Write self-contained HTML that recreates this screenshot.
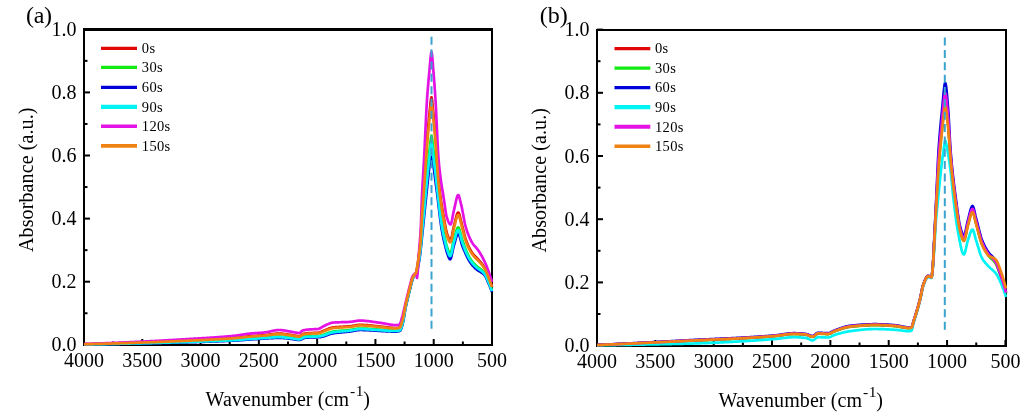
<!DOCTYPE html>
<html><head><meta charset="utf-8"><style>
html,body{margin:0;padding:0;background:#fff;}
svg{display:block;will-change:transform;}
text{font-family:"Liberation Serif",serif;fill:#000;}
.tl{font-size:20px;}
.at{font-size:20px;}
.lg{font-size:14.5px;letter-spacing:0.35px;}
.pl{font-size:24px;}
</style></head><body>
<svg width="1032" height="419" viewBox="0 0 1032 419">
<rect width="1032" height="419" fill="#fff"/>
<line x1="83" y1="29.5" x2="493" y2="29.5" stroke="#000" stroke-width="3"/>
<line x1="492" y1="29.5" x2="492" y2="346" stroke="#000" stroke-width="2"/>
<line x1="84" y1="29.5" x2="84" y2="346" stroke="#000" stroke-width="2"/>
<line x1="83" y1="345" x2="493" y2="345" stroke="#000" stroke-width="2"/>
<line x1="84.00" y1="345" x2="84.00" y2="339" stroke="#000" stroke-width="2"/>
<line x1="113.14" y1="345" x2="113.14" y2="341.5" stroke="#000" stroke-width="2"/>
<line x1="142.29" y1="345" x2="142.29" y2="339" stroke="#000" stroke-width="2"/>
<line x1="171.43" y1="345" x2="171.43" y2="341.5" stroke="#000" stroke-width="2"/>
<line x1="200.57" y1="345" x2="200.57" y2="339" stroke="#000" stroke-width="2"/>
<line x1="229.71" y1="345" x2="229.71" y2="341.5" stroke="#000" stroke-width="2"/>
<line x1="258.86" y1="345" x2="258.86" y2="339" stroke="#000" stroke-width="2"/>
<line x1="288.00" y1="345" x2="288.00" y2="341.5" stroke="#000" stroke-width="2"/>
<line x1="317.14" y1="345" x2="317.14" y2="339" stroke="#000" stroke-width="2"/>
<line x1="346.29" y1="345" x2="346.29" y2="341.5" stroke="#000" stroke-width="2"/>
<line x1="375.43" y1="345" x2="375.43" y2="339" stroke="#000" stroke-width="2"/>
<line x1="404.57" y1="345" x2="404.57" y2="341.5" stroke="#000" stroke-width="2"/>
<line x1="433.71" y1="345" x2="433.71" y2="339" stroke="#000" stroke-width="2"/>
<line x1="462.86" y1="345" x2="462.86" y2="341.5" stroke="#000" stroke-width="2"/>
<line x1="492.00" y1="345" x2="492.00" y2="339" stroke="#000" stroke-width="2"/>
<line x1="84" y1="344.80" x2="90" y2="344.80" stroke="#000" stroke-width="2"/>
<line x1="84" y1="313.25" x2="87.5" y2="313.25" stroke="#000" stroke-width="2"/>
<line x1="84" y1="281.70" x2="90" y2="281.70" stroke="#000" stroke-width="2"/>
<line x1="84" y1="250.15" x2="87.5" y2="250.15" stroke="#000" stroke-width="2"/>
<line x1="84" y1="218.60" x2="90" y2="218.60" stroke="#000" stroke-width="2"/>
<line x1="84" y1="187.05" x2="87.5" y2="187.05" stroke="#000" stroke-width="2"/>
<line x1="84" y1="155.50" x2="90" y2="155.50" stroke="#000" stroke-width="2"/>
<line x1="84" y1="123.95" x2="87.5" y2="123.95" stroke="#000" stroke-width="2"/>
<line x1="84" y1="92.40" x2="90" y2="92.40" stroke="#000" stroke-width="2"/>
<line x1="84" y1="60.85" x2="87.5" y2="60.85" stroke="#000" stroke-width="2"/>
<line x1="84" y1="29.30" x2="90" y2="29.30" stroke="#000" stroke-width="2"/>
<path d="M84.0 344.23 L84.5 344.22 L85.0 344.20 L85.5 344.19 L86.0 344.18 L86.5 344.16 L87.0 344.15 L87.5 344.14 L88.0 344.13 L88.5 344.11 L89.0 344.10 L89.5 344.09 L90.0 344.07 L90.5 344.06 L91.0 344.05 L91.5 344.03 L92.0 344.02 L92.5 344.01 L93.0 343.99 L93.5 343.98 L94.0 343.97 L94.5 343.95 L95.0 343.94 L95.5 343.93 L96.0 343.91 L96.5 343.90 L97.0 343.89 L97.5 343.87 L98.0 343.86 L98.5 343.84 L99.0 343.83 L99.5 343.82 L100.0 343.80 L100.5 343.79 L101.0 343.77 L101.5 343.76 L102.0 343.74 L102.5 343.73 L103.0 343.72 L103.5 343.70 L104.0 343.69 L104.5 343.67 L105.0 343.66 L105.5 343.64 L106.0 343.63 L106.5 343.61 L107.0 343.60 L107.5 343.58 L108.0 343.57 L108.5 343.55 L109.0 343.54 L109.5 343.52 L110.0 343.51 L110.5 343.49 L111.0 343.48 L111.5 343.46 L112.0 343.45 L112.5 343.43 L113.0 343.42 L113.5 343.40 L114.0 343.38 L114.5 343.37 L115.0 343.35 L115.5 343.34 L116.0 343.32 L116.5 343.31 L117.0 343.29 L117.5 343.27 L118.0 343.26 L118.5 343.24 L119.0 343.23 L119.5 343.21 L120.0 343.19 L120.5 343.18 L121.0 343.16 L121.5 343.15 L122.0 343.13 L122.5 343.11 L123.0 343.10 L123.5 343.08 L124.0 343.06 L124.5 343.05 L125.0 343.03 L125.5 343.01 L126.0 343.00 L126.5 342.98 L127.0 342.97 L127.5 342.95 L128.0 342.93 L128.5 342.91 L129.0 342.90 L129.5 342.88 L130.0 342.86 L130.5 342.85 L131.0 342.83 L131.5 342.81 L132.0 342.80 L132.5 342.78 L133.0 342.76 L133.5 342.75 L134.0 342.73 L134.5 342.71 L135.0 342.69 L135.5 342.68 L136.0 342.66 L136.5 342.64 L137.0 342.62 L137.5 342.61 L138.0 342.59 L138.5 342.57 L139.0 342.55 L139.5 342.54 L140.0 342.52 L140.5 342.50 L141.0 342.48 L141.5 342.46 L142.0 342.45 L142.5 342.43 L143.0 342.41 L143.5 342.39 L144.0 342.37 L144.5 342.35 L145.0 342.34 L145.5 342.32 L146.0 342.30 L146.5 342.28 L147.0 342.26 L147.5 342.24 L148.0 342.22 L148.5 342.20 L149.0 342.19 L149.5 342.17 L150.0 342.15 L150.5 342.13 L151.0 342.11 L151.5 342.09 L152.0 342.07 L152.5 342.05 L153.0 342.03 L153.5 342.01 L154.0 341.99 L154.5 341.97 L155.0 341.95 L155.5 341.93 L156.0 341.91 L156.5 341.89 L157.0 341.87 L157.5 341.85 L158.0 341.83 L158.5 341.81 L159.0 341.79 L159.5 341.77 L160.0 341.75 L160.5 341.73 L161.0 341.71 L161.5 341.69 L162.0 341.67 L162.5 341.65 L163.0 341.63 L163.5 341.61 L164.0 341.59 L164.5 341.57 L165.0 341.55 L165.5 341.53 L166.0 341.51 L166.5 341.48 L167.0 341.46 L167.5 341.44 L168.0 341.42 L168.5 341.40 L169.0 341.38 L169.5 341.36 L170.0 341.34 L170.5 341.31 L171.0 341.29 L171.5 341.27 L172.0 341.25 L172.5 341.23 L173.0 341.21 L173.5 341.18 L174.0 341.16 L174.5 341.14 L175.0 341.12 L175.5 341.10 L176.0 341.07 L176.5 341.05 L177.0 341.03 L177.5 341.01 L178.0 340.98 L178.5 340.96 L179.0 340.94 L179.5 340.92 L180.0 340.89 L180.5 340.87 L181.0 340.85 L181.5 340.83 L182.0 340.80 L182.5 340.78 L183.0 340.76 L183.5 340.73 L184.0 340.71 L184.5 340.69 L185.0 340.66 L185.5 340.64 L186.0 340.62 L186.5 340.60 L187.0 340.57 L187.5 340.55 L188.0 340.53 L188.5 340.50 L189.0 340.48 L189.5 340.46 L190.0 340.44 L190.5 340.41 L191.0 340.39 L191.5 340.37 L192.0 340.34 L192.5 340.32 L193.0 340.30 L193.5 340.28 L194.0 340.25 L194.5 340.23 L195.0 340.21 L195.5 340.18 L196.0 340.16 L196.5 340.14 L197.0 340.11 L197.5 340.09 L198.0 340.07 L198.5 340.04 L199.0 340.02 L199.5 340.00 L200.0 339.97 L200.5 339.95 L201.0 339.93 L201.5 339.90 L202.0 339.88 L202.5 339.86 L203.0 339.83 L203.5 339.81 L204.0 339.78 L204.5 339.76 L205.0 339.73 L205.5 339.71 L206.0 339.69 L206.5 339.66 L207.0 339.64 L207.5 339.61 L208.0 339.59 L208.5 339.56 L209.0 339.53 L209.5 339.51 L210.0 339.48 L210.5 339.46 L211.0 339.43 L211.5 339.40 L212.0 339.38 L212.5 339.35 L213.0 339.32 L213.5 339.30 L214.0 339.27 L214.5 339.24 L215.0 339.22 L215.5 339.19 L216.0 339.16 L216.5 339.13 L217.0 339.10 L217.5 339.07 L218.0 339.05 L218.5 339.02 L219.0 338.99 L219.5 338.96 L220.0 338.93 L220.5 338.90 L221.0 338.87 L221.5 338.84 L222.0 338.81 L222.5 338.78 L223.0 338.74 L223.5 338.71 L224.0 338.68 L224.5 338.65 L225.0 338.62 L225.5 338.58 L226.0 338.55 L226.5 338.52 L227.0 338.49 L227.5 338.45 L228.0 338.42 L228.5 338.38 L229.0 338.35 L229.5 338.31 L230.0 338.28 L230.5 338.24 L231.0 338.21 L231.5 338.17 L232.0 338.13 L232.5 338.10 L233.0 338.06 L233.5 338.02 L234.0 337.98 L234.5 337.94 L235.0 337.90 L235.5 337.86 L236.0 337.81 L236.5 337.76 L237.0 337.71 L237.5 337.66 L238.0 337.61 L238.5 337.55 L239.0 337.50 L239.5 337.44 L240.0 337.38 L240.5 337.33 L241.0 337.27 L241.5 337.21 L242.0 337.15 L242.5 337.09 L243.0 337.03 L243.5 336.97 L244.0 336.91 L244.5 336.85 L245.0 336.79 L245.5 336.73 L246.0 336.68 L246.5 336.62 L247.0 336.57 L247.5 336.52 L248.0 336.47 L248.5 336.42 L249.0 336.37 L249.5 336.33 L250.0 336.28 L250.5 336.24 L251.0 336.20 L251.5 336.16 L252.0 336.13 L252.5 336.09 L253.0 336.05 L253.5 336.02 L254.0 335.98 L254.5 335.94 L255.0 335.91 L255.5 335.87 L256.0 335.84 L256.5 335.80 L257.0 335.77 L257.5 335.74 L258.0 335.70 L258.5 335.67 L259.0 335.63 L259.5 335.60 L260.0 335.56 L260.5 335.52 L261.0 335.49 L261.5 335.45 L262.0 335.41 L262.5 335.37 L263.0 335.33 L263.5 335.29 L264.0 335.25 L264.5 335.21 L265.0 335.16 L265.5 335.12 L266.0 335.06 L266.5 335.01 L267.0 334.95 L267.5 334.88 L268.0 334.81 L268.5 334.74 L269.0 334.67 L269.5 334.60 L270.0 334.53 L270.5 334.45 L271.0 334.38 L271.5 334.30 L272.0 334.23 L272.5 334.16 L273.0 334.09 L273.5 334.02 L274.0 333.96 L274.5 333.90 L275.0 333.84 L275.5 333.79 L276.0 333.74 L276.5 333.70 L277.0 333.67 L277.5 333.64 L278.0 333.62 L278.5 333.60 L279.0 333.60 L279.5 333.60 L280.0 333.61 L280.5 333.62 L281.0 333.65 L281.5 333.68 L282.0 333.71 L282.5 333.76 L283.0 333.81 L283.5 333.86 L284.0 333.92 L284.5 333.99 L285.0 334.06 L285.5 334.13 L286.0 334.20 L286.5 334.27 L287.0 334.35 L287.5 334.43 L288.0 334.50 L288.5 334.58 L289.0 334.66 L289.5 334.73 L290.0 334.80 L290.5 334.88 L291.0 334.95 L291.5 335.03 L292.0 335.11 L292.5 335.19 L293.0 335.28 L293.5 335.37 L294.0 335.46 L294.5 335.56 L295.0 335.65 L295.5 335.74 L296.0 335.83 L296.5 335.91 L297.0 335.99 L297.5 336.07 L298.0 336.13 L298.5 336.17 L299.0 336.19 L299.5 336.11 L300.0 335.92 L300.5 335.64 L301.0 335.30 L301.5 334.94 L302.0 334.60 L302.5 334.29 L303.0 334.06 L303.5 333.89 L304.0 333.75 L304.5 333.62 L305.0 333.54 L305.5 333.47 L306.0 333.41 L306.5 333.36 L307.0 333.31 L307.5 333.26 L308.0 333.22 L308.5 333.18 L309.0 333.15 L309.5 333.12 L310.0 333.09 L310.5 333.06 L311.0 333.04 L311.5 333.02 L312.0 333.00 L312.5 332.98 L313.0 332.97 L313.5 332.95 L314.0 332.94 L314.5 332.92 L315.0 332.90 L315.5 332.89 L316.0 332.87 L316.5 332.84 L317.0 332.81 L317.5 332.78 L318.0 332.75 L318.5 332.69 L319.0 332.60 L319.5 332.47 L320.0 332.32 L320.5 332.15 L321.0 331.95 L321.5 331.74 L322.0 331.52 L322.5 331.29 L323.0 331.07 L323.5 330.85 L324.0 330.65 L324.5 330.45 L325.0 330.25 L325.5 330.04 L326.0 329.82 L326.5 329.61 L327.0 329.39 L327.5 329.17 L328.0 328.96 L328.5 328.76 L329.0 328.56 L329.5 328.37 L330.0 328.19 L330.5 328.03 L331.0 327.88 L331.5 327.75 L332.0 327.63 L332.5 327.54 L333.0 327.47 L333.5 327.41 L334.0 327.36 L334.5 327.31 L335.0 327.26 L335.5 327.22 L336.0 327.17 L336.5 327.13 L337.0 327.10 L337.5 327.06 L338.0 327.02 L338.5 326.99 L339.0 326.96 L339.5 326.93 L340.0 326.90 L340.5 326.87 L341.0 326.85 L341.5 326.82 L342.0 326.79 L342.5 326.77 L343.0 326.74 L343.5 326.71 L344.0 326.69 L344.5 326.66 L345.0 326.63 L345.5 326.60 L346.0 326.57 L346.5 326.54 L347.0 326.51 L347.5 326.47 L348.0 326.43 L348.5 326.40 L349.0 326.36 L349.5 326.31 L350.0 326.27 L350.5 326.22 L351.0 326.15 L351.5 326.08 L352.0 326.00 L352.5 325.92 L353.0 325.83 L353.5 325.74 L354.0 325.64 L354.5 325.55 L355.0 325.46 L355.5 325.36 L356.0 325.28 L356.5 325.19 L357.0 325.12 L357.5 325.05 L358.0 324.99 L358.5 324.94 L359.0 324.91 L359.5 324.88 L360.0 324.88 L360.5 324.88 L361.0 324.88 L361.5 324.89 L362.0 324.90 L362.5 324.92 L363.0 324.94 L363.5 324.96 L364.0 324.98 L364.5 325.01 L365.0 325.04 L365.5 325.07 L366.0 325.10 L366.5 325.14 L367.0 325.18 L367.5 325.22 L368.0 325.26 L368.5 325.30 L369.0 325.35 L369.5 325.40 L370.0 325.44 L370.5 325.49 L371.0 325.54 L371.5 325.59 L372.0 325.65 L372.5 325.70 L373.0 325.75 L373.5 325.81 L374.0 325.86 L374.5 325.92 L375.0 325.97 L375.5 326.03 L376.0 326.08 L376.5 326.13 L377.0 326.19 L377.5 326.24 L378.0 326.30 L378.5 326.35 L379.0 326.40 L379.5 326.45 L380.0 326.50 L380.5 326.55 L381.0 326.60 L381.5 326.66 L382.0 326.72 L382.5 326.78 L383.0 326.84 L383.5 326.90 L384.0 326.96 L384.5 327.03 L385.0 327.09 L385.5 327.16 L386.0 327.22 L386.5 327.29 L387.0 327.35 L387.5 327.41 L388.0 327.48 L388.5 327.54 L389.0 327.59 L389.5 327.65 L390.0 327.70 L390.5 327.75 L391.0 327.80 L391.5 327.85 L392.0 327.89 L392.5 327.93 L393.0 327.96 L393.5 327.99 L394.0 328.01 L394.5 328.03 L395.0 328.05 L395.5 328.05 L396.0 328.06 L396.5 328.05 L397.0 328.01 L397.5 327.96 L398.0 327.88 L398.5 327.78 L399.0 327.65 L399.5 327.51 L400.0 327.11 L400.5 326.20 L401.0 324.82 L401.5 323.18 L402.0 321.47 L402.5 319.73 L403.0 317.74 L403.5 315.43 L404.0 312.92 L404.5 310.35 L405.0 307.85 L405.5 305.51 L406.0 303.29 L406.5 301.11 L407.0 298.98 L407.5 296.89 L408.0 294.85 L408.5 292.84 L409.0 290.85 L409.5 288.89 L410.0 286.96 L410.5 285.06 L411.0 283.10 L411.5 281.10 L412.0 279.26 L412.5 277.84 L413.0 276.81 L413.5 276.01 L414.0 275.30 L414.5 274.68 L415.0 274.16 L415.5 273.62 L416.0 272.84 L416.5 271.07 L417.0 268.33 L417.5 265.23 L418.0 261.91 L418.5 258.20 L419.0 254.24 L419.5 250.37 L420.0 246.36 L420.5 241.44 L421.0 233.96 L421.5 223.65 L422.0 214.03 L422.5 206.50 L423.0 199.71 L423.5 193.08 L424.0 186.11 L424.5 178.48 L425.0 170.44 L425.5 162.29 L426.0 154.34 L426.5 146.91 L427.0 140.21 L427.5 134.19 L428.0 128.55 L428.5 123.24 L429.0 118.22 L429.5 113.45 L430.0 108.53 L430.5 103.53 L431.0 99.16 L431.5 97.27 L432.0 99.55 L432.5 104.57 L433.0 109.92 L433.5 114.91 L434.0 119.98 L434.5 125.34 L435.0 130.98 L435.5 136.91 L436.0 143.56 L436.5 151.06 L437.0 158.90 L437.5 166.59 L438.0 173.70 L438.5 179.72 L439.0 184.61 L439.5 189.16 L440.0 193.40 L440.5 197.34 L441.0 200.99 L441.5 204.34 L442.0 207.41 L442.5 210.31 L443.0 213.10 L443.5 215.84 L444.0 218.58 L444.5 221.40 L445.0 224.26 L445.5 227.05 L446.0 229.66 L446.5 231.93 L447.0 233.72 L447.5 235.15 L448.0 236.50 L448.5 237.79 L449.0 238.90 L449.5 239.75 L450.0 240.23 L450.5 240.20 L451.0 239.37 L451.5 237.74 L452.0 235.54 L452.5 233.02 L453.0 230.41 L453.5 227.97 L454.0 225.93 L454.5 224.03 L455.0 221.96 L455.5 219.83 L456.0 217.77 L456.5 215.89 L457.0 214.31 L457.5 213.17 L458.0 212.57 L458.5 212.68 L459.0 213.56 L459.5 215.04 L460.0 216.90 L460.5 218.95 L461.0 220.96 L461.5 222.95 L462.0 224.99 L462.5 226.99 L463.0 229.02 L463.5 231.07 L464.0 233.09 L464.5 235.05 L465.0 236.90 L465.5 238.59 L466.0 240.08 L466.5 241.43 L467.0 242.72 L467.5 243.95 L468.0 245.13 L468.5 246.24 L469.0 247.30 L469.5 248.30 L470.0 249.25 L470.5 250.13 L471.0 250.98 L471.5 251.78 L472.0 252.54 L472.5 253.25 L473.0 253.92 L473.5 254.54 L474.0 255.12 L474.5 255.67 L475.0 256.20 L475.5 256.71 L476.0 257.22 L476.5 257.73 L477.0 258.25 L477.5 258.77 L478.0 259.31 L478.5 259.86 L479.0 260.41 L479.5 260.97 L480.0 261.53 L480.5 262.10 L481.0 262.70 L481.5 263.31 L482.0 263.94 L482.5 264.60 L483.0 265.29 L483.5 266.02 L484.0 266.78 L484.5 267.59 L485.0 268.47 L485.5 269.45 L486.0 270.53 L486.5 271.68 L487.0 272.88 L487.5 274.12 L488.0 275.37 L488.5 276.64 L489.0 277.95 L489.5 279.30 L490.0 280.68 L490.5 282.10 L491.0 283.55 L491.5 285.04 L492.0 286.55" stroke="#e20606" stroke-width="2.7" fill="none" stroke-linejoin="round"/>
<path d="M84.0 344.42 L84.5 344.41 L85.0 344.40 L85.5 344.39 L86.0 344.38 L86.5 344.37 L87.0 344.37 L87.5 344.36 L88.0 344.35 L88.5 344.34 L89.0 344.33 L89.5 344.32 L90.0 344.31 L90.5 344.30 L91.0 344.29 L91.5 344.28 L92.0 344.27 L92.5 344.26 L93.0 344.25 L93.5 344.24 L94.0 344.23 L94.5 344.22 L95.0 344.21 L95.5 344.20 L96.0 344.19 L96.5 344.18 L97.0 344.17 L97.5 344.16 L98.0 344.15 L98.5 344.14 L99.0 344.13 L99.5 344.12 L100.0 344.11 L100.5 344.10 L101.0 344.09 L101.5 344.08 L102.0 344.07 L102.5 344.06 L103.0 344.05 L103.5 344.04 L104.0 344.03 L104.5 344.02 L105.0 344.01 L105.5 344.00 L106.0 343.99 L106.5 343.98 L107.0 343.97 L107.5 343.96 L108.0 343.95 L108.5 343.94 L109.0 343.92 L109.5 343.91 L110.0 343.90 L110.5 343.89 L111.0 343.88 L111.5 343.87 L112.0 343.86 L112.5 343.85 L113.0 343.84 L113.5 343.83 L114.0 343.81 L114.5 343.80 L115.0 343.79 L115.5 343.78 L116.0 343.77 L116.5 343.76 L117.0 343.75 L117.5 343.74 L118.0 343.72 L118.5 343.71 L119.0 343.70 L119.5 343.69 L120.0 343.68 L120.5 343.67 L121.0 343.66 L121.5 343.64 L122.0 343.63 L122.5 343.62 L123.0 343.61 L123.5 343.60 L124.0 343.58 L124.5 343.57 L125.0 343.56 L125.5 343.55 L126.0 343.54 L126.5 343.53 L127.0 343.51 L127.5 343.50 L128.0 343.49 L128.5 343.48 L129.0 343.47 L129.5 343.45 L130.0 343.44 L130.5 343.43 L131.0 343.42 L131.5 343.41 L132.0 343.39 L132.5 343.38 L133.0 343.37 L133.5 343.36 L134.0 343.34 L134.5 343.33 L135.0 343.32 L135.5 343.31 L136.0 343.29 L136.5 343.28 L137.0 343.27 L137.5 343.26 L138.0 343.24 L138.5 343.23 L139.0 343.22 L139.5 343.21 L140.0 343.19 L140.5 343.18 L141.0 343.17 L141.5 343.16 L142.0 343.14 L142.5 343.13 L143.0 343.12 L143.5 343.10 L144.0 343.09 L144.5 343.08 L145.0 343.06 L145.5 343.05 L146.0 343.04 L146.5 343.03 L147.0 343.01 L147.5 343.00 L148.0 342.99 L148.5 342.97 L149.0 342.96 L149.5 342.95 L150.0 342.93 L150.5 342.92 L151.0 342.90 L151.5 342.89 L152.0 342.88 L152.5 342.86 L153.0 342.85 L153.5 342.84 L154.0 342.82 L154.5 342.81 L155.0 342.79 L155.5 342.78 L156.0 342.77 L156.5 342.75 L157.0 342.74 L157.5 342.72 L158.0 342.71 L158.5 342.70 L159.0 342.68 L159.5 342.67 L160.0 342.65 L160.5 342.64 L161.0 342.62 L161.5 342.61 L162.0 342.60 L162.5 342.58 L163.0 342.57 L163.5 342.55 L164.0 342.54 L164.5 342.52 L165.0 342.51 L165.5 342.49 L166.0 342.48 L166.5 342.46 L167.0 342.45 L167.5 342.43 L168.0 342.42 L168.5 342.40 L169.0 342.39 L169.5 342.37 L170.0 342.36 L170.5 342.34 L171.0 342.33 L171.5 342.31 L172.0 342.29 L172.5 342.28 L173.0 342.26 L173.5 342.25 L174.0 342.23 L174.5 342.22 L175.0 342.20 L175.5 342.18 L176.0 342.17 L176.5 342.15 L177.0 342.14 L177.5 342.12 L178.0 342.10 L178.5 342.09 L179.0 342.07 L179.5 342.05 L180.0 342.04 L180.5 342.02 L181.0 342.00 L181.5 341.99 L182.0 341.97 L182.5 341.95 L183.0 341.94 L183.5 341.92 L184.0 341.90 L184.5 341.89 L185.0 341.87 L185.5 341.85 L186.0 341.84 L186.5 341.82 L187.0 341.80 L187.5 341.79 L188.0 341.77 L188.5 341.75 L189.0 341.73 L189.5 341.72 L190.0 341.70 L190.5 341.68 L191.0 341.67 L191.5 341.65 L192.0 341.63 L192.5 341.62 L193.0 341.60 L193.5 341.58 L194.0 341.56 L194.5 341.55 L195.0 341.53 L195.5 341.51 L196.0 341.49 L196.5 341.48 L197.0 341.46 L197.5 341.44 L198.0 341.42 L198.5 341.41 L199.0 341.39 L199.5 341.37 L200.0 341.35 L200.5 341.33 L201.0 341.32 L201.5 341.30 L202.0 341.28 L202.5 341.26 L203.0 341.24 L203.5 341.23 L204.0 341.21 L204.5 341.19 L205.0 341.17 L205.5 341.15 L206.0 341.13 L206.5 341.11 L207.0 341.09 L207.5 341.07 L208.0 341.06 L208.5 341.04 L209.0 341.02 L209.5 341.00 L210.0 340.98 L210.5 340.96 L211.0 340.94 L211.5 340.92 L212.0 340.90 L212.5 340.88 L213.0 340.86 L213.5 340.83 L214.0 340.81 L214.5 340.79 L215.0 340.77 L215.5 340.75 L216.0 340.73 L216.5 340.71 L217.0 340.69 L217.5 340.66 L218.0 340.64 L218.5 340.62 L219.0 340.60 L219.5 340.57 L220.0 340.55 L220.5 340.53 L221.0 340.50 L221.5 340.48 L222.0 340.46 L222.5 340.43 L223.0 340.41 L223.5 340.39 L224.0 340.36 L224.5 340.34 L225.0 340.31 L225.5 340.29 L226.0 340.26 L226.5 340.24 L227.0 340.21 L227.5 340.19 L228.0 340.16 L228.5 340.13 L229.0 340.11 L229.5 340.08 L230.0 340.05 L230.5 340.03 L231.0 340.00 L231.5 339.97 L232.0 339.95 L232.5 339.92 L233.0 339.89 L233.5 339.86 L234.0 339.83 L234.5 339.80 L235.0 339.77 L235.5 339.74 L236.0 339.70 L236.5 339.67 L237.0 339.63 L237.5 339.59 L238.0 339.55 L238.5 339.51 L239.0 339.47 L239.5 339.43 L240.0 339.39 L240.5 339.34 L241.0 339.30 L241.5 339.26 L242.0 339.21 L242.5 339.17 L243.0 339.12 L243.5 339.08 L244.0 339.04 L244.5 338.99 L245.0 338.95 L245.5 338.91 L246.0 338.86 L246.5 338.82 L247.0 338.78 L247.5 338.74 L248.0 338.70 L248.5 338.66 L249.0 338.63 L249.5 338.59 L250.0 338.56 L250.5 338.52 L251.0 338.49 L251.5 338.45 L252.0 338.42 L252.5 338.39 L253.0 338.35 L253.5 338.32 L254.0 338.28 L254.5 338.25 L255.0 338.21 L255.5 338.18 L256.0 338.14 L256.5 338.11 L257.0 338.07 L257.5 338.04 L258.0 338.00 L258.5 337.97 L259.0 337.93 L259.5 337.89 L260.0 337.86 L260.5 337.82 L261.0 337.79 L261.5 337.75 L262.0 337.72 L262.5 337.68 L263.0 337.64 L263.5 337.61 L264.0 337.57 L264.5 337.54 L265.0 337.50 L265.5 337.46 L266.0 337.43 L266.5 337.39 L267.0 337.35 L267.5 337.31 L268.0 337.27 L268.5 337.23 L269.0 337.19 L269.5 337.15 L270.0 337.11 L270.5 337.07 L271.0 337.03 L271.5 336.99 L272.0 336.95 L272.5 336.92 L273.0 336.88 L273.5 336.85 L274.0 336.82 L274.5 336.79 L275.0 336.76 L275.5 336.74 L276.0 336.71 L276.5 336.69 L277.0 336.68 L277.5 336.66 L278.0 336.65 L278.5 336.64 L279.0 336.64 L279.5 336.64 L280.0 336.64 L280.5 336.65 L281.0 336.66 L281.5 336.68 L282.0 336.71 L282.5 336.74 L283.0 336.78 L283.5 336.82 L284.0 336.86 L284.5 336.91 L285.0 336.97 L285.5 337.02 L286.0 337.08 L286.5 337.14 L287.0 337.21 L287.5 337.27 L288.0 337.34 L288.5 337.40 L289.0 337.47 L289.5 337.53 L290.0 337.60 L290.5 337.66 L291.0 337.73 L291.5 337.79 L292.0 337.86 L292.5 337.93 L293.0 338.01 L293.5 338.09 L294.0 338.18 L294.5 338.28 L295.0 338.37 L295.5 338.47 L296.0 338.56 L296.5 338.64 L297.0 338.72 L297.5 338.78 L298.0 338.83 L298.5 338.87 L299.0 338.88 L299.5 338.83 L300.0 338.70 L300.5 338.50 L301.0 338.25 L301.5 337.97 L302.0 337.69 L302.5 337.41 L303.0 337.16 L303.5 336.95 L304.0 336.77 L304.5 336.63 L305.0 336.55 L305.5 336.50 L306.0 336.45 L306.5 336.41 L307.0 336.37 L307.5 336.34 L308.0 336.31 L308.5 336.28 L309.0 336.25 L309.5 336.23 L310.0 336.21 L310.5 336.19 L311.0 336.17 L311.5 336.15 L312.0 336.14 L312.5 336.12 L313.0 336.11 L313.5 336.10 L314.0 336.08 L314.5 336.07 L315.0 336.05 L315.5 336.04 L316.0 336.02 L316.5 336.00 L317.0 335.97 L317.5 335.95 L318.0 335.92 L318.5 335.88 L319.0 335.83 L319.5 335.77 L320.0 335.70 L320.5 335.61 L321.0 335.50 L321.5 335.38 L322.0 335.24 L322.5 335.08 L323.0 334.92 L323.5 334.76 L324.0 334.59 L324.5 334.41 L325.0 334.23 L325.5 334.04 L326.0 333.84 L326.5 333.65 L327.0 333.45 L327.5 333.25 L328.0 333.06 L328.5 332.87 L329.0 332.68 L329.5 332.50 L330.0 332.33 L330.5 332.17 L331.0 332.02 L331.5 331.89 L332.0 331.77 L332.5 331.67 L333.0 331.59 L333.5 331.52 L334.0 331.45 L334.5 331.38 L335.0 331.32 L335.5 331.26 L336.0 331.21 L336.5 331.15 L337.0 331.10 L337.5 331.05 L338.0 331.01 L338.5 330.96 L339.0 330.92 L339.5 330.87 L340.0 330.83 L340.5 330.79 L341.0 330.75 L341.5 330.71 L342.0 330.67 L342.5 330.64 L343.0 330.60 L343.5 330.56 L344.0 330.52 L344.5 330.48 L345.0 330.44 L345.5 330.40 L346.0 330.36 L346.5 330.32 L347.0 330.27 L347.5 330.22 L348.0 330.18 L348.5 330.13 L349.0 330.08 L349.5 330.02 L350.0 329.96 L350.5 329.90 L351.0 329.83 L351.5 329.75 L352.0 329.66 L352.5 329.57 L353.0 329.48 L353.5 329.38 L354.0 329.28 L354.5 329.18 L355.0 329.08 L355.5 328.99 L356.0 328.90 L356.5 328.82 L357.0 328.74 L357.5 328.67 L358.0 328.61 L358.5 328.56 L359.0 328.53 L359.5 328.50 L360.0 328.50 L360.5 328.50 L361.0 328.50 L361.5 328.51 L362.0 328.51 L362.5 328.52 L363.0 328.54 L363.5 328.55 L364.0 328.57 L364.5 328.58 L365.0 328.60 L365.5 328.62 L366.0 328.65 L366.5 328.67 L367.0 328.70 L367.5 328.72 L368.0 328.75 L368.5 328.78 L369.0 328.81 L369.5 328.84 L370.0 328.88 L370.5 328.91 L371.0 328.94 L371.5 328.98 L372.0 329.01 L372.5 329.05 L373.0 329.09 L373.5 329.13 L374.0 329.16 L374.5 329.20 L375.0 329.24 L375.5 329.28 L376.0 329.32 L376.5 329.36 L377.0 329.40 L377.5 329.44 L378.0 329.48 L378.5 329.52 L379.0 329.56 L379.5 329.59 L380.0 329.63 L380.5 329.67 L381.0 329.71 L381.5 329.75 L382.0 329.79 L382.5 329.83 L383.0 329.87 L383.5 329.91 L384.0 329.95 L384.5 329.99 L385.0 330.02 L385.5 330.06 L386.0 330.10 L386.5 330.14 L387.0 330.18 L387.5 330.21 L388.0 330.25 L388.5 330.28 L389.0 330.31 L389.5 330.34 L390.0 330.37 L390.5 330.40 L391.0 330.43 L391.5 330.45 L392.0 330.47 L392.5 330.49 L393.0 330.51 L393.5 330.52 L394.0 330.54 L394.5 330.55 L395.0 330.55 L395.5 330.56 L396.0 330.56 L396.5 330.55 L397.0 330.51 L397.5 330.45 L398.0 330.36 L398.5 330.26 L399.0 330.12 L399.5 329.96 L400.0 329.72 L400.5 329.09 L401.0 327.96 L401.5 326.48 L402.0 324.82 L402.5 323.10 L403.0 321.05 L403.5 318.50 L404.0 315.65 L404.5 312.70 L405.0 309.84 L405.5 307.27 L406.0 304.95 L406.5 302.73 L407.0 300.58 L407.5 298.48 L408.0 296.42 L408.5 294.37 L409.0 292.32 L409.5 290.31 L410.0 288.32 L410.5 286.37 L411.0 284.44 L411.5 282.46 L412.0 280.52 L412.5 278.88 L413.0 277.69 L413.5 276.77 L414.0 275.99 L414.5 275.26 L415.0 274.63 L415.5 274.05 L416.0 273.34 L416.5 272.11 L417.0 270.24 L417.5 267.97 L418.0 265.45 L418.5 262.67 L419.0 259.52 L419.5 256.12 L420.0 252.46 L420.5 248.23 L421.0 242.87 L421.5 236.46 L422.0 230.14 L422.5 224.45 L423.0 219.09 L423.5 213.71 L424.0 208.20 L424.5 202.47 L425.0 196.63 L425.5 190.78 L426.0 185.06 L426.5 179.56 L427.0 174.24 L427.5 169.10 L428.0 164.10 L428.5 159.27 L429.0 154.63 L429.5 150.21 L430.0 145.95 L430.5 141.69 L431.0 137.50 L431.5 135.58 L432.0 137.88 L432.5 142.57 L433.0 146.85 L433.5 150.93 L434.0 155.07 L434.5 159.32 L435.0 163.68 L435.5 168.13 L436.0 172.81 L436.5 177.74 L437.0 182.77 L437.5 187.76 L438.0 192.69 L438.5 197.40 L439.0 201.82 L439.5 206.12 L440.0 210.26 L440.5 214.19 L441.0 217.85 L441.5 221.19 L442.0 224.17 L442.5 226.92 L443.0 229.50 L443.5 231.95 L444.0 234.31 L444.5 236.63 L445.0 238.91 L445.5 241.16 L446.0 243.32 L446.5 245.31 L447.0 247.03 L447.5 248.47 L448.0 249.83 L448.5 251.17 L449.0 252.36 L449.5 253.25 L450.0 253.69 L450.5 253.48 L451.0 252.44 L451.5 250.72 L452.0 248.52 L452.5 246.08 L453.0 243.60 L453.5 241.30 L454.0 239.40 L454.5 237.67 L455.0 235.79 L455.5 233.87 L456.0 232.02 L456.5 230.34 L457.0 228.93 L457.5 227.92 L458.0 227.39 L458.5 227.48 L459.0 228.28 L459.5 229.63 L460.0 231.36 L460.5 233.31 L461.0 235.31 L461.5 237.24 L462.0 239.03 L462.5 240.56 L463.0 242.04 L463.5 243.51 L464.0 244.97 L464.5 246.39 L465.0 247.76 L465.5 249.07 L466.0 250.30 L466.5 251.46 L467.0 252.58 L467.5 253.65 L468.0 254.68 L468.5 255.65 L469.0 256.58 L469.5 257.44 L470.0 258.26 L470.5 259.02 L471.0 259.75 L471.5 260.44 L472.0 261.11 L472.5 261.74 L473.0 262.34 L473.5 262.91 L474.0 263.46 L474.5 263.98 L475.0 264.49 L475.5 264.97 L476.0 265.45 L476.5 265.91 L477.0 266.36 L477.5 266.79 L478.0 267.19 L478.5 267.58 L479.0 267.95 L479.5 268.32 L480.0 268.68 L480.5 269.05 L481.0 269.42 L481.5 269.82 L482.0 270.23 L482.5 270.67 L483.0 271.14 L483.5 271.66 L484.0 272.21 L484.5 272.82 L485.0 273.55 L485.5 274.43 L486.0 275.44 L486.5 276.55 L487.0 277.70 L487.5 278.89 L488.0 280.05 L488.5 281.22 L489.0 282.43 L489.5 283.67 L490.0 284.95 L490.5 286.26 L491.0 287.61 L491.5 288.99 L492.0 290.40" stroke="#12ec12" stroke-width="2.7" fill="none" stroke-linejoin="round"/>
<path d="M84.0 344.50 L84.5 344.49 L85.0 344.48 L85.5 344.48 L86.0 344.47 L86.5 344.46 L87.0 344.45 L87.5 344.45 L88.0 344.44 L88.5 344.43 L89.0 344.42 L89.5 344.42 L90.0 344.41 L90.5 344.40 L91.0 344.39 L91.5 344.38 L92.0 344.38 L92.5 344.37 L93.0 344.36 L93.5 344.35 L94.0 344.34 L94.5 344.34 L95.0 344.33 L95.5 344.32 L96.0 344.31 L96.5 344.30 L97.0 344.29 L97.5 344.29 L98.0 344.28 L98.5 344.27 L99.0 344.26 L99.5 344.25 L100.0 344.24 L100.5 344.23 L101.0 344.23 L101.5 344.22 L102.0 344.21 L102.5 344.20 L103.0 344.19 L103.5 344.18 L104.0 344.17 L104.5 344.17 L105.0 344.16 L105.5 344.15 L106.0 344.14 L106.5 344.13 L107.0 344.12 L107.5 344.11 L108.0 344.10 L108.5 344.09 L109.0 344.08 L109.5 344.08 L110.0 344.07 L110.5 344.06 L111.0 344.05 L111.5 344.04 L112.0 344.03 L112.5 344.02 L113.0 344.01 L113.5 344.00 L114.0 343.99 L114.5 343.98 L115.0 343.97 L115.5 343.96 L116.0 343.96 L116.5 343.95 L117.0 343.94 L117.5 343.93 L118.0 343.92 L118.5 343.91 L119.0 343.90 L119.5 343.89 L120.0 343.88 L120.5 343.87 L121.0 343.86 L121.5 343.85 L122.0 343.84 L122.5 343.83 L123.0 343.82 L123.5 343.81 L124.0 343.80 L124.5 343.79 L125.0 343.78 L125.5 343.77 L126.0 343.76 L126.5 343.75 L127.0 343.74 L127.5 343.73 L128.0 343.72 L128.5 343.71 L129.0 343.70 L129.5 343.69 L130.0 343.68 L130.5 343.67 L131.0 343.66 L131.5 343.65 L132.0 343.64 L132.5 343.63 L133.0 343.62 L133.5 343.61 L134.0 343.60 L134.5 343.59 L135.0 343.58 L135.5 343.57 L136.0 343.56 L136.5 343.55 L137.0 343.54 L137.5 343.53 L138.0 343.52 L138.5 343.51 L139.0 343.50 L139.5 343.49 L140.0 343.47 L140.5 343.46 L141.0 343.45 L141.5 343.44 L142.0 343.43 L142.5 343.42 L143.0 343.41 L143.5 343.40 L144.0 343.39 L144.5 343.38 L145.0 343.37 L145.5 343.36 L146.0 343.35 L146.5 343.34 L147.0 343.32 L147.5 343.31 L148.0 343.30 L148.5 343.29 L149.0 343.28 L149.5 343.27 L150.0 343.26 L150.5 343.25 L151.0 343.24 L151.5 343.22 L152.0 343.21 L152.5 343.20 L153.0 343.19 L153.5 343.18 L154.0 343.17 L154.5 343.16 L155.0 343.14 L155.5 343.13 L156.0 343.12 L156.5 343.11 L157.0 343.10 L157.5 343.09 L158.0 343.08 L158.5 343.06 L159.0 343.05 L159.5 343.04 L160.0 343.03 L160.5 343.02 L161.0 343.00 L161.5 342.99 L162.0 342.98 L162.5 342.97 L163.0 342.96 L163.5 342.94 L164.0 342.93 L164.5 342.92 L165.0 342.91 L165.5 342.89 L166.0 342.88 L166.5 342.87 L167.0 342.86 L167.5 342.84 L168.0 342.83 L168.5 342.82 L169.0 342.81 L169.5 342.79 L170.0 342.78 L170.5 342.77 L171.0 342.75 L171.5 342.74 L172.0 342.73 L172.5 342.72 L173.0 342.70 L173.5 342.69 L174.0 342.68 L174.5 342.66 L175.0 342.65 L175.5 342.64 L176.0 342.62 L176.5 342.61 L177.0 342.60 L177.5 342.58 L178.0 342.57 L178.5 342.55 L179.0 342.54 L179.5 342.53 L180.0 342.51 L180.5 342.50 L181.0 342.49 L181.5 342.47 L182.0 342.46 L182.5 342.44 L183.0 342.43 L183.5 342.41 L184.0 342.40 L184.5 342.39 L185.0 342.37 L185.5 342.36 L186.0 342.34 L186.5 342.33 L187.0 342.31 L187.5 342.30 L188.0 342.28 L188.5 342.27 L189.0 342.26 L189.5 342.24 L190.0 342.23 L190.5 342.21 L191.0 342.20 L191.5 342.18 L192.0 342.17 L192.5 342.15 L193.0 342.14 L193.5 342.12 L194.0 342.11 L194.5 342.09 L195.0 342.08 L195.5 342.06 L196.0 342.05 L196.5 342.03 L197.0 342.02 L197.5 342.00 L198.0 341.99 L198.5 341.97 L199.0 341.96 L199.5 341.94 L200.0 341.93 L200.5 341.91 L201.0 341.89 L201.5 341.88 L202.0 341.86 L202.5 341.85 L203.0 341.83 L203.5 341.81 L204.0 341.80 L204.5 341.78 L205.0 341.77 L205.5 341.75 L206.0 341.73 L206.5 341.72 L207.0 341.70 L207.5 341.68 L208.0 341.67 L208.5 341.65 L209.0 341.63 L209.5 341.61 L210.0 341.60 L210.5 341.58 L211.0 341.56 L211.5 341.54 L212.0 341.53 L212.5 341.51 L213.0 341.49 L213.5 341.47 L214.0 341.45 L214.5 341.44 L215.0 341.42 L215.5 341.40 L216.0 341.38 L216.5 341.36 L217.0 341.34 L217.5 341.32 L218.0 341.30 L218.5 341.28 L219.0 341.27 L219.5 341.25 L220.0 341.23 L220.5 341.21 L221.0 341.19 L221.5 341.16 L222.0 341.14 L222.5 341.12 L223.0 341.10 L223.5 341.08 L224.0 341.06 L224.5 341.04 L225.0 341.02 L225.5 341.00 L226.0 340.97 L226.5 340.95 L227.0 340.93 L227.5 340.91 L228.0 340.89 L228.5 340.86 L229.0 340.84 L229.5 340.82 L230.0 340.79 L230.5 340.77 L231.0 340.75 L231.5 340.72 L232.0 340.70 L232.5 340.67 L233.0 340.65 L233.5 340.62 L234.0 340.60 L234.5 340.57 L235.0 340.55 L235.5 340.52 L236.0 340.49 L236.5 340.46 L237.0 340.43 L237.5 340.39 L238.0 340.36 L238.5 340.33 L239.0 340.29 L239.5 340.26 L240.0 340.22 L240.5 340.18 L241.0 340.15 L241.5 340.11 L242.0 340.07 L242.5 340.03 L243.0 340.00 L243.5 339.96 L244.0 339.92 L244.5 339.88 L245.0 339.85 L245.5 339.81 L246.0 339.77 L246.5 339.73 L247.0 339.70 L247.5 339.66 L248.0 339.63 L248.5 339.60 L249.0 339.56 L249.5 339.53 L250.0 339.50 L250.5 339.47 L251.0 339.44 L251.5 339.41 L252.0 339.37 L252.5 339.34 L253.0 339.31 L253.5 339.27 L254.0 339.24 L254.5 339.20 L255.0 339.17 L255.5 339.14 L256.0 339.10 L256.5 339.06 L257.0 339.03 L257.5 338.99 L258.0 338.96 L258.5 338.92 L259.0 338.89 L259.5 338.85 L260.0 338.81 L260.5 338.78 L261.0 338.74 L261.5 338.71 L262.0 338.67 L262.5 338.64 L263.0 338.61 L263.5 338.57 L264.0 338.54 L264.5 338.50 L265.0 338.47 L265.5 338.44 L266.0 338.41 L266.5 338.38 L267.0 338.35 L267.5 338.32 L268.0 338.29 L268.5 338.26 L269.0 338.23 L269.5 338.21 L270.0 338.18 L270.5 338.15 L271.0 338.13 L271.5 338.11 L272.0 338.09 L272.5 338.06 L273.0 338.04 L273.5 338.03 L274.0 338.01 L274.5 337.99 L275.0 337.98 L275.5 337.96 L276.0 337.95 L276.5 337.94 L277.0 337.93 L277.5 337.92 L278.0 337.91 L278.5 337.91 L279.0 337.90 L279.5 337.90 L280.0 337.90 L280.5 337.90 L281.0 337.91 L281.5 337.93 L282.0 337.95 L282.5 337.98 L283.0 338.01 L283.5 338.04 L284.0 338.08 L284.5 338.13 L285.0 338.18 L285.5 338.23 L286.0 338.28 L286.5 338.33 L287.0 338.39 L287.5 338.45 L288.0 338.51 L288.5 338.57 L289.0 338.64 L289.5 338.70 L290.0 338.76 L290.5 338.82 L291.0 338.88 L291.5 338.94 L292.0 339.00 L292.5 339.06 L293.0 339.14 L293.5 339.22 L294.0 339.31 L294.5 339.41 L295.0 339.51 L295.5 339.60 L296.0 339.69 L296.5 339.77 L297.0 339.85 L297.5 339.91 L298.0 339.96 L298.5 339.99 L299.0 340.00 L299.5 339.96 L300.0 339.85 L300.5 339.68 L301.0 339.47 L301.5 339.23 L302.0 338.97 L302.5 338.71 L303.0 338.45 L303.5 338.22 L304.0 338.03 L304.5 337.88 L305.0 337.80 L305.5 337.76 L306.0 337.72 L306.5 337.68 L307.0 337.65 L307.5 337.61 L308.0 337.59 L308.5 337.56 L309.0 337.54 L309.5 337.52 L310.0 337.50 L310.5 337.49 L311.0 337.47 L311.5 337.46 L312.0 337.44 L312.5 337.43 L313.0 337.42 L313.5 337.40 L314.0 337.39 L314.5 337.38 L315.0 337.36 L315.5 337.34 L316.0 337.33 L316.5 337.31 L317.0 337.29 L317.5 337.26 L318.0 337.24 L318.5 337.21 L319.0 337.17 L319.5 337.14 L320.0 337.10 L320.5 337.05 L321.0 336.98 L321.5 336.89 L322.0 336.78 L322.5 336.66 L323.0 336.53 L323.5 336.38 L324.0 336.22 L324.5 336.05 L325.0 335.88 L325.5 335.70 L326.0 335.51 L326.5 335.32 L327.0 335.14 L327.5 334.95 L328.0 334.76 L328.5 334.57 L329.0 334.39 L329.5 334.22 L330.0 334.05 L330.5 333.89 L331.0 333.75 L331.5 333.61 L332.0 333.49 L332.5 333.39 L333.0 333.30 L333.5 333.22 L334.0 333.15 L334.5 333.08 L335.0 333.01 L335.5 332.95 L336.0 332.88 L336.5 332.82 L337.0 332.77 L337.5 332.71 L338.0 332.66 L338.5 332.61 L339.0 332.56 L339.5 332.51 L340.0 332.46 L340.5 332.42 L341.0 332.37 L341.5 332.33 L342.0 332.29 L342.5 332.24 L343.0 332.20 L343.5 332.16 L344.0 332.11 L344.5 332.07 L345.0 332.02 L345.5 331.98 L346.0 331.93 L346.5 331.88 L347.0 331.84 L347.5 331.78 L348.0 331.73 L348.5 331.68 L349.0 331.62 L349.5 331.56 L350.0 331.50 L350.5 331.43 L351.0 331.36 L351.5 331.27 L352.0 331.18 L352.5 331.09 L353.0 330.99 L353.5 330.89 L354.0 330.79 L354.5 330.69 L355.0 330.59 L355.5 330.50 L356.0 330.41 L356.5 330.32 L357.0 330.24 L357.5 330.18 L358.0 330.12 L358.5 330.07 L359.0 330.03 L359.5 330.01 L360.0 330.00 L360.5 330.00 L361.0 330.00 L361.5 330.01 L362.0 330.01 L362.5 330.02 L363.0 330.03 L363.5 330.04 L364.0 330.05 L364.5 330.07 L365.0 330.08 L365.5 330.10 L366.0 330.12 L366.5 330.14 L367.0 330.16 L367.5 330.18 L368.0 330.20 L368.5 330.23 L369.0 330.25 L369.5 330.28 L370.0 330.30 L370.5 330.33 L371.0 330.36 L371.5 330.39 L372.0 330.41 L372.5 330.44 L373.0 330.48 L373.5 330.51 L374.0 330.54 L374.5 330.57 L375.0 330.60 L375.5 330.63 L376.0 330.67 L376.5 330.70 L377.0 330.73 L377.5 330.77 L378.0 330.80 L378.5 330.83 L379.0 330.87 L379.5 330.90 L380.0 330.93 L380.5 330.97 L381.0 331.00 L381.5 331.03 L382.0 331.06 L382.5 331.09 L383.0 331.12 L383.5 331.16 L384.0 331.19 L384.5 331.21 L385.0 331.24 L385.5 331.27 L386.0 331.30 L386.5 331.32 L387.0 331.35 L387.5 331.37 L388.0 331.40 L388.5 331.42 L389.0 331.44 L389.5 331.46 L390.0 331.48 L390.5 331.50 L391.0 331.52 L391.5 331.53 L392.0 331.55 L392.5 331.56 L393.0 331.57 L393.5 331.58 L394.0 331.59 L394.5 331.59 L395.0 331.60 L395.5 331.60 L396.0 331.60 L396.5 331.59 L397.0 331.55 L397.5 331.49 L398.0 331.40 L398.5 331.29 L399.0 331.15 L399.5 330.99 L400.0 330.80 L400.5 330.29 L401.0 329.26 L401.5 327.85 L402.0 326.22 L402.5 324.50 L403.0 322.43 L403.5 319.78 L404.0 316.79 L404.5 313.67 L405.0 310.67 L405.5 308.00 L406.0 305.64 L406.5 303.40 L407.0 301.24 L407.5 299.14 L408.0 297.07 L408.5 295.00 L409.0 292.93 L409.5 290.89 L410.0 288.89 L410.5 286.92 L411.0 285.00 L411.5 283.02 L412.0 281.05 L412.5 279.32 L413.0 278.05 L413.5 277.08 L414.0 276.27 L414.5 275.50 L415.0 274.82 L415.5 274.23 L416.0 273.54 L416.5 272.55 L417.0 271.04 L417.5 269.11 L418.0 266.92 L418.5 264.53 L419.0 261.71 L419.5 258.51 L420.0 255.00 L420.5 251.05 L421.0 246.58 L421.5 241.78 L422.0 236.83 L422.5 231.92 L423.0 227.14 L423.5 222.29 L424.0 217.38 L424.5 212.44 L425.0 207.51 L425.5 202.63 L426.0 197.83 L426.5 193.12 L427.0 188.38 L427.5 183.61 L428.0 178.88 L428.5 174.24 L429.0 169.75 L429.5 165.49 L430.0 161.50 L430.5 157.54 L431.0 153.43 L431.5 151.50 L432.0 153.81 L432.5 158.36 L433.0 162.20 L433.5 165.90 L434.0 169.65 L434.5 173.44 L435.0 177.27 L435.5 181.11 L436.0 184.97 L436.5 188.83 L437.0 192.69 L437.5 196.56 L438.0 200.59 L438.5 204.75 L439.0 208.97 L439.5 213.17 L440.0 217.26 L440.5 221.19 L441.0 224.85 L441.5 228.19 L442.0 231.14 L442.5 233.82 L443.0 236.31 L443.5 238.64 L444.0 240.85 L444.5 242.95 L445.0 245.00 L445.5 247.02 L446.0 249.00 L446.5 250.87 L447.0 252.55 L447.5 254.00 L448.0 255.36 L448.5 256.74 L449.0 257.96 L449.5 258.86 L450.0 259.29 L450.5 259.00 L451.0 257.87 L451.5 256.11 L452.0 253.92 L452.5 251.50 L453.0 249.07 L453.5 246.84 L454.0 245.00 L454.5 243.33 L455.0 241.53 L455.5 239.70 L456.0 237.94 L456.5 236.34 L457.0 235.01 L457.5 234.05 L458.0 233.55 L458.5 233.64 L459.0 234.40 L459.5 235.69 L460.0 237.37 L460.5 239.28 L461.0 241.27 L461.5 243.18 L462.0 244.86 L462.5 246.20 L463.0 247.45 L463.5 248.69 L464.0 249.91 L464.5 251.10 L465.0 252.28 L465.5 253.43 L466.0 254.54 L466.5 255.63 L467.0 256.68 L467.5 257.68 L468.0 258.65 L468.5 259.56 L469.0 260.43 L469.5 261.24 L470.0 262.00 L470.5 262.71 L471.0 263.39 L471.5 264.05 L472.0 264.67 L472.5 265.27 L473.0 265.84 L473.5 266.40 L474.0 266.93 L474.5 267.44 L475.0 267.93 L475.5 268.41 L476.0 268.87 L476.5 269.31 L477.0 269.74 L477.5 270.12 L478.0 270.47 L478.5 270.79 L479.0 271.09 L479.5 271.37 L480.0 271.65 L480.5 271.93 L481.0 272.22 L481.5 272.52 L482.0 272.84 L482.5 273.19 L483.0 273.57 L483.5 274.00 L484.0 274.47 L484.5 275.00 L485.0 275.66 L485.5 276.50 L486.0 277.49 L486.5 278.57 L487.0 279.71 L487.5 280.87 L488.0 282.00 L488.5 283.13 L489.0 284.29 L489.5 285.49 L490.0 286.73 L490.5 287.99 L491.0 289.30 L491.5 290.63 L492.0 292.00" stroke="#0000d8" stroke-width="2.7" fill="none" stroke-linejoin="round"/>
<path d="M84.0 344.45 L84.5 344.45 L85.0 344.44 L85.5 344.43 L86.0 344.42 L86.5 344.41 L87.0 344.40 L87.5 344.40 L88.0 344.39 L88.5 344.38 L89.0 344.37 L89.5 344.36 L90.0 344.35 L90.5 344.34 L91.0 344.33 L91.5 344.33 L92.0 344.32 L92.5 344.31 L93.0 344.30 L93.5 344.29 L94.0 344.28 L94.5 344.27 L95.0 344.26 L95.5 344.25 L96.0 344.24 L96.5 344.24 L97.0 344.23 L97.5 344.22 L98.0 344.21 L98.5 344.20 L99.0 344.19 L99.5 344.18 L100.0 344.17 L100.5 344.16 L101.0 344.15 L101.5 344.14 L102.0 344.13 L102.5 344.12 L103.0 344.11 L103.5 344.10 L104.0 344.09 L104.5 344.08 L105.0 344.07 L105.5 344.06 L106.0 344.05 L106.5 344.04 L107.0 344.03 L107.5 344.02 L108.0 344.01 L108.5 344.00 L109.0 343.99 L109.5 343.98 L110.0 343.97 L110.5 343.96 L111.0 343.95 L111.5 343.94 L112.0 343.93 L112.5 343.92 L113.0 343.91 L113.5 343.90 L114.0 343.89 L114.5 343.88 L115.0 343.87 L115.5 343.86 L116.0 343.85 L116.5 343.84 L117.0 343.83 L117.5 343.82 L118.0 343.81 L118.5 343.80 L119.0 343.79 L119.5 343.78 L120.0 343.77 L120.5 343.76 L121.0 343.74 L121.5 343.73 L122.0 343.72 L122.5 343.71 L123.0 343.70 L123.5 343.69 L124.0 343.68 L124.5 343.67 L125.0 343.66 L125.5 343.65 L126.0 343.64 L126.5 343.62 L127.0 343.61 L127.5 343.60 L128.0 343.59 L128.5 343.58 L129.0 343.57 L129.5 343.56 L130.0 343.55 L130.5 343.54 L131.0 343.52 L131.5 343.51 L132.0 343.50 L132.5 343.49 L133.0 343.48 L133.5 343.47 L134.0 343.46 L134.5 343.44 L135.0 343.43 L135.5 343.42 L136.0 343.41 L136.5 343.40 L137.0 343.39 L137.5 343.38 L138.0 343.36 L138.5 343.35 L139.0 343.34 L139.5 343.33 L140.0 343.32 L140.5 343.31 L141.0 343.29 L141.5 343.28 L142.0 343.27 L142.5 343.26 L143.0 343.25 L143.5 343.23 L144.0 343.22 L144.5 343.21 L145.0 343.20 L145.5 343.19 L146.0 343.17 L146.5 343.16 L147.0 343.15 L147.5 343.14 L148.0 343.12 L148.5 343.11 L149.0 343.10 L149.5 343.09 L150.0 343.07 L150.5 343.06 L151.0 343.05 L151.5 343.04 L152.0 343.02 L152.5 343.01 L153.0 343.00 L153.5 342.99 L154.0 342.97 L154.5 342.96 L155.0 342.95 L155.5 342.94 L156.0 342.92 L156.5 342.91 L157.0 342.90 L157.5 342.88 L158.0 342.87 L158.5 342.86 L159.0 342.84 L159.5 342.83 L160.0 342.82 L160.5 342.80 L161.0 342.79 L161.5 342.78 L162.0 342.76 L162.5 342.75 L163.0 342.74 L163.5 342.72 L164.0 342.71 L164.5 342.70 L165.0 342.68 L165.5 342.67 L166.0 342.65 L166.5 342.64 L167.0 342.63 L167.5 342.61 L168.0 342.60 L168.5 342.58 L169.0 342.57 L169.5 342.56 L170.0 342.54 L170.5 342.53 L171.0 342.51 L171.5 342.50 L172.0 342.48 L172.5 342.47 L173.0 342.46 L173.5 342.44 L174.0 342.43 L174.5 342.41 L175.0 342.40 L175.5 342.38 L176.0 342.37 L176.5 342.35 L177.0 342.34 L177.5 342.32 L178.0 342.31 L178.5 342.29 L179.0 342.28 L179.5 342.26 L180.0 342.25 L180.5 342.23 L181.0 342.21 L181.5 342.20 L182.0 342.18 L182.5 342.17 L183.0 342.15 L183.5 342.14 L184.0 342.12 L184.5 342.11 L185.0 342.09 L185.5 342.07 L186.0 342.06 L186.5 342.04 L187.0 342.03 L187.5 342.01 L188.0 341.99 L188.5 341.98 L189.0 341.96 L189.5 341.95 L190.0 341.93 L190.5 341.91 L191.0 341.90 L191.5 341.88 L192.0 341.87 L192.5 341.85 L193.0 341.83 L193.5 341.82 L194.0 341.80 L194.5 341.79 L195.0 341.77 L195.5 341.75 L196.0 341.74 L196.5 341.72 L197.0 341.70 L197.5 341.69 L198.0 341.67 L198.5 341.65 L199.0 341.64 L199.5 341.62 L200.0 341.60 L200.5 341.59 L201.0 341.57 L201.5 341.55 L202.0 341.54 L202.5 341.52 L203.0 341.50 L203.5 341.48 L204.0 341.47 L204.5 341.45 L205.0 341.43 L205.5 341.41 L206.0 341.40 L206.5 341.38 L207.0 341.36 L207.5 341.34 L208.0 341.32 L208.5 341.30 L209.0 341.29 L209.5 341.27 L210.0 341.25 L210.5 341.23 L211.0 341.21 L211.5 341.19 L212.0 341.17 L212.5 341.15 L213.0 341.13 L213.5 341.11 L214.0 341.09 L214.5 341.07 L215.0 341.05 L215.5 341.03 L216.0 341.01 L216.5 340.99 L217.0 340.97 L217.5 340.95 L218.0 340.93 L218.5 340.91 L219.0 340.89 L219.5 340.87 L220.0 340.85 L220.5 340.82 L221.0 340.80 L221.5 340.78 L222.0 340.76 L222.5 340.74 L223.0 340.71 L223.5 340.69 L224.0 340.67 L224.5 340.64 L225.0 340.62 L225.5 340.60 L226.0 340.57 L226.5 340.55 L227.0 340.53 L227.5 340.50 L228.0 340.48 L228.5 340.45 L229.0 340.43 L229.5 340.40 L230.0 340.38 L230.5 340.35 L231.0 340.33 L231.5 340.30 L232.0 340.27 L232.5 340.25 L233.0 340.22 L233.5 340.20 L234.0 340.17 L234.5 340.14 L235.0 340.11 L235.5 340.08 L236.0 340.05 L236.5 340.01 L237.0 339.98 L237.5 339.94 L238.0 339.91 L238.5 339.87 L239.0 339.83 L239.5 339.79 L240.0 339.75 L240.5 339.71 L241.0 339.67 L241.5 339.63 L242.0 339.59 L242.5 339.55 L243.0 339.51 L243.5 339.46 L244.0 339.42 L244.5 339.38 L245.0 339.34 L245.5 339.30 L246.0 339.26 L246.5 339.22 L247.0 339.18 L247.5 339.14 L248.0 339.11 L248.5 339.07 L249.0 339.04 L249.5 339.00 L250.0 338.97 L250.5 338.94 L251.0 338.90 L251.5 338.87 L252.0 338.84 L252.5 338.80 L253.0 338.77 L253.5 338.74 L254.0 338.70 L254.5 338.67 L255.0 338.63 L255.5 338.60 L256.0 338.56 L256.5 338.53 L257.0 338.49 L257.5 338.46 L258.0 338.42 L258.5 338.38 L259.0 338.35 L259.5 338.31 L260.0 338.28 L260.5 338.24 L261.0 338.21 L261.5 338.17 L262.0 338.14 L262.5 338.10 L263.0 338.06 L263.5 338.03 L264.0 337.99 L264.5 337.96 L265.0 337.93 L265.5 337.89 L266.0 337.86 L266.5 337.82 L267.0 337.79 L267.5 337.75 L268.0 337.71 L268.5 337.68 L269.0 337.64 L269.5 337.61 L270.0 337.58 L270.5 337.54 L271.0 337.51 L271.5 337.48 L272.0 337.45 L272.5 337.42 L273.0 337.39 L273.5 337.36 L274.0 337.34 L274.5 337.32 L275.0 337.29 L275.5 337.27 L276.0 337.25 L276.5 337.24 L277.0 337.22 L277.5 337.21 L278.0 337.20 L278.5 337.20 L279.0 337.19 L279.5 337.19 L280.0 337.19 L280.5 337.20 L281.0 337.21 L281.5 337.23 L282.0 337.25 L282.5 337.28 L283.0 337.31 L283.5 337.35 L284.0 337.40 L284.5 337.44 L285.0 337.50 L285.5 337.55 L286.0 337.61 L286.5 337.66 L287.0 337.72 L287.5 337.79 L288.0 337.85 L288.5 337.91 L289.0 337.98 L289.5 338.04 L290.0 338.11 L290.5 338.17 L291.0 338.23 L291.5 338.30 L292.0 338.36 L292.5 338.42 L293.0 338.50 L293.5 338.59 L294.0 338.68 L294.5 338.77 L295.0 338.87 L295.5 338.96 L296.0 339.05 L296.5 339.14 L297.0 339.21 L297.5 339.28 L298.0 339.33 L298.5 339.36 L299.0 339.37 L299.5 339.33 L300.0 339.20 L300.5 339.01 L301.0 338.78 L301.5 338.52 L302.0 338.25 L302.5 337.98 L303.0 337.73 L303.5 337.51 L304.0 337.32 L304.5 337.18 L305.0 337.10 L305.5 337.05 L306.0 337.00 L306.5 336.96 L307.0 336.93 L307.5 336.90 L308.0 336.87 L308.5 336.84 L309.0 336.82 L309.5 336.79 L310.0 336.77 L310.5 336.76 L311.0 336.74 L311.5 336.72 L312.0 336.71 L312.5 336.69 L313.0 336.68 L313.5 336.67 L314.0 336.65 L314.5 336.64 L315.0 336.62 L315.5 336.61 L316.0 336.59 L316.5 336.57 L317.0 336.55 L317.5 336.52 L318.0 336.49 L318.5 336.46 L319.0 336.42 L319.5 336.37 L320.0 336.31 L320.5 336.24 L321.0 336.15 L321.5 336.04 L322.0 335.91 L322.5 335.77 L323.0 335.62 L323.5 335.47 L324.0 335.30 L324.5 335.13 L325.0 334.95 L325.5 334.76 L326.0 334.57 L326.5 334.38 L327.0 334.19 L327.5 333.99 L328.0 333.80 L328.5 333.61 L329.0 333.43 L329.5 333.25 L330.0 333.08 L330.5 332.93 L331.0 332.78 L331.5 332.64 L332.0 332.53 L332.5 332.42 L333.0 332.34 L333.5 332.26 L334.0 332.19 L334.5 332.12 L335.0 332.06 L335.5 332.00 L336.0 331.94 L336.5 331.88 L337.0 331.83 L337.5 331.78 L338.0 331.73 L338.5 331.68 L339.0 331.63 L339.5 331.59 L340.0 331.55 L340.5 331.50 L341.0 331.46 L341.5 331.42 L342.0 331.38 L342.5 331.34 L343.0 331.30 L343.5 331.26 L344.0 331.22 L344.5 331.18 L345.0 331.13 L345.5 331.09 L346.0 331.05 L346.5 331.00 L347.0 330.96 L347.5 330.91 L348.0 330.86 L348.5 330.81 L349.0 330.75 L349.5 330.69 L350.0 330.64 L350.5 330.57 L351.0 330.50 L351.5 330.42 L352.0 330.33 L352.5 330.23 L353.0 330.14 L353.5 330.04 L354.0 329.94 L354.5 329.84 L355.0 329.74 L355.5 329.65 L356.0 329.56 L356.5 329.48 L357.0 329.40 L357.5 329.33 L358.0 329.27 L358.5 329.22 L359.0 329.18 L359.5 329.16 L360.0 329.15 L360.5 329.16 L361.0 329.16 L361.5 329.16 L362.0 329.17 L362.5 329.18 L363.0 329.19 L363.5 329.20 L364.0 329.22 L364.5 329.23 L365.0 329.25 L365.5 329.27 L366.0 329.29 L366.5 329.31 L367.0 329.34 L367.5 329.36 L368.0 329.39 L368.5 329.41 L369.0 329.44 L369.5 329.47 L370.0 329.50 L370.5 329.53 L371.0 329.56 L371.5 329.59 L372.0 329.63 L372.5 329.66 L373.0 329.70 L373.5 329.73 L374.0 329.77 L374.5 329.80 L375.0 329.84 L375.5 329.87 L376.0 329.91 L376.5 329.95 L377.0 329.98 L377.5 330.02 L378.0 330.06 L378.5 330.09 L379.0 330.13 L379.5 330.17 L380.0 330.20 L380.5 330.24 L381.0 330.27 L381.5 330.31 L382.0 330.34 L382.5 330.38 L383.0 330.42 L383.5 330.45 L384.0 330.49 L384.5 330.52 L385.0 330.56 L385.5 330.59 L386.0 330.63 L386.5 330.66 L387.0 330.69 L387.5 330.72 L388.0 330.75 L388.5 330.78 L389.0 330.81 L389.5 330.83 L390.0 330.86 L390.5 330.88 L391.0 330.90 L391.5 330.92 L392.0 330.94 L392.5 330.96 L393.0 330.97 L393.5 330.99 L394.0 331.00 L394.5 331.00 L395.0 331.01 L395.5 331.01 L396.0 331.02 L396.5 331.00 L397.0 330.97 L397.5 330.90 L398.0 330.82 L398.5 330.71 L399.0 330.57 L399.5 330.41 L400.0 330.19 L400.5 329.62 L401.0 328.53 L401.5 327.08 L402.0 325.43 L402.5 323.71 L403.0 321.65 L403.5 319.06 L404.0 316.15 L404.5 313.12 L405.0 310.20 L405.5 307.59 L406.0 305.25 L406.5 303.02 L407.0 300.87 L407.5 298.77 L408.0 296.70 L408.5 294.64 L409.0 292.59 L409.5 290.56 L410.0 288.57 L410.5 286.61 L411.0 284.69 L411.5 282.71 L412.0 280.75 L412.5 279.07 L413.0 277.85 L413.5 276.91 L414.0 276.11 L414.5 275.37 L415.0 274.71 L415.5 274.13 L416.0 273.42 L416.5 272.30 L417.0 270.59 L417.5 268.47 L418.0 266.09 L418.5 263.48 L419.0 260.48 L419.5 257.16 L420.0 253.57 L420.5 249.46 L421.0 244.50 L421.5 238.79 L422.0 233.07 L422.5 227.72 L423.0 222.61 L423.5 217.47 L424.0 212.21 L424.5 206.83 L425.0 201.39 L425.5 195.97 L426.0 190.65 L426.5 185.49 L427.0 180.43 L427.5 175.45 L428.0 170.57 L428.5 165.82 L429.0 161.25 L429.5 156.90 L430.0 152.76 L430.5 148.62 L431.0 144.47 L431.5 142.54 L432.0 144.85 L432.5 149.48 L433.0 153.56 L433.5 157.48 L434.0 161.45 L434.5 165.50 L435.0 169.62 L435.5 173.81 L436.0 178.13 L436.5 182.59 L437.0 187.11 L437.5 191.61 L438.0 196.15 L438.5 200.62 L439.0 204.95 L439.5 209.20 L440.0 213.32 L440.5 217.25 L441.0 220.91 L441.5 224.25 L442.0 227.22 L442.5 229.94 L443.0 232.48 L443.5 234.88 L444.0 237.17 L444.5 239.40 L445.0 241.58 L445.5 243.73 L446.0 245.81 L446.5 247.74 L447.0 249.44 L447.5 250.89 L448.0 252.25 L448.5 253.61 L449.0 254.81 L449.5 255.71 L450.0 256.14 L450.5 255.89 L451.0 254.81 L451.5 253.07 L452.0 250.88 L452.5 248.45 L453.0 245.99 L453.5 243.72 L454.0 241.85 L454.5 240.14 L455.0 238.30 L455.5 236.42 L456.0 234.61 L456.5 232.96 L457.0 231.59 L457.5 230.60 L458.0 230.08 L458.5 230.17 L459.0 230.96 L459.5 232.28 L460.0 233.99 L460.5 235.93 L461.0 237.92 L461.5 239.84 L462.0 241.58 L462.5 243.03 L463.0 244.41 L463.5 245.78 L464.0 247.13 L464.5 248.45 L465.0 249.74 L465.5 250.98 L466.0 252.15 L466.5 253.28 L467.0 254.37 L467.5 255.41 L468.0 256.41 L468.5 257.36 L469.0 258.26 L469.5 259.11 L470.0 259.89 L470.5 260.63 L471.0 261.34 L471.5 262.02 L472.0 262.67 L472.5 263.29 L473.0 263.87 L473.5 264.44 L474.0 264.98 L474.5 265.49 L475.0 265.99 L475.5 266.48 L476.0 266.94 L476.5 267.40 L477.0 267.84 L477.5 268.24 L478.0 268.62 L478.5 268.98 L479.0 269.32 L479.5 269.66 L480.0 269.98 L480.5 270.31 L481.0 270.65 L481.5 271.00 L482.0 271.37 L482.5 271.77 L483.0 272.21 L483.5 272.68 L484.0 273.20 L484.5 273.78 L485.0 274.47 L485.5 275.34 L486.0 276.34 L486.5 277.43 L487.0 278.58 L487.5 279.75 L488.0 280.90 L488.5 282.06 L489.0 283.24 L489.5 284.47 L490.0 285.73 L490.5 287.02 L491.0 288.35 L491.5 289.71 L492.0 291.10" stroke="#00f4f4" stroke-width="2.7" fill="none" stroke-linejoin="round"/>
<path d="M84.0 344.00 L84.5 343.98 L85.0 343.97 L85.5 343.95 L86.0 343.93 L86.5 343.92 L87.0 343.90 L87.5 343.88 L88.0 343.87 L88.5 343.85 L89.0 343.83 L89.5 343.81 L90.0 343.80 L90.5 343.78 L91.0 343.76 L91.5 343.74 L92.0 343.73 L92.5 343.71 L93.0 343.69 L93.5 343.67 L94.0 343.65 L94.5 343.64 L95.0 343.62 L95.5 343.60 L96.0 343.58 L96.5 343.56 L97.0 343.54 L97.5 343.53 L98.0 343.51 L98.5 343.49 L99.0 343.47 L99.5 343.45 L100.0 343.43 L100.5 343.41 L101.0 343.39 L101.5 343.38 L102.0 343.36 L102.5 343.34 L103.0 343.32 L103.5 343.30 L104.0 343.28 L104.5 343.26 L105.0 343.24 L105.5 343.22 L106.0 343.20 L106.5 343.18 L107.0 343.16 L107.5 343.14 L108.0 343.12 L108.5 343.10 L109.0 343.08 L109.5 343.06 L110.0 343.04 L110.5 343.02 L111.0 343.00 L111.5 342.98 L112.0 342.96 L112.5 342.94 L113.0 342.92 L113.5 342.90 L114.0 342.88 L114.5 342.86 L115.0 342.83 L115.5 342.81 L116.0 342.79 L116.5 342.77 L117.0 342.75 L117.5 342.73 L118.0 342.71 L118.5 342.69 L119.0 342.67 L119.5 342.64 L120.0 342.62 L120.5 342.60 L121.0 342.58 L121.5 342.56 L122.0 342.54 L122.5 342.51 L123.0 342.49 L123.5 342.47 L124.0 342.45 L124.5 342.43 L125.0 342.41 L125.5 342.38 L126.0 342.36 L126.5 342.34 L127.0 342.32 L127.5 342.29 L128.0 342.27 L128.5 342.25 L129.0 342.23 L129.5 342.20 L130.0 342.18 L130.5 342.16 L131.0 342.14 L131.5 342.11 L132.0 342.09 L132.5 342.07 L133.0 342.05 L133.5 342.02 L134.0 342.00 L134.5 341.98 L135.0 341.95 L135.5 341.93 L136.0 341.91 L136.5 341.88 L137.0 341.86 L137.5 341.84 L138.0 341.81 L138.5 341.79 L139.0 341.77 L139.5 341.74 L140.0 341.72 L140.5 341.69 L141.0 341.67 L141.5 341.65 L142.0 341.62 L142.5 341.60 L143.0 341.57 L143.5 341.55 L144.0 341.52 L144.5 341.50 L145.0 341.47 L145.5 341.45 L146.0 341.42 L146.5 341.40 L147.0 341.37 L147.5 341.35 L148.0 341.32 L148.5 341.30 L149.0 341.27 L149.5 341.25 L150.0 341.22 L150.5 341.19 L151.0 341.17 L151.5 341.14 L152.0 341.12 L152.5 341.09 L153.0 341.06 L153.5 341.04 L154.0 341.01 L154.5 340.98 L155.0 340.96 L155.5 340.93 L156.0 340.91 L156.5 340.88 L157.0 340.85 L157.5 340.82 L158.0 340.80 L158.5 340.77 L159.0 340.74 L159.5 340.72 L160.0 340.69 L160.5 340.66 L161.0 340.63 L161.5 340.61 L162.0 340.58 L162.5 340.55 L163.0 340.52 L163.5 340.50 L164.0 340.47 L164.5 340.44 L165.0 340.41 L165.5 340.38 L166.0 340.36 L166.5 340.33 L167.0 340.30 L167.5 340.27 L168.0 340.24 L168.5 340.22 L169.0 340.19 L169.5 340.16 L170.0 340.13 L170.5 340.10 L171.0 340.07 L171.5 340.04 L172.0 340.01 L172.5 339.98 L173.0 339.96 L173.5 339.93 L174.0 339.90 L174.5 339.87 L175.0 339.84 L175.5 339.81 L176.0 339.78 L176.5 339.75 L177.0 339.72 L177.5 339.69 L178.0 339.66 L178.5 339.63 L179.0 339.60 L179.5 339.57 L180.0 339.54 L180.5 339.51 L181.0 339.48 L181.5 339.45 L182.0 339.42 L182.5 339.39 L183.0 339.36 L183.5 339.33 L184.0 339.30 L184.5 339.27 L185.0 339.24 L185.5 339.21 L186.0 339.18 L186.5 339.15 L187.0 339.12 L187.5 339.09 L188.0 339.06 L188.5 339.03 L189.0 339.00 L189.5 338.97 L190.0 338.94 L190.5 338.91 L191.0 338.88 L191.5 338.85 L192.0 338.82 L192.5 338.79 L193.0 338.76 L193.5 338.73 L194.0 338.70 L194.5 338.67 L195.0 338.64 L195.5 338.61 L196.0 338.58 L196.5 338.55 L197.0 338.52 L197.5 338.50 L198.0 338.47 L198.5 338.44 L199.0 338.41 L199.5 338.38 L200.0 338.35 L200.5 338.31 L201.0 338.28 L201.5 338.25 L202.0 338.22 L202.5 338.19 L203.0 338.16 L203.5 338.13 L204.0 338.10 L204.5 338.07 L205.0 338.04 L205.5 338.01 L206.0 337.98 L206.5 337.94 L207.0 337.91 L207.5 337.88 L208.0 337.85 L208.5 337.82 L209.0 337.78 L209.5 337.75 L210.0 337.72 L210.5 337.68 L211.0 337.65 L211.5 337.62 L212.0 337.58 L212.5 337.55 L213.0 337.52 L213.5 337.48 L214.0 337.45 L214.5 337.41 L215.0 337.38 L215.5 337.34 L216.0 337.31 L216.5 337.27 L217.0 337.23 L217.5 337.20 L218.0 337.16 L218.5 337.12 L219.0 337.09 L219.5 337.05 L220.0 337.01 L220.5 336.97 L221.0 336.93 L221.5 336.89 L222.0 336.86 L222.5 336.82 L223.0 336.78 L223.5 336.74 L224.0 336.70 L224.5 336.65 L225.0 336.61 L225.5 336.57 L226.0 336.53 L226.5 336.49 L227.0 336.44 L227.5 336.40 L228.0 336.36 L228.5 336.31 L229.0 336.27 L229.5 336.22 L230.0 336.18 L230.5 336.13 L231.0 336.09 L231.5 336.04 L232.0 335.99 L232.5 335.95 L233.0 335.90 L233.5 335.85 L234.0 335.80 L234.5 335.75 L235.0 335.69 L235.5 335.64 L236.0 335.58 L236.5 335.51 L237.0 335.45 L237.5 335.38 L238.0 335.31 L238.5 335.24 L239.0 335.17 L239.5 335.09 L240.0 335.02 L240.5 334.94 L241.0 334.86 L241.5 334.78 L242.0 334.71 L242.5 334.63 L243.0 334.55 L243.5 334.47 L244.0 334.39 L244.5 334.32 L245.0 334.24 L245.5 334.17 L246.0 334.10 L246.5 334.03 L247.0 333.96 L247.5 333.89 L248.0 333.83 L248.5 333.77 L249.0 333.71 L249.5 333.65 L250.0 333.60 L250.5 333.55 L251.0 333.50 L251.5 333.46 L252.0 333.42 L252.5 333.37 L253.0 333.33 L253.5 333.30 L254.0 333.26 L254.5 333.22 L255.0 333.19 L255.5 333.15 L256.0 333.12 L256.5 333.08 L257.0 333.05 L257.5 333.02 L258.0 332.98 L258.5 332.95 L259.0 332.91 L259.5 332.88 L260.0 332.84 L260.5 332.81 L261.0 332.77 L261.5 332.73 L262.0 332.69 L262.5 332.64 L263.0 332.60 L263.5 332.55 L264.0 332.50 L264.5 332.45 L265.0 332.40 L265.5 332.34 L266.0 332.27 L266.5 332.19 L267.0 332.11 L267.5 332.01 L268.0 331.91 L268.5 331.81 L269.0 331.70 L269.5 331.59 L270.0 331.47 L270.5 331.36 L271.0 331.24 L271.5 331.12 L272.0 331.01 L272.5 330.89 L273.0 330.78 L273.5 330.68 L274.0 330.57 L274.5 330.48 L275.0 330.39 L275.5 330.30 L276.0 330.23 L276.5 330.16 L277.0 330.11 L277.5 330.06 L278.0 330.03 L278.5 330.01 L279.0 330.00 L279.5 330.01 L280.0 330.02 L280.5 330.05 L281.0 330.08 L281.5 330.13 L282.0 330.18 L282.5 330.24 L283.0 330.30 L283.5 330.38 L284.0 330.45 L284.5 330.53 L285.0 330.62 L285.5 330.70 L286.0 330.79 L286.5 330.88 L287.0 330.97 L287.5 331.07 L288.0 331.16 L288.5 331.25 L289.0 331.33 L289.5 331.42 L290.0 331.50 L290.5 331.58 L291.0 331.67 L291.5 331.76 L292.0 331.86 L292.5 331.96 L293.0 332.06 L293.5 332.15 L294.0 332.25 L294.5 332.34 L295.0 332.44 L295.5 332.52 L296.0 332.60 L296.5 332.68 L297.0 332.77 L297.5 332.86 L298.0 332.93 L298.5 332.98 L299.0 333.00 L299.5 332.90 L300.0 332.64 L300.5 332.26 L301.0 331.82 L301.5 331.37 L302.0 330.95 L302.5 330.61 L303.0 330.40 L303.5 330.28 L304.0 330.17 L304.5 330.07 L305.0 329.98 L305.5 329.89 L306.0 329.82 L306.5 329.75 L307.0 329.68 L307.5 329.63 L308.0 329.57 L308.5 329.52 L309.0 329.48 L309.5 329.44 L310.0 329.40 L310.5 329.37 L311.0 329.34 L311.5 329.31 L312.0 329.29 L312.5 329.27 L313.0 329.25 L313.5 329.24 L314.0 329.22 L314.5 329.20 L315.0 329.18 L315.5 329.16 L316.0 329.14 L316.5 329.11 L317.0 329.08 L317.5 329.04 L318.0 329.00 L318.5 328.92 L319.0 328.77 L319.5 328.57 L320.0 328.33 L320.5 328.06 L321.0 327.75 L321.5 327.44 L322.0 327.12 L322.5 326.81 L323.0 326.51 L323.5 326.24 L324.0 326.00 L324.5 325.78 L325.0 325.55 L325.5 325.31 L326.0 325.07 L326.5 324.83 L327.0 324.59 L327.5 324.36 L328.0 324.13 L328.5 323.90 L329.0 323.69 L329.5 323.49 L330.0 323.30 L330.5 323.13 L331.0 322.98 L331.5 322.85 L332.0 322.74 L332.5 322.66 L333.0 322.60 L333.5 322.56 L334.0 322.52 L334.5 322.49 L335.0 322.46 L335.5 322.43 L336.0 322.41 L336.5 322.38 L337.0 322.36 L337.5 322.34 L338.0 322.32 L338.5 322.30 L339.0 322.29 L339.5 322.27 L340.0 322.26 L340.5 322.24 L341.0 322.23 L341.5 322.22 L342.0 322.20 L342.5 322.19 L343.0 322.18 L343.5 322.17 L344.0 322.15 L344.5 322.14 L345.0 322.13 L345.5 322.11 L346.0 322.09 L346.5 322.08 L347.0 322.06 L347.5 322.03 L348.0 322.01 L348.5 321.99 L349.0 321.96 L349.5 321.93 L350.0 321.90 L350.5 321.86 L351.0 321.81 L351.5 321.75 L352.0 321.68 L352.5 321.60 L353.0 321.52 L353.5 321.44 L354.0 321.35 L354.5 321.26 L355.0 321.17 L355.5 321.08 L356.0 320.99 L356.5 320.91 L357.0 320.84 L357.5 320.77 L358.0 320.71 L358.5 320.67 L359.0 320.63 L359.5 320.61 L360.0 320.60 L360.5 320.60 L361.0 320.61 L361.5 320.62 L362.0 320.64 L362.5 320.66 L363.0 320.69 L363.5 320.72 L364.0 320.75 L364.5 320.79 L365.0 320.83 L365.5 320.87 L366.0 320.92 L366.5 320.97 L367.0 321.02 L367.5 321.08 L368.0 321.13 L368.5 321.19 L369.0 321.26 L369.5 321.32 L370.0 321.39 L370.5 321.45 L371.0 321.52 L371.5 321.59 L372.0 321.66 L372.5 321.74 L373.0 321.81 L373.5 321.88 L374.0 321.96 L374.5 322.03 L375.0 322.10 L375.5 322.18 L376.0 322.25 L376.5 322.32 L377.0 322.39 L377.5 322.47 L378.0 322.54 L378.5 322.60 L379.0 322.67 L379.5 322.74 L380.0 322.80 L380.5 322.87 L381.0 322.94 L381.5 323.01 L382.0 323.09 L382.5 323.17 L383.0 323.26 L383.5 323.35 L384.0 323.44 L384.5 323.53 L385.0 323.63 L385.5 323.73 L386.0 323.82 L386.5 323.92 L387.0 324.01 L387.5 324.11 L388.0 324.20 L388.5 324.29 L389.0 324.38 L389.5 324.47 L390.0 324.55 L390.5 324.63 L391.0 324.70 L391.5 324.77 L392.0 324.83 L392.5 324.89 L393.0 324.94 L393.5 324.99 L394.0 325.03 L394.5 325.06 L395.0 325.08 L395.5 325.10 L396.0 325.10 L396.5 325.09 L397.0 325.06 L397.5 325.01 L398.0 324.94 L398.5 324.85 L399.0 324.73 L399.5 324.60 L400.0 324.03 L400.5 322.79 L401.0 321.12 L401.5 319.27 L402.0 317.50 L402.5 315.75 L403.0 313.83 L403.5 311.79 L404.0 309.69 L404.5 307.58 L405.0 305.50 L405.5 303.43 L406.0 301.33 L406.5 299.21 L407.0 297.10 L407.5 295.02 L408.0 293.00 L408.5 291.04 L409.0 289.11 L409.5 287.22 L410.0 285.35 L410.5 283.50 L411.0 281.52 L411.5 279.49 L412.0 277.76 L412.5 276.61 L413.0 275.78 L413.5 275.11 L414.0 274.50 L414.5 274.00 L415.0 273.61 L415.5 273.11 L416.0 273.68 L416.5 274.76 L417.0 277.99 L417.5 274.54 L418.0 268.18 L418.5 260.84 L419.0 252.60 L419.5 245.81 L420.0 239.76 L420.5 233.41 L421.0 223.41 L421.5 208.51 L422.0 195.00 L422.5 185.28 L423.0 176.82 L423.5 168.70 L424.0 160.00 L424.5 150.14 L425.0 139.49 L425.5 128.61 L426.0 118.04 L426.5 108.32 L427.0 100.00 L427.5 92.93 L428.0 86.54 L428.5 80.67 L429.0 75.20 L429.5 70.00 L430.0 64.31 L430.5 58.44 L431.0 53.85 L431.5 52.00 L432.0 54.24 L432.5 59.66 L433.0 66.28 L433.5 72.33 L434.0 78.51 L434.5 85.17 L435.0 92.33 L435.5 100.00 L436.0 109.00 L436.5 119.53 L437.0 130.70 L437.5 141.58 L438.0 151.25 L438.5 158.82 L439.0 164.27 L439.5 169.12 L440.0 173.48 L440.5 177.44 L441.0 181.06 L441.5 184.42 L442.0 187.61 L442.5 190.68 L443.0 193.72 L443.5 196.80 L444.0 200.00 L444.5 203.41 L445.0 206.95 L445.5 210.38 L446.0 213.51 L446.5 216.12 L447.0 218.00 L447.5 219.42 L448.0 220.76 L448.5 221.97 L449.0 223.00 L449.5 223.80 L450.0 224.32 L450.5 224.50 L451.0 223.93 L451.5 222.41 L452.0 220.21 L452.5 217.59 L453.0 214.84 L453.5 212.22 L454.0 210.00 L454.5 207.92 L455.0 205.62 L455.5 203.24 L456.0 200.93 L456.5 198.81 L457.0 197.03 L457.5 195.74 L458.0 195.06 L458.5 195.18 L459.0 196.17 L459.5 197.80 L460.0 199.81 L460.5 201.97 L461.0 204.00 L461.5 206.06 L462.0 208.40 L462.5 210.95 L463.0 213.63 L463.5 216.36 L464.0 219.05 L464.5 221.65 L465.0 224.05 L465.5 226.20 L466.0 228.00 L466.5 229.57 L467.0 231.06 L467.5 232.49 L468.0 233.84 L468.5 235.13 L469.0 236.35 L469.5 237.50 L470.0 238.60 L470.5 239.63 L471.0 240.61 L471.5 241.54 L472.0 242.40 L472.5 243.22 L473.0 243.96 L473.5 244.63 L474.0 245.26 L474.5 245.84 L475.0 246.40 L475.5 246.95 L476.0 247.50 L476.5 248.07 L477.0 248.66 L477.5 249.30 L478.0 250.00 L478.5 250.74 L479.0 251.50 L479.5 252.28 L480.0 253.08 L480.5 253.90 L481.0 254.74 L481.5 255.61 L482.0 256.51 L482.5 257.43 L483.0 258.38 L483.5 259.35 L484.0 260.36 L484.5 261.40 L485.0 262.46 L485.5 263.57 L486.0 264.72 L486.5 265.93 L487.0 267.18 L487.5 268.49 L488.0 269.83 L488.5 271.22 L489.0 272.65 L489.5 274.13 L490.0 275.63 L490.5 277.18 L491.0 278.75 L491.5 280.36 L492.0 282.00" stroke="#e412e4" stroke-width="2.7" fill="none" stroke-linejoin="round"/>
<path d="M84.0 344.26 L84.5 344.25 L85.0 344.23 L85.5 344.22 L86.0 344.21 L86.5 344.20 L87.0 344.19 L87.5 344.17 L88.0 344.16 L88.5 344.15 L89.0 344.14 L89.5 344.12 L90.0 344.11 L90.5 344.10 L91.0 344.09 L91.5 344.07 L92.0 344.06 L92.5 344.05 L93.0 344.03 L93.5 344.02 L94.0 344.01 L94.5 344.00 L95.0 343.98 L95.5 343.97 L96.0 343.96 L96.5 343.94 L97.0 343.93 L97.5 343.92 L98.0 343.90 L98.5 343.89 L99.0 343.88 L99.5 343.86 L100.0 343.85 L100.5 343.84 L101.0 343.82 L101.5 343.81 L102.0 343.80 L102.5 343.78 L103.0 343.77 L103.5 343.75 L104.0 343.74 L104.5 343.73 L105.0 343.71 L105.5 343.70 L106.0 343.68 L106.5 343.67 L107.0 343.66 L107.5 343.64 L108.0 343.63 L108.5 343.61 L109.0 343.60 L109.5 343.58 L110.0 343.57 L110.5 343.55 L111.0 343.54 L111.5 343.53 L112.0 343.51 L112.5 343.50 L113.0 343.48 L113.5 343.47 L114.0 343.45 L114.5 343.44 L115.0 343.42 L115.5 343.41 L116.0 343.39 L116.5 343.38 L117.0 343.36 L117.5 343.35 L118.0 343.33 L118.5 343.32 L119.0 343.30 L119.5 343.29 L120.0 343.27 L120.5 343.25 L121.0 343.24 L121.5 343.22 L122.0 343.21 L122.5 343.19 L123.0 343.18 L123.5 343.16 L124.0 343.15 L124.5 343.13 L125.0 343.11 L125.5 343.10 L126.0 343.08 L126.5 343.07 L127.0 343.05 L127.5 343.03 L128.0 343.02 L128.5 343.00 L129.0 342.99 L129.5 342.97 L130.0 342.95 L130.5 342.94 L131.0 342.92 L131.5 342.91 L132.0 342.89 L132.5 342.87 L133.0 342.86 L133.5 342.84 L134.0 342.82 L134.5 342.81 L135.0 342.79 L135.5 342.77 L136.0 342.76 L136.5 342.74 L137.0 342.72 L137.5 342.71 L138.0 342.69 L138.5 342.67 L139.0 342.66 L139.5 342.64 L140.0 342.62 L140.5 342.61 L141.0 342.59 L141.5 342.57 L142.0 342.55 L142.5 342.54 L143.0 342.52 L143.5 342.50 L144.0 342.48 L144.5 342.47 L145.0 342.45 L145.5 342.43 L146.0 342.41 L146.5 342.40 L147.0 342.38 L147.5 342.36 L148.0 342.34 L148.5 342.32 L149.0 342.31 L149.5 342.29 L150.0 342.27 L150.5 342.25 L151.0 342.23 L151.5 342.21 L152.0 342.20 L152.5 342.18 L153.0 342.16 L153.5 342.14 L154.0 342.12 L154.5 342.10 L155.0 342.08 L155.5 342.07 L156.0 342.05 L156.5 342.03 L157.0 342.01 L157.5 341.99 L158.0 341.97 L158.5 341.95 L159.0 341.93 L159.5 341.91 L160.0 341.89 L160.5 341.87 L161.0 341.85 L161.5 341.84 L162.0 341.82 L162.5 341.80 L163.0 341.78 L163.5 341.76 L164.0 341.74 L164.5 341.72 L165.0 341.70 L165.5 341.68 L166.0 341.66 L166.5 341.64 L167.0 341.62 L167.5 341.60 L168.0 341.58 L168.5 341.56 L169.0 341.54 L169.5 341.52 L170.0 341.49 L170.5 341.47 L171.0 341.45 L171.5 341.43 L172.0 341.41 L172.5 341.39 L173.0 341.37 L173.5 341.35 L174.0 341.33 L174.5 341.31 L175.0 341.29 L175.5 341.27 L176.0 341.24 L176.5 341.22 L177.0 341.20 L177.5 341.18 L178.0 341.16 L178.5 341.14 L179.0 341.12 L179.5 341.09 L180.0 341.07 L180.5 341.05 L181.0 341.03 L181.5 341.01 L182.0 340.98 L182.5 340.96 L183.0 340.94 L183.5 340.92 L184.0 340.90 L184.5 340.87 L185.0 340.85 L185.5 340.83 L186.0 340.81 L186.5 340.79 L187.0 340.76 L187.5 340.74 L188.0 340.72 L188.5 340.70 L189.0 340.68 L189.5 340.65 L190.0 340.63 L190.5 340.61 L191.0 340.59 L191.5 340.57 L192.0 340.54 L192.5 340.52 L193.0 340.50 L193.5 340.48 L194.0 340.46 L194.5 340.43 L195.0 340.41 L195.5 340.39 L196.0 340.37 L196.5 340.35 L197.0 340.32 L197.5 340.30 L198.0 340.28 L198.5 340.26 L199.0 340.23 L199.5 340.21 L200.0 340.19 L200.5 340.17 L201.0 340.14 L201.5 340.12 L202.0 340.10 L202.5 340.07 L203.0 340.05 L203.5 340.03 L204.0 340.01 L204.5 339.98 L205.0 339.96 L205.5 339.93 L206.0 339.91 L206.5 339.89 L207.0 339.86 L207.5 339.84 L208.0 339.81 L208.5 339.79 L209.0 339.77 L209.5 339.74 L210.0 339.72 L210.5 339.69 L211.0 339.67 L211.5 339.64 L212.0 339.61 L212.5 339.59 L213.0 339.56 L213.5 339.54 L214.0 339.51 L214.5 339.48 L215.0 339.46 L215.5 339.43 L216.0 339.40 L216.5 339.38 L217.0 339.35 L217.5 339.32 L218.0 339.29 L218.5 339.27 L219.0 339.24 L219.5 339.21 L220.0 339.18 L220.5 339.15 L221.0 339.12 L221.5 339.09 L222.0 339.06 L222.5 339.03 L223.0 339.00 L223.5 338.97 L224.0 338.94 L224.5 338.91 L225.0 338.88 L225.5 338.85 L226.0 338.82 L226.5 338.79 L227.0 338.75 L227.5 338.72 L228.0 338.69 L228.5 338.66 L229.0 338.62 L229.5 338.59 L230.0 338.56 L230.5 338.52 L231.0 338.49 L231.5 338.45 L232.0 338.42 L232.5 338.38 L233.0 338.34 L233.5 338.31 L234.0 338.27 L234.5 338.23 L235.0 338.19 L235.5 338.15 L236.0 338.11 L236.5 338.06 L237.0 338.01 L237.5 337.96 L238.0 337.91 L238.5 337.86 L239.0 337.81 L239.5 337.75 L240.0 337.70 L240.5 337.64 L241.0 337.58 L241.5 337.53 L242.0 337.47 L242.5 337.41 L243.0 337.35 L243.5 337.30 L244.0 337.24 L244.5 337.18 L245.0 337.13 L245.5 337.07 L246.0 337.02 L246.5 336.97 L247.0 336.91 L247.5 336.86 L248.0 336.82 L248.5 336.77 L249.0 336.72 L249.5 336.68 L250.0 336.64 L250.5 336.60 L251.0 336.56 L251.5 336.52 L252.0 336.48 L252.5 336.45 L253.0 336.41 L253.5 336.37 L254.0 336.34 L254.5 336.30 L255.0 336.27 L255.5 336.23 L256.0 336.20 L256.5 336.16 L257.0 336.13 L257.5 336.09 L258.0 336.06 L258.5 336.02 L259.0 335.99 L259.5 335.95 L260.0 335.92 L260.5 335.88 L261.0 335.85 L261.5 335.81 L262.0 335.77 L262.5 335.73 L263.0 335.69 L263.5 335.65 L264.0 335.61 L264.5 335.57 L265.0 335.53 L265.5 335.48 L266.0 335.43 L266.5 335.38 L267.0 335.32 L267.5 335.26 L268.0 335.20 L268.5 335.13 L269.0 335.06 L269.5 335.00 L270.0 334.93 L270.5 334.86 L271.0 334.79 L271.5 334.72 L272.0 334.65 L272.5 334.59 L273.0 334.52 L273.5 334.46 L274.0 334.40 L274.5 334.35 L275.0 334.30 L275.5 334.25 L276.0 334.20 L276.5 334.17 L277.0 334.13 L277.5 334.11 L278.0 334.09 L278.5 334.08 L279.0 334.07 L279.5 334.07 L280.0 334.08 L280.5 334.09 L281.0 334.12 L281.5 334.15 L282.0 334.18 L282.5 334.22 L283.0 334.27 L283.5 334.32 L284.0 334.38 L284.5 334.44 L285.0 334.51 L285.5 334.58 L286.0 334.65 L286.5 334.72 L287.0 334.79 L287.5 334.87 L288.0 334.94 L288.5 335.02 L289.0 335.09 L289.5 335.17 L290.0 335.24 L290.5 335.31 L291.0 335.38 L291.5 335.46 L292.0 335.54 L292.5 335.62 L293.0 335.70 L293.5 335.79 L294.0 335.89 L294.5 335.98 L295.0 336.08 L295.5 336.17 L296.0 336.25 L296.5 336.33 L297.0 336.42 L297.5 336.49 L298.0 336.55 L298.5 336.59 L299.0 336.61 L299.5 336.54 L300.0 336.35 L300.5 336.08 L301.0 335.76 L301.5 335.42 L302.0 335.08 L302.5 334.78 L303.0 334.55 L303.5 334.37 L304.0 334.22 L304.5 334.09 L305.0 334.01 L305.5 333.94 L306.0 333.88 L306.5 333.83 L307.0 333.78 L307.5 333.74 L308.0 333.70 L308.5 333.66 L309.0 333.63 L309.5 333.60 L310.0 333.57 L310.5 333.55 L311.0 333.53 L311.5 333.51 L312.0 333.49 L312.5 333.47 L313.0 333.46 L313.5 333.44 L314.0 333.43 L314.5 333.41 L315.0 333.40 L315.5 333.38 L316.0 333.36 L316.5 333.33 L317.0 333.31 L317.5 333.28 L318.0 333.24 L318.5 333.19 L319.0 333.10 L319.5 332.98 L320.0 332.85 L320.5 332.69 L321.0 332.50 L321.5 332.31 L322.0 332.10 L322.5 331.88 L323.0 331.67 L323.5 331.46 L324.0 331.26 L324.5 331.07 L325.0 330.87 L325.5 330.66 L326.0 330.45 L326.5 330.24 L327.0 330.02 L327.5 329.81 L328.0 329.60 L328.5 329.40 L329.0 329.20 L329.5 329.01 L330.0 328.84 L330.5 328.67 L331.0 328.52 L331.5 328.39 L332.0 328.28 L332.5 328.18 L333.0 328.11 L333.5 328.05 L334.0 328.00 L334.5 327.94 L335.0 327.89 L335.5 327.85 L336.0 327.80 L336.5 327.76 L337.0 327.72 L337.5 327.68 L338.0 327.65 L338.5 327.61 L339.0 327.58 L339.5 327.54 L340.0 327.51 L340.5 327.48 L341.0 327.45 L341.5 327.43 L342.0 327.40 L342.5 327.37 L343.0 327.34 L343.5 327.31 L344.0 327.28 L344.5 327.25 L345.0 327.22 L345.5 327.19 L346.0 327.16 L346.5 327.13 L347.0 327.09 L347.5 327.06 L348.0 327.02 L348.5 326.98 L349.0 326.94 L349.5 326.89 L350.0 326.84 L350.5 326.79 L351.0 326.73 L351.5 326.65 L352.0 326.57 L352.5 326.49 L353.0 326.40 L353.5 326.31 L354.0 326.21 L354.5 326.12 L355.0 326.02 L355.5 325.93 L356.0 325.84 L356.5 325.76 L357.0 325.68 L357.5 325.61 L358.0 325.56 L358.5 325.51 L359.0 325.47 L359.5 325.45 L360.0 325.44 L360.5 325.44 L361.0 325.45 L361.5 325.46 L362.0 325.47 L362.5 325.48 L363.0 325.50 L363.5 325.52 L364.0 325.54 L364.5 325.57 L365.0 325.59 L365.5 325.62 L366.0 325.66 L366.5 325.69 L367.0 325.73 L367.5 325.76 L368.0 325.80 L368.5 325.85 L369.0 325.89 L369.5 325.93 L370.0 325.98 L370.5 326.02 L371.0 326.07 L371.5 326.12 L372.0 326.17 L372.5 326.22 L373.0 326.27 L373.5 326.32 L374.0 326.38 L374.5 326.43 L375.0 326.48 L375.5 326.53 L376.0 326.59 L376.5 326.64 L377.0 326.69 L377.5 326.74 L378.0 326.79 L378.5 326.84 L379.0 326.89 L379.5 326.94 L380.0 326.99 L380.5 327.04 L381.0 327.09 L381.5 327.14 L382.0 327.20 L382.5 327.25 L383.0 327.31 L383.5 327.37 L384.0 327.43 L384.5 327.49 L385.0 327.55 L385.5 327.61 L386.0 327.67 L386.5 327.73 L387.0 327.79 L387.5 327.85 L388.0 327.91 L388.5 327.96 L389.0 328.02 L389.5 328.07 L390.0 328.12 L390.5 328.17 L391.0 328.21 L391.5 328.25 L392.0 328.29 L392.5 328.33 L393.0 328.36 L393.5 328.38 L394.0 328.41 L394.5 328.42 L395.0 328.44 L395.5 328.44 L396.0 328.45 L396.5 328.44 L397.0 328.40 L397.5 328.34 L398.0 328.26 L398.5 328.16 L399.0 328.04 L399.5 327.89 L400.0 327.52 L400.5 326.65 L401.0 325.31 L401.5 323.69 L402.0 321.99 L402.5 320.25 L403.0 318.26 L403.5 315.91 L404.0 313.34 L404.5 310.72 L405.0 308.16 L405.5 305.78 L406.0 303.55 L406.5 301.37 L407.0 299.23 L407.5 297.14 L408.0 295.10 L408.5 293.08 L409.0 291.08 L409.5 289.11 L410.0 287.17 L410.5 285.26 L411.0 283.31 L411.5 281.31 L412.0 279.45 L412.5 278.00 L413.0 276.95 L413.5 276.13 L414.0 275.41 L414.5 274.77 L415.0 274.23 L415.5 273.69 L416.0 272.92 L416.5 271.23 L417.0 268.62 L417.5 265.66 L418.0 262.46 L418.5 258.90 L419.0 255.06 L419.5 251.27 L420.0 247.31 L420.5 242.49 L421.0 235.35 L421.5 225.64 L422.0 216.54 L422.5 209.30 L423.0 202.73 L423.5 196.30 L424.0 189.55 L424.5 182.22 L425.0 174.52 L425.5 166.73 L426.0 159.13 L426.5 152.00 L427.0 145.52 L427.5 139.63 L428.0 134.09 L428.5 128.86 L429.0 123.90 L429.5 119.18 L430.0 114.36 L430.5 109.48 L431.0 105.14 L431.5 103.24 L432.0 105.52 L432.5 110.49 L433.0 115.67 L433.5 120.52 L434.0 125.45 L434.5 130.63 L435.0 136.07 L435.5 141.77 L436.0 148.12 L436.5 155.22 L437.0 162.62 L437.5 169.89 L438.0 176.66 L438.5 182.47 L439.0 187.29 L439.5 191.80 L440.0 196.03 L440.5 199.97 L441.0 203.61 L441.5 206.96 L442.0 210.02 L442.5 212.90 L443.0 215.65 L443.5 218.35 L444.0 221.04 L444.5 223.78 L445.0 226.54 L445.5 229.25 L446.0 231.79 L446.5 234.02 L447.0 235.80 L447.5 237.23 L448.0 238.58 L448.5 239.87 L449.0 241.00 L449.5 241.86 L450.0 242.33 L450.5 242.27 L451.0 241.41 L451.5 239.76 L452.0 237.57 L452.5 235.06 L453.0 232.47 L453.5 230.05 L454.0 228.03 L454.5 226.16 L455.0 224.12 L455.5 222.02 L456.0 219.99 L456.5 218.14 L457.0 216.59 L457.5 215.47 L458.0 214.88 L458.5 214.98 L459.0 215.85 L459.5 217.31 L460.0 219.16 L460.5 221.19 L461.0 223.20 L461.5 225.18 L462.0 227.18 L462.5 229.11 L463.0 231.05 L463.5 233.01 L464.0 234.94 L464.5 236.82 L465.0 238.59 L465.5 240.22 L466.0 241.67 L466.5 242.99 L467.0 244.25 L467.5 245.46 L468.0 246.61 L468.5 247.71 L469.0 248.75 L469.5 249.73 L470.0 250.65 L470.5 251.52 L471.0 252.34 L471.5 253.13 L472.0 253.87 L472.5 254.57 L473.0 255.23 L473.5 255.84 L474.0 256.42 L474.5 256.96 L475.0 257.49 L475.5 258.00 L476.0 258.50 L476.5 259.01 L477.0 259.52 L477.5 260.02 L478.0 260.54 L478.5 261.06 L479.0 261.59 L479.5 262.11 L480.0 262.64 L480.5 263.19 L481.0 263.74 L481.5 264.32 L482.0 264.92 L482.5 265.55 L483.0 266.20 L483.5 266.90 L484.0 267.63 L484.5 268.40 L485.0 269.26 L485.5 270.23 L486.0 271.30 L486.5 272.44 L487.0 273.63 L487.5 274.86 L488.0 276.10 L488.5 277.35 L489.0 278.65 L489.5 279.98 L490.0 281.35 L490.5 282.75 L491.0 284.18 L491.5 285.65 L492.0 287.15" stroke="#f08214" stroke-width="2.7" fill="none" stroke-linejoin="round"/>
<line x1="431.5" y1="36.8" x2="431.5" y2="329" stroke="#3aa3cf" stroke-width="2" stroke-dasharray="8 4.35"/>
<text x="84.00" y="367.30" text-anchor="middle" class="tl">4000</text>
<text x="142.29" y="367.30" text-anchor="middle" class="tl">3500</text>
<text x="200.57" y="367.30" text-anchor="middle" class="tl">3000</text>
<text x="258.86" y="367.30" text-anchor="middle" class="tl">2500</text>
<text x="317.14" y="367.30" text-anchor="middle" class="tl">2000</text>
<text x="375.43" y="367.30" text-anchor="middle" class="tl">1500</text>
<text x="433.71" y="367.30" text-anchor="middle" class="tl">1000</text>
<text x="492.00" y="367.30" text-anchor="middle" class="tl">500</text>
<text x="76.50" y="351.40" text-anchor="end" class="tl">0.0</text>
<text x="76.50" y="288.30" text-anchor="end" class="tl">0.2</text>
<text x="76.50" y="225.20" text-anchor="end" class="tl">0.4</text>
<text x="76.50" y="162.10" text-anchor="end" class="tl">0.6</text>
<text x="76.50" y="99.00" text-anchor="end" class="tl">0.8</text>
<text x="76.50" y="35.90" text-anchor="end" class="tl">1.0</text>
<line x1="101" y1="48.30" x2="137" y2="48.30" stroke="#e20606" stroke-width="3.2"/>
<text x="141.8" y="53.10" class="lg">0s</text>
<line x1="101" y1="67.35" x2="137" y2="67.35" stroke="#12ec12" stroke-width="3.2"/>
<text x="141.8" y="72.15" class="lg">30s</text>
<line x1="101" y1="87.40" x2="137" y2="87.40" stroke="#0000d8" stroke-width="3.3"/>
<text x="141.8" y="92.20" class="lg">60s</text>
<line x1="101" y1="106.80" x2="137" y2="106.80" stroke="#00f4f4" stroke-width="4.2"/>
<text x="141.8" y="111.60" class="lg">90s</text>
<line x1="101" y1="126.25" x2="137" y2="126.25" stroke="#e412e4" stroke-width="3.4"/>
<text x="141.8" y="131.05" class="lg">120s</text>
<line x1="101" y1="145.90" x2="137" y2="145.90" stroke="#f08214" stroke-width="3.9"/>
<text x="141.8" y="150.70" class="lg">150s</text>
<text x="26.1" y="23.2" class="pl" textLength="26" lengthAdjust="spacing">(a)</text>
<text transform="translate(33,252) rotate(-90)" class="at" textLength="144.5" lengthAdjust="spacing">Absorbance (a.u.)</text>
<text x="205.5" y="406" class="at" letter-spacing="0.1">Wavenumber (cm<tspan dx="0.8" dy="-10.5" font-size="15.5">-</tspan><tspan dx="0.6" font-size="15.5">1</tspan><tspan dx="-0.3" dy="10.5">)</tspan></text>
<line x1="596" y1="30" x2="1007" y2="30" stroke="#000" stroke-width="2"/>
<line x1="1006" y1="30" x2="1006" y2="347" stroke="#000" stroke-width="2"/>
<line x1="597" y1="30" x2="597" y2="347" stroke="#000" stroke-width="2"/>
<line x1="596" y1="346" x2="1007" y2="346" stroke="#000" stroke-width="2"/>
<line x1="597.00" y1="346" x2="597.00" y2="340" stroke="#000" stroke-width="2"/>
<line x1="626.17" y1="346" x2="626.17" y2="342.5" stroke="#000" stroke-width="2"/>
<line x1="655.34" y1="346" x2="655.34" y2="340" stroke="#000" stroke-width="2"/>
<line x1="684.51" y1="346" x2="684.51" y2="342.5" stroke="#000" stroke-width="2"/>
<line x1="713.69" y1="346" x2="713.69" y2="340" stroke="#000" stroke-width="2"/>
<line x1="742.86" y1="346" x2="742.86" y2="342.5" stroke="#000" stroke-width="2"/>
<line x1="772.03" y1="346" x2="772.03" y2="340" stroke="#000" stroke-width="2"/>
<line x1="801.20" y1="346" x2="801.20" y2="342.5" stroke="#000" stroke-width="2"/>
<line x1="830.37" y1="346" x2="830.37" y2="340" stroke="#000" stroke-width="2"/>
<line x1="859.54" y1="346" x2="859.54" y2="342.5" stroke="#000" stroke-width="2"/>
<line x1="888.71" y1="346" x2="888.71" y2="340" stroke="#000" stroke-width="2"/>
<line x1="917.89" y1="346" x2="917.89" y2="342.5" stroke="#000" stroke-width="2"/>
<line x1="947.06" y1="346" x2="947.06" y2="340" stroke="#000" stroke-width="2"/>
<line x1="976.23" y1="346" x2="976.23" y2="342.5" stroke="#000" stroke-width="2"/>
<line x1="1005.40" y1="346" x2="1005.40" y2="340" stroke="#000" stroke-width="2"/>
<line x1="597" y1="345.60" x2="603" y2="345.60" stroke="#000" stroke-width="2"/>
<line x1="597" y1="314.00" x2="600.5" y2="314.00" stroke="#000" stroke-width="2"/>
<line x1="597" y1="282.40" x2="603" y2="282.40" stroke="#000" stroke-width="2"/>
<line x1="597" y1="250.80" x2="600.5" y2="250.80" stroke="#000" stroke-width="2"/>
<line x1="597" y1="219.20" x2="603" y2="219.20" stroke="#000" stroke-width="2"/>
<line x1="597" y1="187.60" x2="600.5" y2="187.60" stroke="#000" stroke-width="2"/>
<line x1="597" y1="156.00" x2="603" y2="156.00" stroke="#000" stroke-width="2"/>
<line x1="597" y1="124.40" x2="600.5" y2="124.40" stroke="#000" stroke-width="2"/>
<line x1="597" y1="92.80" x2="603" y2="92.80" stroke="#000" stroke-width="2"/>
<line x1="597" y1="61.20" x2="600.5" y2="61.20" stroke="#000" stroke-width="2"/>
<line x1="597" y1="29.60" x2="603" y2="29.60" stroke="#000" stroke-width="2"/>
<path d="M597.0 345.05 L597.5 345.02 L598.0 345.00 L598.5 344.98 L599.0 344.96 L599.5 344.94 L600.0 344.92 L600.5 344.89 L601.0 344.87 L601.5 344.85 L602.0 344.83 L602.5 344.81 L603.0 344.79 L603.5 344.77 L604.0 344.74 L604.5 344.72 L605.0 344.70 L605.5 344.68 L606.0 344.66 L606.5 344.63 L607.0 344.61 L607.5 344.59 L608.0 344.57 L608.5 344.55 L609.0 344.53 L609.5 344.50 L610.0 344.48 L610.5 344.46 L611.0 344.44 L611.5 344.42 L612.0 344.39 L612.5 344.37 L613.0 344.35 L613.5 344.33 L614.0 344.31 L614.5 344.28 L615.0 344.26 L615.5 344.24 L616.0 344.22 L616.5 344.19 L617.0 344.17 L617.5 344.15 L618.0 344.13 L618.5 344.11 L619.0 344.08 L619.5 344.06 L620.0 344.04 L620.5 344.02 L621.0 343.99 L621.5 343.97 L622.0 343.95 L622.5 343.93 L623.0 343.90 L623.5 343.88 L624.0 343.86 L624.5 343.84 L625.0 343.81 L625.5 343.79 L626.0 343.77 L626.5 343.75 L627.0 343.72 L627.5 343.70 L628.0 343.68 L628.5 343.65 L629.0 343.63 L629.5 343.61 L630.0 343.59 L630.5 343.56 L631.0 343.54 L631.5 343.52 L632.0 343.50 L632.5 343.47 L633.0 343.45 L633.5 343.43 L634.0 343.40 L634.5 343.38 L635.0 343.36 L635.5 343.33 L636.0 343.31 L636.5 343.29 L637.0 343.27 L637.5 343.24 L638.0 343.22 L638.5 343.20 L639.0 343.17 L639.5 343.15 L640.0 343.13 L640.5 343.10 L641.0 343.08 L641.5 343.06 L642.0 343.03 L642.5 343.01 L643.0 342.99 L643.5 342.96 L644.0 342.94 L644.5 342.92 L645.0 342.89 L645.5 342.87 L646.0 342.85 L646.5 342.82 L647.0 342.80 L647.5 342.78 L648.0 342.75 L648.5 342.73 L649.0 342.71 L649.5 342.68 L650.0 342.66 L650.5 342.63 L651.0 342.61 L651.5 342.59 L652.0 342.56 L652.5 342.54 L653.0 342.51 L653.5 342.49 L654.0 342.47 L654.5 342.44 L655.0 342.42 L655.5 342.39 L656.0 342.37 L656.5 342.34 L657.0 342.32 L657.5 342.30 L658.0 342.27 L658.5 342.25 L659.0 342.22 L659.5 342.20 L660.0 342.17 L660.5 342.15 L661.0 342.12 L661.5 342.10 L662.0 342.07 L662.5 342.05 L663.0 342.02 L663.5 342.00 L664.0 341.97 L664.5 341.95 L665.0 341.93 L665.5 341.90 L666.0 341.88 L666.5 341.85 L667.0 341.83 L667.5 341.80 L668.0 341.78 L668.5 341.75 L669.0 341.73 L669.5 341.70 L670.0 341.68 L670.5 341.65 L671.0 341.63 L671.5 341.60 L672.0 341.58 L672.5 341.55 L673.0 341.52 L673.5 341.50 L674.0 341.47 L674.5 341.45 L675.0 341.42 L675.5 341.40 L676.0 341.37 L676.5 341.35 L677.0 341.32 L677.5 341.30 L678.0 341.27 L678.5 341.25 L679.0 341.22 L679.5 341.20 L680.0 341.17 L680.5 341.15 L681.0 341.12 L681.5 341.10 L682.0 341.07 L682.5 341.05 L683.0 341.02 L683.5 341.00 L684.0 340.97 L684.5 340.95 L685.0 340.93 L685.5 340.90 L686.0 340.88 L686.5 340.85 L687.0 340.83 L687.5 340.80 L688.0 340.78 L688.5 340.75 L689.0 340.73 L689.5 340.70 L690.0 340.68 L690.5 340.65 L691.0 340.63 L691.5 340.61 L692.0 340.58 L692.5 340.56 L693.0 340.53 L693.5 340.51 L694.0 340.48 L694.5 340.46 L695.0 340.44 L695.5 340.41 L696.0 340.39 L696.5 340.36 L697.0 340.34 L697.5 340.32 L698.0 340.29 L698.5 340.27 L699.0 340.25 L699.5 340.22 L700.0 340.20 L700.5 340.18 L701.0 340.15 L701.5 340.13 L702.0 340.11 L702.5 340.08 L703.0 340.06 L703.5 340.04 L704.0 340.01 L704.5 339.99 L705.0 339.97 L705.5 339.95 L706.0 339.92 L706.5 339.90 L707.0 339.88 L707.5 339.86 L708.0 339.83 L708.5 339.81 L709.0 339.79 L709.5 339.77 L710.0 339.74 L710.5 339.72 L711.0 339.70 L711.5 339.68 L712.0 339.66 L712.5 339.63 L713.0 339.61 L713.5 339.59 L714.0 339.57 L714.5 339.54 L715.0 339.52 L715.5 339.50 L716.0 339.48 L716.5 339.45 L717.0 339.43 L717.5 339.41 L718.0 339.39 L718.5 339.37 L719.0 339.34 L719.5 339.32 L720.0 339.30 L720.5 339.28 L721.0 339.25 L721.5 339.23 L722.0 339.21 L722.5 339.18 L723.0 339.16 L723.5 339.14 L724.0 339.12 L724.5 339.09 L725.0 339.07 L725.5 339.05 L726.0 339.02 L726.5 339.00 L727.0 338.98 L727.5 338.95 L728.0 338.93 L728.5 338.91 L729.0 338.88 L729.5 338.86 L730.0 338.83 L730.5 338.81 L731.0 338.79 L731.5 338.76 L732.0 338.74 L732.5 338.71 L733.0 338.69 L733.5 338.66 L734.0 338.64 L734.5 338.61 L735.0 338.59 L735.5 338.56 L736.0 338.54 L736.5 338.51 L737.0 338.49 L737.5 338.46 L738.0 338.44 L738.5 338.41 L739.0 338.38 L739.5 338.36 L740.0 338.33 L740.5 338.30 L741.0 338.28 L741.5 338.25 L742.0 338.22 L742.5 338.20 L743.0 338.17 L743.5 338.14 L744.0 338.11 L744.5 338.08 L745.0 338.06 L745.5 338.03 L746.0 338.00 L746.5 337.97 L747.0 337.94 L747.5 337.91 L748.0 337.88 L748.5 337.85 L749.0 337.82 L749.5 337.79 L750.0 337.76 L750.5 337.73 L751.0 337.70 L751.5 337.67 L752.0 337.64 L752.5 337.61 L753.0 337.58 L753.5 337.55 L754.0 337.51 L754.5 337.48 L755.0 337.45 L755.5 337.42 L756.0 337.38 L756.5 337.35 L757.0 337.32 L757.5 337.29 L758.0 337.25 L758.5 337.22 L759.0 337.18 L759.5 337.15 L760.0 337.12 L760.5 337.08 L761.0 337.05 L761.5 337.01 L762.0 336.97 L762.5 336.94 L763.0 336.90 L763.5 336.87 L764.0 336.83 L764.5 336.79 L765.0 336.75 L765.5 336.72 L766.0 336.68 L766.5 336.64 L767.0 336.60 L767.5 336.56 L768.0 336.52 L768.5 336.49 L769.0 336.45 L769.5 336.41 L770.0 336.36 L770.5 336.32 L771.0 336.28 L771.5 336.24 L772.0 336.20 L772.5 336.16 L773.0 336.11 L773.5 336.07 L774.0 336.03 L774.5 335.98 L775.0 335.94 L775.5 335.89 L776.0 335.84 L776.5 335.79 L777.0 335.73 L777.5 335.67 L778.0 335.61 L778.5 335.54 L779.0 335.47 L779.5 335.40 L780.0 335.33 L780.5 335.26 L781.0 335.19 L781.5 335.11 L782.0 335.04 L782.5 334.96 L783.0 334.88 L783.5 334.81 L784.0 334.73 L784.5 334.66 L785.0 334.59 L785.5 334.52 L786.0 334.45 L786.5 334.38 L787.0 334.31 L787.5 334.25 L788.0 334.19 L788.5 334.13 L789.0 334.08 L789.5 334.03 L790.0 333.99 L790.5 333.94 L791.0 333.91 L791.5 333.88 L792.0 333.85 L792.5 333.83 L793.0 333.81 L793.5 333.80 L794.0 333.80 L794.5 333.80 L795.0 333.81 L795.5 333.82 L796.0 333.83 L796.5 333.84 L797.0 333.86 L797.5 333.88 L798.0 333.90 L798.5 333.93 L799.0 333.96 L799.5 333.99 L800.0 334.02 L800.5 334.06 L801.0 334.10 L801.5 334.14 L802.0 334.18 L802.5 334.23 L803.0 334.28 L803.5 334.33 L804.0 334.38 L804.5 334.43 L805.0 334.49 L805.5 334.54 L806.0 334.60 L806.5 334.68 L807.0 334.81 L807.5 334.98 L808.0 335.17 L808.5 335.38 L809.0 335.59 L809.5 335.81 L810.0 336.03 L810.5 336.22 L811.0 336.39 L811.5 336.53 L812.0 336.62 L812.5 336.66 L813.0 336.61 L813.5 336.42 L814.0 336.13 L814.5 335.75 L815.0 335.33 L815.5 334.88 L816.0 334.45 L816.5 334.06 L817.0 333.75 L817.5 333.54 L818.0 333.46 L818.5 333.46 L819.0 333.47 L819.5 333.48 L820.0 333.50 L820.5 333.52 L821.0 333.54 L821.5 333.57 L822.0 333.60 L822.5 333.62 L823.0 333.65 L823.5 333.68 L824.0 333.71 L824.5 333.74 L825.0 333.76 L825.5 333.78 L826.0 333.80 L826.5 333.82 L827.0 333.83 L827.5 333.84 L828.0 333.84 L828.5 333.81 L829.0 333.73 L829.5 333.59 L830.0 333.42 L830.5 333.21 L831.0 332.97 L831.5 332.71 L832.0 332.44 L832.5 332.17 L833.0 331.90 L833.5 331.64 L834.0 331.39 L834.5 331.17 L835.0 330.98 L835.5 330.80 L836.0 330.62 L836.5 330.45 L837.0 330.27 L837.5 330.09 L838.0 329.91 L838.5 329.73 L839.0 329.55 L839.5 329.37 L840.0 329.20 L840.5 329.03 L841.0 328.85 L841.5 328.68 L842.0 328.52 L842.5 328.36 L843.0 328.20 L843.5 328.04 L844.0 327.89 L844.5 327.75 L845.0 327.61 L845.5 327.48 L846.0 327.35 L846.5 327.23 L847.0 327.12 L847.5 327.01 L848.0 326.91 L848.5 326.82 L849.0 326.74 L849.5 326.67 L850.0 326.61 L850.5 326.55 L851.0 326.50 L851.5 326.44 L852.0 326.38 L852.5 326.33 L853.0 326.28 L853.5 326.22 L854.0 326.17 L854.5 326.12 L855.0 326.07 L855.5 326.02 L856.0 325.97 L856.5 325.92 L857.0 325.87 L857.5 325.82 L858.0 325.78 L858.5 325.73 L859.0 325.69 L859.5 325.64 L860.0 325.60 L860.5 325.56 L861.0 325.52 L861.5 325.48 L862.0 325.44 L862.5 325.41 L863.0 325.37 L863.5 325.34 L864.0 325.30 L864.5 325.27 L865.0 325.24 L865.5 325.21 L866.0 325.18 L866.5 325.15 L867.0 325.13 L867.5 325.10 L868.0 325.08 L868.5 325.06 L869.0 325.04 L869.5 325.02 L870.0 325.00 L870.5 324.99 L871.0 324.97 L871.5 324.96 L872.0 324.95 L872.5 324.94 L873.0 324.93 L873.5 324.93 L874.0 324.92 L874.5 324.92 L875.0 324.92 L875.5 324.92 L876.0 324.92 L876.5 324.93 L877.0 324.93 L877.5 324.94 L878.0 324.95 L878.5 324.96 L879.0 324.97 L879.5 324.99 L880.0 325.00 L880.5 325.02 L881.0 325.03 L881.5 325.05 L882.0 325.07 L882.5 325.09 L883.0 325.12 L883.5 325.14 L884.0 325.16 L884.5 325.19 L885.0 325.22 L885.5 325.24 L886.0 325.27 L886.5 325.30 L887.0 325.33 L887.5 325.36 L888.0 325.39 L888.5 325.43 L889.0 325.46 L889.5 325.49 L890.0 325.53 L890.5 325.56 L891.0 325.60 L891.5 325.63 L892.0 325.67 L892.5 325.70 L893.0 325.74 L893.5 325.78 L894.0 325.82 L894.5 325.85 L895.0 325.89 L895.5 325.93 L896.0 325.99 L896.5 326.05 L897.0 326.12 L897.5 326.19 L898.0 326.28 L898.5 326.36 L899.0 326.46 L899.5 326.55 L900.0 326.65 L900.5 326.75 L901.0 326.86 L901.5 326.96 L902.0 327.06 L902.5 327.16 L903.0 327.26 L903.5 327.36 L904.0 327.45 L904.5 327.54 L905.0 327.62 L905.5 327.69 L906.0 327.76 L906.5 327.82 L907.0 327.87 L907.5 327.91 L908.0 327.94 L908.5 327.96 L909.0 327.97 L909.5 327.96 L910.0 327.93 L910.5 327.88 L911.0 327.80 L911.5 327.71 L912.0 327.02 L912.5 325.49 L913.0 323.60 L913.5 321.82 L914.0 320.25 L914.5 318.68 L915.0 317.09 L915.5 315.47 L916.0 313.84 L916.5 312.18 L917.0 310.50 L917.5 308.78 L918.0 307.02 L918.5 305.23 L919.0 303.39 L919.5 301.51 L920.0 299.56 L920.5 297.36 L921.0 294.93 L921.5 292.40 L922.0 289.92 L922.5 287.64 L923.0 285.70 L923.5 284.24 L924.0 282.95 L924.5 281.70 L925.0 280.49 L925.5 279.37 L926.0 278.37 L926.5 277.52 L927.0 276.84 L927.5 276.36 L928.0 276.13 L928.5 276.14 L929.0 276.28 L929.5 276.51 L930.0 276.77 L930.5 277.02 L931.0 277.20 L931.5 277.28 L932.0 275.26 L932.5 270.41 L933.0 264.50 L933.5 256.64 L934.0 246.77 L934.5 237.35 L935.0 227.76 L935.5 218.12 L936.0 208.85 L936.5 199.85 L937.0 190.53 L937.5 181.24 L938.0 172.41 L938.5 164.56 L939.0 157.88 L939.5 151.71 L940.0 145.99 L940.5 140.66 L941.0 135.65 L941.5 130.87 L942.0 126.20 L942.5 121.37 L943.0 116.22 L943.5 111.14 L944.0 106.44 L944.5 102.55 L945.0 100.33 L945.5 100.50 L946.0 102.70 L946.5 106.36 L947.0 110.98 L947.5 116.05 L948.0 121.25 L948.5 126.78 L949.0 133.89 L949.5 141.81 L950.0 149.52 L950.5 155.88 L951.0 161.25 L951.5 166.51 L952.0 171.59 L952.5 176.44 L953.0 181.03 L953.5 185.31 L954.0 189.33 L954.5 193.22 L955.0 197.00 L955.5 200.70 L956.0 204.34 L956.5 207.96 L957.0 211.54 L957.5 215.02 L958.0 218.31 L958.5 221.51 L959.0 224.46 L959.5 227.09 L960.0 229.32 L960.5 231.32 L961.0 233.28 L961.5 235.10 L962.0 236.72 L962.5 238.06 L963.0 239.05 L963.5 239.60 L964.0 239.63 L964.5 238.86 L965.0 237.40 L965.5 235.42 L966.0 233.10 L966.5 230.62 L967.0 228.16 L967.5 225.90 L968.0 224.00 L968.5 222.24 L969.0 220.32 L969.5 218.35 L970.0 216.42 L970.5 214.62 L971.0 213.05 L971.5 211.81 L972.0 210.99 L972.5 210.70 L973.0 211.14 L973.5 212.32 L974.0 214.05 L974.5 216.12 L975.0 218.33 L975.5 220.49 L976.0 222.40 L976.5 224.17 L977.0 226.02 L977.5 227.93 L978.0 229.88 L978.5 231.84 L979.0 233.78 L979.5 235.67 L980.0 237.50 L980.5 239.23 L981.0 240.84 L981.5 242.31 L982.0 243.60 L982.5 244.77 L983.0 245.87 L983.5 246.93 L984.0 247.93 L984.5 248.88 L985.0 249.79 L985.5 250.66 L986.0 251.49 L986.5 252.29 L987.0 253.06 L987.5 253.80 L988.0 254.52 L988.5 255.21 L989.0 255.84 L989.5 256.42 L990.0 256.96 L990.5 257.47 L991.0 257.95 L991.5 258.42 L992.0 258.89 L992.5 259.37 L993.0 259.86 L993.5 260.37 L994.0 260.92 L994.5 261.52 L995.0 262.16 L995.5 262.88 L996.0 263.67 L996.5 264.60 L997.0 265.68 L997.5 266.88 L998.0 268.18 L998.5 269.55 L999.0 270.96 L999.5 272.39 L1000.0 273.80 L1000.5 275.21 L1001.0 276.66 L1001.5 278.14 L1002.0 279.66 L1002.5 281.20 L1003.0 282.79 L1003.5 284.40 L1004.0 286.06 L1004.5 287.74 L1005.0 289.46 L1005.5 291.21 L1006.0 293.00" stroke="#e20606" stroke-width="2.7" fill="none" stroke-linejoin="round"/>
<path d="M597.0 345.06 L597.5 345.04 L598.0 345.02 L598.5 345.00 L599.0 344.98 L599.5 344.96 L600.0 344.94 L600.5 344.92 L601.0 344.90 L601.5 344.87 L602.0 344.85 L602.5 344.83 L603.0 344.81 L603.5 344.79 L604.0 344.77 L604.5 344.75 L605.0 344.73 L605.5 344.71 L606.0 344.69 L606.5 344.67 L607.0 344.65 L607.5 344.62 L608.0 344.60 L608.5 344.58 L609.0 344.56 L609.5 344.54 L610.0 344.52 L610.5 344.50 L611.0 344.48 L611.5 344.46 L612.0 344.43 L612.5 344.41 L613.0 344.39 L613.5 344.37 L614.0 344.35 L614.5 344.33 L615.0 344.31 L615.5 344.29 L616.0 344.26 L616.5 344.24 L617.0 344.22 L617.5 344.20 L618.0 344.18 L618.5 344.16 L619.0 344.14 L619.5 344.11 L620.0 344.09 L620.5 344.07 L621.0 344.05 L621.5 344.03 L622.0 344.01 L622.5 343.98 L623.0 343.96 L623.5 343.94 L624.0 343.92 L624.5 343.90 L625.0 343.88 L625.5 343.85 L626.0 343.83 L626.5 343.81 L627.0 343.79 L627.5 343.77 L628.0 343.75 L628.5 343.72 L629.0 343.70 L629.5 343.68 L630.0 343.66 L630.5 343.64 L631.0 343.61 L631.5 343.59 L632.0 343.57 L632.5 343.55 L633.0 343.53 L633.5 343.50 L634.0 343.48 L634.5 343.46 L635.0 343.44 L635.5 343.42 L636.0 343.39 L636.5 343.37 L637.0 343.35 L637.5 343.33 L638.0 343.30 L638.5 343.28 L639.0 343.26 L639.5 343.24 L640.0 343.21 L640.5 343.19 L641.0 343.17 L641.5 343.15 L642.0 343.13 L642.5 343.10 L643.0 343.08 L643.5 343.06 L644.0 343.04 L644.5 343.01 L645.0 342.99 L645.5 342.97 L646.0 342.95 L646.5 342.92 L647.0 342.90 L647.5 342.88 L648.0 342.85 L648.5 342.83 L649.0 342.81 L649.5 342.79 L650.0 342.76 L650.5 342.74 L651.0 342.72 L651.5 342.69 L652.0 342.67 L652.5 342.65 L653.0 342.62 L653.5 342.60 L654.0 342.58 L654.5 342.55 L655.0 342.53 L655.5 342.51 L656.0 342.48 L656.5 342.46 L657.0 342.44 L657.5 342.41 L658.0 342.39 L658.5 342.37 L659.0 342.34 L659.5 342.32 L660.0 342.30 L660.5 342.27 L661.0 342.25 L661.5 342.22 L662.0 342.20 L662.5 342.18 L663.0 342.15 L663.5 342.13 L664.0 342.10 L664.5 342.08 L665.0 342.06 L665.5 342.03 L666.0 342.01 L666.5 341.98 L667.0 341.96 L667.5 341.94 L668.0 341.91 L668.5 341.89 L669.0 341.86 L669.5 341.84 L670.0 341.82 L670.5 341.79 L671.0 341.77 L671.5 341.74 L672.0 341.72 L672.5 341.69 L673.0 341.67 L673.5 341.65 L674.0 341.62 L674.5 341.60 L675.0 341.57 L675.5 341.55 L676.0 341.53 L676.5 341.50 L677.0 341.48 L677.5 341.45 L678.0 341.43 L678.5 341.40 L679.0 341.38 L679.5 341.36 L680.0 341.33 L680.5 341.31 L681.0 341.28 L681.5 341.26 L682.0 341.23 L682.5 341.21 L683.0 341.19 L683.5 341.16 L684.0 341.14 L684.5 341.11 L685.0 341.09 L685.5 341.07 L686.0 341.04 L686.5 341.02 L687.0 340.99 L687.5 340.97 L688.0 340.95 L688.5 340.92 L689.0 340.90 L689.5 340.87 L690.0 340.85 L690.5 340.83 L691.0 340.80 L691.5 340.78 L692.0 340.76 L692.5 340.73 L693.0 340.71 L693.5 340.68 L694.0 340.66 L694.5 340.64 L695.0 340.61 L695.5 340.59 L696.0 340.57 L696.5 340.54 L697.0 340.52 L697.5 340.50 L698.0 340.47 L698.5 340.45 L699.0 340.43 L699.5 340.40 L700.0 340.38 L700.5 340.36 L701.0 340.34 L701.5 340.31 L702.0 340.29 L702.5 340.27 L703.0 340.24 L703.5 340.22 L704.0 340.20 L704.5 340.18 L705.0 340.15 L705.5 340.13 L706.0 340.11 L706.5 340.09 L707.0 340.07 L707.5 340.04 L708.0 340.02 L708.5 340.00 L709.0 339.98 L709.5 339.95 L710.0 339.93 L710.5 339.91 L711.0 339.89 L711.5 339.86 L712.0 339.84 L712.5 339.82 L713.0 339.80 L713.5 339.78 L714.0 339.75 L714.5 339.73 L715.0 339.71 L715.5 339.69 L716.0 339.66 L716.5 339.64 L717.0 339.62 L717.5 339.60 L718.0 339.57 L718.5 339.55 L719.0 339.53 L719.5 339.51 L720.0 339.48 L720.5 339.46 L721.0 339.44 L721.5 339.42 L722.0 339.39 L722.5 339.37 L723.0 339.35 L723.5 339.32 L724.0 339.30 L724.5 339.28 L725.0 339.26 L725.5 339.23 L726.0 339.21 L726.5 339.19 L727.0 339.16 L727.5 339.14 L728.0 339.11 L728.5 339.09 L729.0 339.07 L729.5 339.04 L730.0 339.02 L730.5 338.99 L731.0 338.97 L731.5 338.95 L732.0 338.92 L732.5 338.90 L733.0 338.87 L733.5 338.85 L734.0 338.82 L734.5 338.80 L735.0 338.77 L735.5 338.75 L736.0 338.72 L736.5 338.70 L737.0 338.67 L737.5 338.64 L738.0 338.62 L738.5 338.59 L739.0 338.56 L739.5 338.54 L740.0 338.51 L740.5 338.48 L741.0 338.46 L741.5 338.43 L742.0 338.40 L742.5 338.38 L743.0 338.35 L743.5 338.32 L744.0 338.29 L744.5 338.26 L745.0 338.24 L745.5 338.21 L746.0 338.18 L746.5 338.15 L747.0 338.12 L747.5 338.09 L748.0 338.06 L748.5 338.03 L749.0 338.00 L749.5 337.97 L750.0 337.94 L750.5 337.91 L751.0 337.88 L751.5 337.85 L752.0 337.82 L752.5 337.79 L753.0 337.76 L753.5 337.72 L754.0 337.69 L754.5 337.66 L755.0 337.63 L755.5 337.60 L756.0 337.56 L756.5 337.53 L757.0 337.50 L757.5 337.46 L758.0 337.43 L758.5 337.40 L759.0 337.36 L759.5 337.33 L760.0 337.29 L760.5 337.26 L761.0 337.22 L761.5 337.19 L762.0 337.15 L762.5 337.12 L763.0 337.08 L763.5 337.04 L764.0 337.01 L764.5 336.97 L765.0 336.93 L765.5 336.90 L766.0 336.86 L766.5 336.82 L767.0 336.78 L767.5 336.74 L768.0 336.70 L768.5 336.66 L769.0 336.62 L769.5 336.58 L770.0 336.54 L770.5 336.50 L771.0 336.46 L771.5 336.42 L772.0 336.38 L772.5 336.34 L773.0 336.29 L773.5 336.25 L774.0 336.21 L774.5 336.16 L775.0 336.12 L775.5 336.07 L776.0 336.02 L776.5 335.97 L777.0 335.91 L777.5 335.85 L778.0 335.79 L778.5 335.73 L779.0 335.66 L779.5 335.59 L780.0 335.52 L780.5 335.44 L781.0 335.37 L781.5 335.30 L782.0 335.22 L782.5 335.15 L783.0 335.07 L783.5 335.00 L784.0 334.92 L784.5 334.85 L785.0 334.78 L785.5 334.71 L786.0 334.64 L786.5 334.57 L787.0 334.51 L787.5 334.45 L788.0 334.39 L788.5 334.33 L789.0 334.28 L789.5 334.23 L790.0 334.18 L790.5 334.14 L791.0 334.11 L791.5 334.08 L792.0 334.05 L792.5 334.03 L793.0 334.01 L793.5 334.00 L794.0 334.00 L794.5 334.00 L795.0 334.01 L795.5 334.02 L796.0 334.03 L796.5 334.04 L797.0 334.06 L797.5 334.08 L798.0 334.10 L798.5 334.13 L799.0 334.16 L799.5 334.19 L800.0 334.22 L800.5 334.26 L801.0 334.30 L801.5 334.34 L802.0 334.38 L802.5 334.43 L803.0 334.48 L803.5 334.53 L804.0 334.58 L804.5 334.63 L805.0 334.69 L805.5 334.74 L806.0 334.80 L806.5 334.88 L807.0 335.01 L807.5 335.18 L808.0 335.37 L808.5 335.58 L809.0 335.80 L809.5 336.03 L810.0 336.24 L810.5 336.44 L811.0 336.61 L811.5 336.74 L812.0 336.84 L812.5 336.88 L813.0 336.83 L813.5 336.64 L814.0 336.35 L814.5 335.97 L815.0 335.55 L815.5 335.10 L816.0 334.67 L816.5 334.28 L817.0 333.97 L817.5 333.76 L818.0 333.68 L818.5 333.68 L819.0 333.69 L819.5 333.70 L820.0 333.72 L820.5 333.74 L821.0 333.76 L821.5 333.79 L822.0 333.81 L822.5 333.84 L823.0 333.87 L823.5 333.90 L824.0 333.93 L824.5 333.95 L825.0 333.98 L825.5 334.00 L826.0 334.02 L826.5 334.04 L827.0 334.05 L827.5 334.06 L828.0 334.06 L828.5 334.03 L829.0 333.94 L829.5 333.81 L830.0 333.63 L830.5 333.42 L831.0 333.19 L831.5 332.93 L832.0 332.66 L832.5 332.39 L833.0 332.12 L833.5 331.86 L834.0 331.61 L834.5 331.39 L835.0 331.20 L835.5 331.03 L836.0 330.85 L836.5 330.68 L837.0 330.50 L837.5 330.32 L838.0 330.14 L838.5 329.97 L839.0 329.79 L839.5 329.62 L840.0 329.44 L840.5 329.27 L841.0 329.10 L841.5 328.93 L842.0 328.77 L842.5 328.61 L843.0 328.45 L843.5 328.30 L844.0 328.15 L844.5 328.01 L845.0 327.87 L845.5 327.74 L846.0 327.62 L846.5 327.50 L847.0 327.39 L847.5 327.28 L848.0 327.18 L848.5 327.10 L849.0 327.01 L849.5 326.94 L850.0 326.88 L850.5 326.82 L851.0 326.77 L851.5 326.71 L852.0 326.65 L852.5 326.60 L853.0 326.54 L853.5 326.49 L854.0 326.43 L854.5 326.38 L855.0 326.33 L855.5 326.28 L856.0 326.23 L856.5 326.18 L857.0 326.13 L857.5 326.08 L858.0 326.04 L858.5 325.99 L859.0 325.94 L859.5 325.90 L860.0 325.86 L860.5 325.81 L861.0 325.77 L861.5 325.73 L862.0 325.70 L862.5 325.66 L863.0 325.62 L863.5 325.59 L864.0 325.55 L864.5 325.52 L865.0 325.49 L865.5 325.46 L866.0 325.43 L866.5 325.40 L867.0 325.37 L867.5 325.35 L868.0 325.33 L868.5 325.30 L869.0 325.28 L869.5 325.26 L870.0 325.25 L870.5 325.23 L871.0 325.22 L871.5 325.20 L872.0 325.19 L872.5 325.18 L873.0 325.17 L873.5 325.17 L874.0 325.16 L874.5 325.16 L875.0 325.16 L875.5 325.16 L876.0 325.16 L876.5 325.17 L877.0 325.17 L877.5 325.18 L878.0 325.19 L878.5 325.20 L879.0 325.21 L879.5 325.23 L880.0 325.24 L880.5 325.26 L881.0 325.27 L881.5 325.29 L882.0 325.31 L882.5 325.33 L883.0 325.36 L883.5 325.38 L884.0 325.40 L884.5 325.43 L885.0 325.45 L885.5 325.48 L886.0 325.51 L886.5 325.54 L887.0 325.57 L887.5 325.60 L888.0 325.63 L888.5 325.66 L889.0 325.69 L889.5 325.73 L890.0 325.76 L890.5 325.80 L891.0 325.83 L891.5 325.87 L892.0 325.90 L892.5 325.94 L893.0 325.97 L893.5 326.01 L894.0 326.05 L894.5 326.08 L895.0 326.12 L895.5 326.16 L896.0 326.21 L896.5 326.27 L897.0 326.34 L897.5 326.42 L898.0 326.50 L898.5 326.59 L899.0 326.68 L899.5 326.77 L900.0 326.87 L900.5 326.97 L901.0 327.07 L901.5 327.17 L902.0 327.27 L902.5 327.37 L903.0 327.47 L903.5 327.56 L904.0 327.65 L904.5 327.74 L905.0 327.82 L905.5 327.89 L906.0 327.96 L906.5 328.02 L907.0 328.07 L907.5 328.11 L908.0 328.14 L908.5 328.15 L909.0 328.16 L909.5 328.15 L910.0 328.11 L910.5 328.06 L911.0 327.98 L911.5 327.88 L912.0 327.18 L912.5 325.63 L913.0 323.72 L913.5 321.92 L914.0 320.34 L914.5 318.76 L915.0 317.16 L915.5 315.55 L916.0 313.91 L916.5 312.25 L917.0 310.56 L917.5 308.84 L918.0 307.09 L918.5 305.30 L919.0 303.46 L919.5 301.57 L920.0 299.63 L920.5 297.43 L921.0 294.99 L921.5 292.46 L922.0 289.98 L922.5 287.70 L923.0 285.76 L923.5 284.30 L924.0 283.02 L924.5 281.76 L925.0 280.56 L925.5 279.44 L926.0 278.43 L926.5 277.58 L927.0 276.90 L927.5 276.42 L928.0 276.19 L928.5 276.20 L929.0 276.34 L929.5 276.57 L930.0 276.83 L930.5 277.07 L931.0 277.25 L931.5 277.33 L932.0 275.32 L932.5 270.47 L933.0 264.61 L933.5 256.88 L934.0 247.20 L934.5 237.91 L935.0 228.38 L935.5 218.79 L936.0 209.64 L936.5 200.88 L937.0 191.87 L937.5 182.92 L938.0 174.38 L938.5 166.73 L939.0 160.15 L939.5 154.06 L940.0 148.38 L940.5 143.08 L941.0 138.10 L941.5 133.36 L942.0 128.73 L942.5 123.97 L943.0 118.93 L943.5 113.96 L944.0 109.34 L944.5 105.46 L945.0 103.22 L945.5 103.38 L946.0 105.53 L946.5 109.12 L947.0 113.61 L947.5 118.51 L948.0 123.54 L948.5 128.87 L949.0 135.71 L949.5 143.30 L950.0 150.71 L950.5 156.84 L951.0 162.10 L951.5 167.28 L952.0 172.33 L952.5 177.16 L953.0 181.73 L953.5 186.00 L954.0 189.99 L954.5 193.84 L955.0 197.60 L955.5 201.26 L956.0 204.87 L956.5 208.45 L957.0 211.99 L957.5 215.41 L958.0 218.65 L958.5 221.83 L959.0 224.78 L959.5 227.41 L960.0 229.65 L960.5 231.67 L961.0 233.63 L961.5 235.46 L962.0 237.08 L962.5 238.43 L963.0 239.42 L963.5 239.97 L964.0 240.00 L964.5 239.23 L965.0 237.77 L965.5 235.79 L966.0 233.48 L966.5 231.01 L967.0 228.55 L967.5 226.29 L968.0 224.40 L968.5 222.65 L969.0 220.74 L969.5 218.78 L970.0 216.85 L970.5 215.06 L971.0 213.50 L971.5 212.27 L972.0 211.46 L972.5 211.17 L973.0 211.61 L973.5 212.79 L974.0 214.51 L974.5 216.57 L975.0 218.78 L975.5 220.94 L976.0 222.84 L976.5 224.60 L977.0 226.45 L977.5 228.35 L978.0 230.30 L978.5 232.25 L979.0 234.18 L979.5 236.07 L980.0 237.89 L980.5 239.61 L981.0 241.22 L981.5 242.68 L982.0 243.96 L982.5 245.12 L983.0 246.22 L983.5 247.26 L984.0 248.26 L984.5 249.20 L985.0 250.11 L985.5 250.97 L986.0 251.80 L986.5 252.59 L987.0 253.35 L987.5 254.09 L988.0 254.80 L988.5 255.49 L989.0 256.12 L989.5 256.69 L990.0 257.23 L990.5 257.74 L991.0 258.22 L991.5 258.69 L992.0 259.16 L992.5 259.63 L993.0 260.12 L993.5 260.63 L994.0 261.18 L994.5 261.77 L995.0 262.42 L995.5 263.13 L996.0 263.91 L996.5 264.84 L997.0 265.91 L997.5 267.11 L998.0 268.40 L998.5 269.76 L999.0 271.16 L999.5 272.58 L1000.0 273.98 L1000.5 275.38 L1001.0 276.82 L1001.5 278.30 L1002.0 279.80 L1002.5 281.35 L1003.0 282.92 L1003.5 284.53 L1004.0 286.18 L1004.5 287.86 L1005.0 289.57 L1005.5 291.32 L1006.0 293.10" stroke="#12ec12" stroke-width="2.7" fill="none" stroke-linejoin="round"/>
<path d="M597.0 345.00 L597.5 344.98 L598.0 344.95 L598.5 344.93 L599.0 344.90 L599.5 344.88 L600.0 344.86 L600.5 344.83 L601.0 344.81 L601.5 344.78 L602.0 344.76 L602.5 344.73 L603.0 344.71 L603.5 344.69 L604.0 344.66 L604.5 344.64 L605.0 344.61 L605.5 344.59 L606.0 344.56 L606.5 344.54 L607.0 344.52 L607.5 344.49 L608.0 344.47 L608.5 344.44 L609.0 344.42 L609.5 344.39 L610.0 344.37 L610.5 344.34 L611.0 344.32 L611.5 344.30 L612.0 344.27 L612.5 344.25 L613.0 344.22 L613.5 344.20 L614.0 344.17 L614.5 344.15 L615.0 344.12 L615.5 344.10 L616.0 344.07 L616.5 344.05 L617.0 344.02 L617.5 344.00 L618.0 343.97 L618.5 343.95 L619.0 343.92 L619.5 343.90 L620.0 343.87 L620.5 343.85 L621.0 343.82 L621.5 343.80 L622.0 343.77 L622.5 343.75 L623.0 343.72 L623.5 343.70 L624.0 343.67 L624.5 343.65 L625.0 343.62 L625.5 343.60 L626.0 343.57 L626.5 343.55 L627.0 343.52 L627.5 343.50 L628.0 343.47 L628.5 343.45 L629.0 343.42 L629.5 343.40 L630.0 343.37 L630.5 343.35 L631.0 343.32 L631.5 343.30 L632.0 343.27 L632.5 343.25 L633.0 343.22 L633.5 343.19 L634.0 343.17 L634.5 343.14 L635.0 343.12 L635.5 343.09 L636.0 343.07 L636.5 343.04 L637.0 343.02 L637.5 342.99 L638.0 342.96 L638.5 342.94 L639.0 342.91 L639.5 342.89 L640.0 342.86 L640.5 342.84 L641.0 342.81 L641.5 342.78 L642.0 342.76 L642.5 342.73 L643.0 342.71 L643.5 342.68 L644.0 342.66 L644.5 342.63 L645.0 342.60 L645.5 342.58 L646.0 342.55 L646.5 342.53 L647.0 342.50 L647.5 342.47 L648.0 342.45 L648.5 342.42 L649.0 342.40 L649.5 342.37 L650.0 342.34 L650.5 342.32 L651.0 342.29 L651.5 342.26 L652.0 342.24 L652.5 342.21 L653.0 342.18 L653.5 342.16 L654.0 342.13 L654.5 342.10 L655.0 342.08 L655.5 342.05 L656.0 342.02 L656.5 342.00 L657.0 341.97 L657.5 341.94 L658.0 341.91 L658.5 341.89 L659.0 341.86 L659.5 341.83 L660.0 341.80 L660.5 341.78 L661.0 341.75 L661.5 341.72 L662.0 341.70 L662.5 341.67 L663.0 341.64 L663.5 341.61 L664.0 341.59 L664.5 341.56 L665.0 341.53 L665.5 341.50 L666.0 341.47 L666.5 341.45 L667.0 341.42 L667.5 341.39 L668.0 341.36 L668.5 341.34 L669.0 341.31 L669.5 341.28 L670.0 341.25 L670.5 341.23 L671.0 341.20 L671.5 341.17 L672.0 341.14 L672.5 341.12 L673.0 341.09 L673.5 341.06 L674.0 341.03 L674.5 341.00 L675.0 340.98 L675.5 340.95 L676.0 340.92 L676.5 340.89 L677.0 340.87 L677.5 340.84 L678.0 340.81 L678.5 340.78 L679.0 340.76 L679.5 340.73 L680.0 340.70 L680.5 340.68 L681.0 340.65 L681.5 340.62 L682.0 340.59 L682.5 340.57 L683.0 340.54 L683.5 340.51 L684.0 340.48 L684.5 340.46 L685.0 340.43 L685.5 340.40 L686.0 340.38 L686.5 340.35 L687.0 340.32 L687.5 340.30 L688.0 340.27 L688.5 340.24 L689.0 340.22 L689.5 340.19 L690.0 340.16 L690.5 340.14 L691.0 340.11 L691.5 340.08 L692.0 340.06 L692.5 340.03 L693.0 340.01 L693.5 339.98 L694.0 339.95 L694.5 339.93 L695.0 339.90 L695.5 339.88 L696.0 339.85 L696.5 339.83 L697.0 339.80 L697.5 339.77 L698.0 339.75 L698.5 339.72 L699.0 339.70 L699.5 339.67 L700.0 339.65 L700.5 339.63 L701.0 339.60 L701.5 339.58 L702.0 339.55 L702.5 339.53 L703.0 339.51 L703.5 339.48 L704.0 339.46 L704.5 339.43 L705.0 339.41 L705.5 339.39 L706.0 339.36 L706.5 339.34 L707.0 339.32 L707.5 339.30 L708.0 339.27 L708.5 339.25 L709.0 339.23 L709.5 339.20 L710.0 339.18 L710.5 339.16 L711.0 339.14 L711.5 339.11 L712.0 339.09 L712.5 339.07 L713.0 339.05 L713.5 339.03 L714.0 339.00 L714.5 338.98 L715.0 338.96 L715.5 338.94 L716.0 338.91 L716.5 338.89 L717.0 338.87 L717.5 338.85 L718.0 338.83 L718.5 338.80 L719.0 338.78 L719.5 338.76 L720.0 338.74 L720.5 338.71 L721.0 338.69 L721.5 338.67 L722.0 338.65 L722.5 338.63 L723.0 338.60 L723.5 338.58 L724.0 338.56 L724.5 338.54 L725.0 338.51 L725.5 338.49 L726.0 338.47 L726.5 338.44 L727.0 338.42 L727.5 338.40 L728.0 338.38 L728.5 338.35 L729.0 338.33 L729.5 338.31 L730.0 338.28 L730.5 338.26 L731.0 338.24 L731.5 338.21 L732.0 338.19 L732.5 338.16 L733.0 338.14 L733.5 338.12 L734.0 338.09 L734.5 338.07 L735.0 338.04 L735.5 338.02 L736.0 337.99 L736.5 337.97 L737.0 337.94 L737.5 337.92 L738.0 337.89 L738.5 337.87 L739.0 337.84 L739.5 337.81 L740.0 337.79 L740.5 337.76 L741.0 337.73 L741.5 337.71 L742.0 337.68 L742.5 337.65 L743.0 337.63 L743.5 337.60 L744.0 337.57 L744.5 337.54 L745.0 337.52 L745.5 337.49 L746.0 337.46 L746.5 337.43 L747.0 337.40 L747.5 337.37 L748.0 337.34 L748.5 337.31 L749.0 337.28 L749.5 337.25 L750.0 337.22 L750.5 337.19 L751.0 337.16 L751.5 337.13 L752.0 337.10 L752.5 337.07 L753.0 337.04 L753.5 337.01 L754.0 336.97 L754.5 336.94 L755.0 336.91 L755.5 336.88 L756.0 336.85 L756.5 336.81 L757.0 336.78 L757.5 336.75 L758.0 336.71 L758.5 336.68 L759.0 336.65 L759.5 336.61 L760.0 336.58 L760.5 336.54 L761.0 336.51 L761.5 336.47 L762.0 336.44 L762.5 336.40 L763.0 336.37 L763.5 336.33 L764.0 336.29 L764.5 336.26 L765.0 336.22 L765.5 336.18 L766.0 336.14 L766.5 336.11 L767.0 336.07 L767.5 336.03 L768.0 335.99 L768.5 335.95 L769.0 335.91 L769.5 335.87 L770.0 335.83 L770.5 335.79 L771.0 335.75 L771.5 335.70 L772.0 335.66 L772.5 335.62 L773.0 335.58 L773.5 335.53 L774.0 335.49 L774.5 335.44 L775.0 335.40 L775.5 335.35 L776.0 335.30 L776.5 335.25 L777.0 335.19 L777.5 335.13 L778.0 335.06 L778.5 334.99 L779.0 334.92 L779.5 334.85 L780.0 334.78 L780.5 334.70 L781.0 334.63 L781.5 334.55 L782.0 334.47 L782.5 334.40 L783.0 334.32 L783.5 334.24 L784.0 334.16 L784.5 334.09 L785.0 334.01 L785.5 333.94 L786.0 333.87 L786.5 333.80 L787.0 333.73 L787.5 333.67 L788.0 333.60 L788.5 333.54 L789.0 333.49 L789.5 333.44 L790.0 333.39 L790.5 333.35 L791.0 333.31 L791.5 333.28 L792.0 333.25 L792.5 333.23 L793.0 333.21 L793.5 333.20 L794.0 333.20 L794.5 333.20 L795.0 333.21 L795.5 333.22 L796.0 333.23 L796.5 333.24 L797.0 333.26 L797.5 333.28 L798.0 333.30 L798.5 333.33 L799.0 333.36 L799.5 333.39 L800.0 333.43 L800.5 333.46 L801.0 333.50 L801.5 333.54 L802.0 333.59 L802.5 333.63 L803.0 333.68 L803.5 333.73 L804.0 333.78 L804.5 333.83 L805.0 333.89 L805.5 333.94 L806.0 334.00 L806.5 334.08 L807.0 334.21 L807.5 334.37 L808.0 334.55 L808.5 334.76 L809.0 334.97 L809.5 335.18 L810.0 335.39 L810.5 335.57 L811.0 335.74 L811.5 335.87 L812.0 335.96 L812.5 336.00 L813.0 335.95 L813.5 335.76 L814.0 335.47 L814.5 335.09 L815.0 334.67 L815.5 334.22 L816.0 333.79 L816.5 333.40 L817.0 333.09 L817.5 332.88 L818.0 332.80 L818.5 332.80 L819.0 332.81 L819.5 332.82 L820.0 332.84 L820.5 332.86 L821.0 332.89 L821.5 332.91 L822.0 332.94 L822.5 332.97 L823.0 333.00 L823.5 333.03 L824.0 333.06 L824.5 333.09 L825.0 333.11 L825.5 333.14 L826.0 333.16 L826.5 333.18 L827.0 333.19 L827.5 333.20 L828.0 333.20 L828.5 333.17 L829.0 333.08 L829.5 332.95 L830.0 332.77 L830.5 332.56 L831.0 332.32 L831.5 332.06 L832.0 331.79 L832.5 331.51 L833.0 331.24 L833.5 330.97 L834.0 330.72 L834.5 330.50 L835.0 330.30 L835.5 330.12 L836.0 329.94 L836.5 329.76 L837.0 329.57 L837.5 329.39 L838.0 329.20 L838.5 329.02 L839.0 328.83 L839.5 328.65 L840.0 328.47 L840.5 328.29 L841.0 328.11 L841.5 327.93 L842.0 327.76 L842.5 327.59 L843.0 327.43 L843.5 327.27 L844.0 327.11 L844.5 326.96 L845.0 326.82 L845.5 326.68 L846.0 326.55 L846.5 326.43 L847.0 326.31 L847.5 326.20 L848.0 326.10 L848.5 326.01 L849.0 325.93 L849.5 325.86 L850.0 325.80 L850.5 325.74 L851.0 325.69 L851.5 325.64 L852.0 325.58 L852.5 325.53 L853.0 325.48 L853.5 325.43 L854.0 325.38 L854.5 325.33 L855.0 325.28 L855.5 325.23 L856.0 325.18 L856.5 325.13 L857.0 325.09 L857.5 325.04 L858.0 325.00 L858.5 324.96 L859.0 324.92 L859.5 324.88 L860.0 324.84 L860.5 324.80 L861.0 324.76 L861.5 324.72 L862.0 324.69 L862.5 324.65 L863.0 324.62 L863.5 324.59 L864.0 324.55 L864.5 324.52 L865.0 324.50 L865.5 324.47 L866.0 324.44 L866.5 324.42 L867.0 324.39 L867.5 324.37 L868.0 324.35 L868.5 324.33 L869.0 324.31 L869.5 324.29 L870.0 324.28 L870.5 324.26 L871.0 324.25 L871.5 324.24 L872.0 324.23 L872.5 324.22 L873.0 324.21 L873.5 324.21 L874.0 324.20 L874.5 324.20 L875.0 324.20 L875.5 324.20 L876.0 324.20 L876.5 324.21 L877.0 324.21 L877.5 324.22 L878.0 324.23 L878.5 324.24 L879.0 324.25 L879.5 324.27 L880.0 324.28 L880.5 324.30 L881.0 324.32 L881.5 324.34 L882.0 324.36 L882.5 324.38 L883.0 324.40 L883.5 324.43 L884.0 324.45 L884.5 324.48 L885.0 324.50 L885.5 324.53 L886.0 324.56 L886.5 324.59 L887.0 324.62 L887.5 324.65 L888.0 324.69 L888.5 324.72 L889.0 324.75 L889.5 324.79 L890.0 324.82 L890.5 324.86 L891.0 324.90 L891.5 324.93 L892.0 324.97 L892.5 325.01 L893.0 325.05 L893.5 325.08 L894.0 325.12 L894.5 325.16 L895.0 325.20 L895.5 325.24 L896.0 325.30 L896.5 325.36 L897.0 325.44 L897.5 325.52 L898.0 325.60 L898.5 325.70 L899.0 325.80 L899.5 325.90 L900.0 326.00 L900.5 326.11 L901.0 326.22 L901.5 326.33 L902.0 326.44 L902.5 326.54 L903.0 326.65 L903.5 326.75 L904.0 326.85 L904.5 326.94 L905.0 327.03 L905.5 327.11 L906.0 327.18 L906.5 327.24 L907.0 327.30 L907.5 327.34 L908.0 327.37 L908.5 327.39 L909.0 327.40 L909.5 327.39 L910.0 327.37 L910.5 327.33 L911.0 327.27 L911.5 327.20 L912.0 326.55 L912.5 325.07 L913.0 323.23 L913.5 321.50 L914.0 319.96 L914.5 318.41 L915.0 316.83 L915.5 315.23 L916.0 313.60 L916.5 311.95 L917.0 310.26 L917.5 308.54 L918.0 306.77 L918.5 304.97 L919.0 303.13 L919.5 301.24 L920.0 299.30 L920.5 297.10 L921.0 294.66 L921.5 292.12 L922.0 289.64 L922.5 287.35 L923.0 285.41 L923.5 283.94 L924.0 282.66 L924.5 281.40 L925.0 280.20 L925.5 279.08 L926.0 278.07 L926.5 277.22 L927.0 276.53 L927.5 276.06 L928.0 275.82 L928.5 275.83 L929.0 275.98 L929.5 276.21 L930.0 276.48 L930.5 276.74 L931.0 276.93 L931.5 277.00 L932.0 274.97 L932.5 270.03 L933.0 263.90 L933.5 255.24 L934.0 244.20 L934.5 234.02 L935.0 224.09 L935.5 214.12 L936.0 204.06 L936.5 193.66 L937.0 182.46 L937.5 171.16 L938.0 160.59 L938.5 151.55 L939.0 144.24 L939.5 137.66 L940.0 131.67 L940.5 126.13 L941.0 120.93 L941.5 115.92 L942.0 110.99 L942.5 105.75 L943.0 99.97 L943.5 94.20 L944.0 89.05 L944.5 85.12 L945.0 83.01 L945.5 83.24 L946.0 85.68 L946.5 89.84 L947.0 95.20 L947.5 101.28 L948.0 107.55 L948.5 114.18 L949.0 123.00 L949.5 132.88 L950.0 142.36 L950.5 150.00 L951.0 156.01 L951.5 161.59 L952.0 166.79 L952.5 171.65 L953.0 176.22 L953.5 180.54 L954.0 184.66 L954.5 188.62 L955.0 192.47 L955.5 196.25 L956.0 200.00 L956.5 203.79 L957.0 207.59 L957.5 211.32 L958.0 214.89 L958.5 218.23 L959.0 221.25 L959.5 223.86 L960.0 226.00 L960.5 227.88 L961.0 229.74 L961.5 231.50 L962.0 233.07 L962.5 234.38 L963.0 235.35 L963.5 235.90 L964.0 235.93 L964.5 235.15 L965.0 233.67 L965.5 231.66 L966.0 229.31 L966.5 226.79 L967.0 224.28 L967.5 221.96 L968.0 220.00 L968.5 218.17 L969.0 216.16 L969.5 214.08 L970.0 212.05 L970.5 210.14 L971.0 208.49 L971.5 207.17 L972.0 206.31 L972.5 206.00 L973.0 206.45 L973.5 207.66 L974.0 209.43 L974.5 211.55 L975.0 213.82 L975.5 216.04 L976.0 218.00 L976.5 219.82 L977.0 221.73 L977.5 223.70 L978.0 225.72 L978.5 227.74 L979.0 229.75 L979.5 231.71 L980.0 233.61 L980.5 235.41 L981.0 237.10 L981.5 238.64 L982.0 240.00 L982.5 241.24 L983.0 242.42 L983.5 243.55 L984.0 244.63 L984.5 245.65 L985.0 246.64 L985.5 247.57 L986.0 248.47 L986.5 249.33 L987.0 250.15 L987.5 250.94 L988.0 251.70 L988.5 252.43 L989.0 253.09 L989.5 253.69 L990.0 254.25 L990.5 254.78 L991.0 255.27 L991.5 255.76 L992.0 256.23 L992.5 256.72 L993.0 257.22 L993.5 257.75 L994.0 258.32 L994.5 258.93 L995.0 259.61 L995.5 260.35 L996.0 261.17 L996.5 262.16 L997.0 263.31 L997.5 264.60 L998.0 266.00 L998.5 267.47 L999.0 268.98 L999.5 270.50 L1000.0 272.00 L1000.5 273.49 L1001.0 275.02 L1001.5 276.57 L1002.0 278.16 L1002.5 279.77 L1003.0 281.42 L1003.5 283.11 L1004.0 284.82 L1004.5 286.57 L1005.0 288.35 L1005.5 290.16 L1006.0 292.00" stroke="#0000d8" stroke-width="2.7" fill="none" stroke-linejoin="round"/>
<path d="M597.0 345.30 L597.5 345.29 L598.0 345.29 L598.5 345.28 L599.0 345.27 L599.5 345.27 L600.0 345.26 L600.5 345.25 L601.0 345.25 L601.5 345.24 L602.0 345.23 L602.5 345.23 L603.0 345.22 L603.5 345.21 L604.0 345.21 L604.5 345.20 L605.0 345.19 L605.5 345.18 L606.0 345.18 L606.5 345.17 L607.0 345.16 L607.5 345.16 L608.0 345.15 L608.5 345.14 L609.0 345.13 L609.5 345.13 L610.0 345.12 L610.5 345.11 L611.0 345.10 L611.5 345.10 L612.0 345.09 L612.5 345.08 L613.0 345.07 L613.5 345.07 L614.0 345.06 L614.5 345.05 L615.0 345.04 L615.5 345.04 L616.0 345.03 L616.5 345.02 L617.0 345.01 L617.5 345.01 L618.0 345.00 L618.5 344.99 L619.0 344.98 L619.5 344.97 L620.0 344.97 L620.5 344.96 L621.0 344.95 L621.5 344.94 L622.0 344.93 L622.5 344.93 L623.0 344.92 L623.5 344.91 L624.0 344.90 L624.5 344.89 L625.0 344.89 L625.5 344.88 L626.0 344.87 L626.5 344.86 L627.0 344.85 L627.5 344.84 L628.0 344.84 L628.5 344.83 L629.0 344.82 L629.5 344.81 L630.0 344.80 L630.5 344.79 L631.0 344.79 L631.5 344.78 L632.0 344.77 L632.5 344.76 L633.0 344.75 L633.5 344.74 L634.0 344.73 L634.5 344.72 L635.0 344.72 L635.5 344.71 L636.0 344.70 L636.5 344.69 L637.0 344.68 L637.5 344.67 L638.0 344.66 L638.5 344.65 L639.0 344.65 L639.5 344.64 L640.0 344.63 L640.5 344.62 L641.0 344.61 L641.5 344.60 L642.0 344.59 L642.5 344.58 L643.0 344.57 L643.5 344.56 L644.0 344.56 L644.5 344.55 L645.0 344.54 L645.5 344.53 L646.0 344.52 L646.5 344.51 L647.0 344.50 L647.5 344.49 L648.0 344.48 L648.5 344.47 L649.0 344.46 L649.5 344.45 L650.0 344.44 L650.5 344.44 L651.0 344.43 L651.5 344.42 L652.0 344.41 L652.5 344.40 L653.0 344.39 L653.5 344.38 L654.0 344.37 L654.5 344.36 L655.0 344.35 L655.5 344.34 L656.0 344.33 L656.5 344.32 L657.0 344.32 L657.5 344.31 L658.0 344.30 L658.5 344.29 L659.0 344.28 L659.5 344.27 L660.0 344.26 L660.5 344.25 L661.0 344.24 L661.5 344.23 L662.0 344.22 L662.5 344.21 L663.0 344.20 L663.5 344.19 L664.0 344.18 L664.5 344.17 L665.0 344.16 L665.5 344.15 L666.0 344.14 L666.5 344.13 L667.0 344.12 L667.5 344.11 L668.0 344.10 L668.5 344.09 L669.0 344.08 L669.5 344.07 L670.0 344.06 L670.5 344.05 L671.0 344.04 L671.5 344.03 L672.0 344.02 L672.5 344.01 L673.0 344.00 L673.5 343.99 L674.0 343.98 L674.5 343.97 L675.0 343.96 L675.5 343.95 L676.0 343.94 L676.5 343.93 L677.0 343.92 L677.5 343.90 L678.0 343.89 L678.5 343.88 L679.0 343.87 L679.5 343.86 L680.0 343.85 L680.5 343.84 L681.0 343.82 L681.5 343.81 L682.0 343.80 L682.5 343.79 L683.0 343.78 L683.5 343.77 L684.0 343.75 L684.5 343.74 L685.0 343.73 L685.5 343.72 L686.0 343.70 L686.5 343.69 L687.0 343.68 L687.5 343.67 L688.0 343.65 L688.5 343.64 L689.0 343.63 L689.5 343.61 L690.0 343.60 L690.5 343.59 L691.0 343.57 L691.5 343.56 L692.0 343.54 L692.5 343.53 L693.0 343.52 L693.5 343.50 L694.0 343.49 L694.5 343.47 L695.0 343.46 L695.5 343.44 L696.0 343.43 L696.5 343.42 L697.0 343.40 L697.5 343.38 L698.0 343.37 L698.5 343.35 L699.0 343.34 L699.5 343.32 L700.0 343.31 L700.5 343.29 L701.0 343.27 L701.5 343.25 L702.0 343.24 L702.5 343.22 L703.0 343.20 L703.5 343.18 L704.0 343.17 L704.5 343.15 L705.0 343.13 L705.5 343.11 L706.0 343.09 L706.5 343.07 L707.0 343.05 L707.5 343.03 L708.0 343.01 L708.5 342.99 L709.0 342.97 L709.5 342.95 L710.0 342.93 L710.5 342.91 L711.0 342.89 L711.5 342.87 L712.0 342.84 L712.5 342.82 L713.0 342.80 L713.5 342.78 L714.0 342.76 L714.5 342.73 L715.0 342.71 L715.5 342.69 L716.0 342.67 L716.5 342.64 L717.0 342.62 L717.5 342.60 L718.0 342.57 L718.5 342.55 L719.0 342.52 L719.5 342.50 L720.0 342.48 L720.5 342.45 L721.0 342.43 L721.5 342.40 L722.0 342.38 L722.5 342.35 L723.0 342.33 L723.5 342.30 L724.0 342.28 L724.5 342.25 L725.0 342.23 L725.5 342.20 L726.0 342.17 L726.5 342.15 L727.0 342.12 L727.5 342.09 L728.0 342.07 L728.5 342.04 L729.0 342.02 L729.5 341.99 L730.0 341.96 L730.5 341.93 L731.0 341.91 L731.5 341.88 L732.0 341.85 L732.5 341.83 L733.0 341.80 L733.5 341.77 L734.0 341.74 L734.5 341.72 L735.0 341.69 L735.5 341.66 L736.0 341.63 L736.5 341.60 L737.0 341.58 L737.5 341.55 L738.0 341.52 L738.5 341.49 L739.0 341.46 L739.5 341.43 L740.0 341.41 L740.5 341.38 L741.0 341.35 L741.5 341.32 L742.0 341.29 L742.5 341.26 L743.0 341.23 L743.5 341.20 L744.0 341.17 L744.5 341.15 L745.0 341.12 L745.5 341.09 L746.0 341.06 L746.5 341.03 L747.0 341.00 L747.5 340.97 L748.0 340.94 L748.5 340.91 L749.0 340.88 L749.5 340.85 L750.0 340.82 L750.5 340.79 L751.0 340.76 L751.5 340.73 L752.0 340.69 L752.5 340.66 L753.0 340.63 L753.5 340.60 L754.0 340.57 L754.5 340.53 L755.0 340.50 L755.5 340.47 L756.0 340.43 L756.5 340.40 L757.0 340.36 L757.5 340.33 L758.0 340.29 L758.5 340.26 L759.0 340.23 L759.5 340.19 L760.0 340.15 L760.5 340.12 L761.0 340.08 L761.5 340.05 L762.0 340.01 L762.5 339.97 L763.0 339.94 L763.5 339.90 L764.0 339.86 L764.5 339.83 L765.0 339.79 L765.5 339.75 L766.0 339.71 L766.5 339.67 L767.0 339.64 L767.5 339.60 L768.0 339.56 L768.5 339.52 L769.0 339.48 L769.5 339.44 L770.0 339.40 L770.5 339.36 L771.0 339.32 L771.5 339.28 L772.0 339.24 L772.5 339.20 L773.0 339.16 L773.5 339.12 L774.0 339.08 L774.5 339.04 L775.0 339.00 L775.5 338.96 L776.0 338.91 L776.5 338.86 L777.0 338.81 L777.5 338.76 L778.0 338.70 L778.5 338.65 L779.0 338.59 L779.5 338.53 L780.0 338.47 L780.5 338.41 L781.0 338.34 L781.5 338.28 L782.0 338.22 L782.5 338.15 L783.0 338.09 L783.5 338.03 L784.0 337.97 L784.5 337.90 L785.0 337.84 L785.5 337.79 L786.0 337.73 L786.5 337.67 L787.0 337.62 L787.5 337.57 L788.0 337.52 L788.5 337.47 L789.0 337.43 L789.5 337.39 L790.0 337.35 L790.5 337.32 L791.0 337.29 L791.5 337.26 L792.0 337.24 L792.5 337.22 L793.0 337.21 L793.5 337.20 L794.0 337.20 L794.5 337.20 L795.0 337.21 L795.5 337.21 L796.0 337.23 L796.5 337.24 L797.0 337.26 L797.5 337.28 L798.0 337.30 L798.5 337.33 L799.0 337.35 L799.5 337.39 L800.0 337.42 L800.5 337.46 L801.0 337.49 L801.5 337.53 L802.0 337.58 L802.5 337.62 L803.0 337.67 L803.5 337.72 L804.0 337.77 L804.5 337.83 L805.0 337.88 L805.5 337.94 L806.0 338.00 L806.5 338.09 L807.0 338.24 L807.5 338.42 L808.0 338.64 L808.5 338.89 L809.0 339.14 L809.5 339.40 L810.0 339.65 L810.5 339.88 L811.0 340.08 L811.5 340.24 L812.0 340.35 L812.5 340.40 L813.0 340.35 L813.5 340.16 L814.0 339.87 L814.5 339.49 L815.0 339.07 L815.5 338.62 L816.0 338.19 L816.5 337.80 L817.0 337.49 L817.5 337.28 L818.0 337.20 L818.5 337.20 L819.0 337.21 L819.5 337.22 L820.0 337.23 L820.5 337.25 L821.0 337.26 L821.5 337.28 L822.0 337.31 L822.5 337.33 L823.0 337.35 L823.5 337.37 L824.0 337.39 L824.5 337.42 L825.0 337.44 L825.5 337.45 L826.0 337.47 L826.5 337.48 L827.0 337.49 L827.5 337.50 L828.0 337.50 L828.5 337.47 L829.0 337.39 L829.5 337.26 L830.0 337.09 L830.5 336.89 L831.0 336.66 L831.5 336.42 L832.0 336.16 L832.5 335.90 L833.0 335.65 L833.5 335.40 L834.0 335.17 L834.5 334.97 L835.0 334.80 L835.5 334.65 L836.0 334.50 L836.5 334.35 L837.0 334.20 L837.5 334.05 L838.0 333.91 L838.5 333.76 L839.0 333.62 L839.5 333.48 L840.0 333.34 L840.5 333.20 L841.0 333.07 L841.5 332.94 L842.0 332.81 L842.5 332.68 L843.0 332.56 L843.5 332.44 L844.0 332.32 L844.5 332.20 L845.0 332.09 L845.5 331.99 L846.0 331.88 L846.5 331.78 L847.0 331.69 L847.5 331.59 L848.0 331.51 L848.5 331.42 L849.0 331.34 L849.5 331.27 L850.0 331.20 L850.5 331.13 L851.0 331.07 L851.5 331.00 L852.0 330.93 L852.5 330.87 L853.0 330.80 L853.5 330.74 L854.0 330.67 L854.5 330.61 L855.0 330.54 L855.5 330.48 L856.0 330.42 L856.5 330.35 L857.0 330.29 L857.5 330.23 L858.0 330.17 L858.5 330.11 L859.0 330.06 L859.5 330.00 L860.0 329.94 L860.5 329.89 L861.0 329.83 L861.5 329.78 L862.0 329.73 L862.5 329.68 L863.0 329.63 L863.5 329.59 L864.0 329.54 L864.5 329.50 L865.0 329.45 L865.5 329.41 L866.0 329.37 L866.5 329.33 L867.0 329.30 L867.5 329.26 L868.0 329.23 L868.5 329.20 L869.0 329.17 L869.5 329.15 L870.0 329.12 L870.5 329.10 L871.0 329.08 L871.5 329.06 L872.0 329.05 L872.5 329.03 L873.0 329.02 L873.5 329.01 L874.0 329.01 L874.5 329.00 L875.0 329.00 L875.5 329.00 L876.0 329.00 L876.5 329.01 L877.0 329.01 L877.5 329.02 L878.0 329.03 L878.5 329.04 L879.0 329.05 L879.5 329.06 L880.0 329.07 L880.5 329.08 L881.0 329.10 L881.5 329.11 L882.0 329.13 L882.5 329.15 L883.0 329.17 L883.5 329.19 L884.0 329.21 L884.5 329.23 L885.0 329.25 L885.5 329.28 L886.0 329.30 L886.5 329.32 L887.0 329.35 L887.5 329.38 L888.0 329.40 L888.5 329.43 L889.0 329.45 L889.5 329.48 L890.0 329.51 L890.5 329.54 L891.0 329.57 L891.5 329.60 L892.0 329.62 L892.5 329.65 L893.0 329.68 L893.5 329.71 L894.0 329.74 L894.5 329.77 L895.0 329.80 L895.5 329.83 L896.0 329.87 L896.5 329.91 L897.0 329.96 L897.5 330.02 L898.0 330.07 L898.5 330.13 L899.0 330.20 L899.5 330.26 L900.0 330.33 L900.5 330.40 L901.0 330.47 L901.5 330.53 L902.0 330.60 L902.5 330.67 L903.0 330.74 L903.5 330.80 L904.0 330.86 L904.5 330.92 L905.0 330.97 L905.5 331.02 L906.0 331.06 L906.5 331.10 L907.0 331.14 L907.5 331.16 L908.0 331.18 L908.5 331.20 L909.0 331.20 L909.5 331.17 L910.0 331.10 L910.5 330.98 L911.0 330.81 L911.5 330.60 L912.0 329.69 L912.5 327.82 L913.0 325.56 L913.5 323.50 L914.0 321.75 L914.5 320.03 L915.0 318.33 L915.5 316.64 L916.0 314.96 L916.5 313.27 L917.0 311.57 L917.5 309.85 L918.0 308.09 L918.5 306.30 L919.0 304.46 L919.5 302.56 L920.0 300.60 L920.5 298.38 L921.0 295.93 L921.5 293.40 L922.0 290.93 L922.5 288.65 L923.0 286.71 L923.5 285.24 L924.0 283.95 L924.5 282.67 L925.0 281.46 L925.5 280.32 L926.0 279.31 L926.5 278.44 L927.0 277.75 L927.5 277.26 L928.0 277.02 L928.5 277.02 L929.0 277.15 L929.5 277.34 L930.0 277.57 L930.5 277.78 L931.0 277.94 L931.5 278.00 L932.0 276.01 L932.5 271.35 L933.0 266.00 L933.5 260.05 L934.0 252.95 L934.5 245.24 L935.0 236.34 L935.5 227.46 L936.0 220.00 L936.5 214.28 L937.0 209.36 L937.5 204.76 L938.0 200.00 L938.5 194.91 L939.0 189.70 L939.5 184.50 L940.0 179.41 L940.5 174.54 L941.0 170.00 L941.5 165.75 L942.0 161.69 L942.5 157.81 L943.0 154.14 L943.5 150.67 L944.0 147.02 L944.5 143.22 L945.0 140.76 L945.5 140.80 L946.0 142.41 L946.5 144.92 L947.0 147.80 L947.5 150.52 L948.0 153.23 L948.5 156.16 L949.0 159.31 L949.5 162.66 L950.0 166.23 L950.5 170.00 L951.0 174.25 L951.5 179.07 L952.0 184.23 L952.5 189.46 L953.0 194.52 L953.5 199.15 L954.0 203.34 L954.5 207.49 L955.0 211.55 L955.5 215.49 L956.0 219.27 L956.5 222.86 L957.0 226.20 L957.5 229.26 L958.0 232.00 L958.5 234.62 L959.0 237.29 L959.5 239.97 L960.0 242.59 L960.5 245.09 L961.0 247.42 L961.5 249.52 L962.0 251.32 L962.5 252.78 L963.0 253.82 L963.5 254.40 L964.0 254.43 L964.5 253.70 L965.0 252.31 L965.5 250.44 L966.0 248.26 L966.5 245.96 L967.0 243.69 L967.5 241.65 L968.0 240.00 L968.5 238.54 L969.0 236.99 L969.5 235.42 L970.0 233.90 L970.5 232.50 L971.0 231.29 L971.5 230.34 L972.0 229.72 L972.5 229.50 L973.0 229.90 L973.5 230.97 L974.0 232.53 L974.5 234.40 L975.0 236.39 L975.5 238.32 L976.0 240.00 L976.5 241.55 L977.0 243.17 L977.5 244.84 L978.0 246.53 L978.5 248.22 L979.0 249.89 L979.5 251.51 L980.0 253.06 L980.5 254.51 L981.0 255.83 L981.5 257.00 L982.0 258.00 L982.5 258.87 L983.0 259.68 L983.5 260.43 L984.0 261.13 L984.5 261.79 L985.0 262.42 L985.5 263.01 L986.0 263.58 L986.5 264.14 L987.0 264.68 L987.5 265.23 L988.0 265.78 L988.5 266.33 L989.0 266.85 L989.5 267.33 L990.0 267.79 L990.5 268.24 L991.0 268.67 L991.5 269.09 L992.0 269.52 L992.5 269.95 L993.0 270.39 L993.5 270.85 L994.0 271.34 L994.5 271.85 L995.0 272.40 L995.5 272.99 L996.0 273.63 L996.5 274.35 L997.0 275.14 L997.5 276.00 L998.0 276.92 L998.5 277.89 L999.0 278.89 L999.5 279.94 L1000.0 281.00 L1000.5 282.10 L1001.0 283.24 L1001.5 284.42 L1002.0 285.65 L1002.5 286.92 L1003.0 288.24 L1003.5 289.59 L1004.0 290.99 L1004.5 292.43 L1005.0 293.92 L1005.5 295.44 L1006.0 297.00" stroke="#00f4f4" stroke-width="2.7" fill="none" stroke-linejoin="round"/>
<path d="M597.0 345.03 L597.5 345.01 L598.0 344.99 L598.5 344.96 L599.0 344.94 L599.5 344.92 L600.0 344.90 L600.5 344.87 L601.0 344.85 L601.5 344.83 L602.0 344.81 L602.5 344.78 L603.0 344.76 L603.5 344.74 L604.0 344.72 L604.5 344.69 L605.0 344.67 L605.5 344.65 L606.0 344.63 L606.5 344.60 L607.0 344.58 L607.5 344.56 L608.0 344.54 L608.5 344.51 L609.0 344.49 L609.5 344.47 L610.0 344.44 L610.5 344.42 L611.0 344.40 L611.5 344.38 L612.0 344.35 L612.5 344.33 L613.0 344.31 L613.5 344.28 L614.0 344.26 L614.5 344.24 L615.0 344.21 L615.5 344.19 L616.0 344.17 L616.5 344.15 L617.0 344.12 L617.5 344.10 L618.0 344.08 L618.5 344.05 L619.0 344.03 L619.5 344.01 L620.0 343.98 L620.5 343.96 L621.0 343.94 L621.5 343.91 L622.0 343.89 L622.5 343.87 L623.0 343.84 L623.5 343.82 L624.0 343.80 L624.5 343.77 L625.0 343.75 L625.5 343.73 L626.0 343.70 L626.5 343.68 L627.0 343.66 L627.5 343.63 L628.0 343.61 L628.5 343.59 L629.0 343.56 L629.5 343.54 L630.0 343.51 L630.5 343.49 L631.0 343.47 L631.5 343.44 L632.0 343.42 L632.5 343.40 L633.0 343.37 L633.5 343.35 L634.0 343.33 L634.5 343.30 L635.0 343.28 L635.5 343.25 L636.0 343.23 L636.5 343.21 L637.0 343.18 L637.5 343.16 L638.0 343.13 L638.5 343.11 L639.0 343.09 L639.5 343.06 L640.0 343.04 L640.5 343.01 L641.0 342.99 L641.5 342.97 L642.0 342.94 L642.5 342.92 L643.0 342.89 L643.5 342.87 L644.0 342.85 L644.5 342.82 L645.0 342.80 L645.5 342.77 L646.0 342.75 L646.5 342.72 L647.0 342.70 L647.5 342.68 L648.0 342.65 L648.5 342.63 L649.0 342.60 L649.5 342.58 L650.0 342.55 L650.5 342.53 L651.0 342.50 L651.5 342.48 L652.0 342.45 L652.5 342.43 L653.0 342.40 L653.5 342.38 L654.0 342.35 L654.5 342.33 L655.0 342.30 L655.5 342.28 L656.0 342.25 L656.5 342.23 L657.0 342.20 L657.5 342.18 L658.0 342.15 L658.5 342.13 L659.0 342.10 L659.5 342.08 L660.0 342.05 L660.5 342.02 L661.0 342.00 L661.5 341.97 L662.0 341.95 L662.5 341.92 L663.0 341.90 L663.5 341.87 L664.0 341.85 L664.5 341.82 L665.0 341.79 L665.5 341.77 L666.0 341.74 L666.5 341.72 L667.0 341.69 L667.5 341.66 L668.0 341.64 L668.5 341.61 L669.0 341.59 L669.5 341.56 L670.0 341.53 L670.5 341.51 L671.0 341.48 L671.5 341.46 L672.0 341.43 L672.5 341.41 L673.0 341.38 L673.5 341.35 L674.0 341.33 L674.5 341.30 L675.0 341.28 L675.5 341.25 L676.0 341.22 L676.5 341.20 L677.0 341.17 L677.5 341.15 L678.0 341.12 L678.5 341.09 L679.0 341.07 L679.5 341.04 L680.0 341.02 L680.5 340.99 L681.0 340.97 L681.5 340.94 L682.0 340.91 L682.5 340.89 L683.0 340.86 L683.5 340.84 L684.0 340.81 L684.5 340.79 L685.0 340.76 L685.5 340.73 L686.0 340.71 L686.5 340.68 L687.0 340.66 L687.5 340.63 L688.0 340.61 L688.5 340.58 L689.0 340.56 L689.5 340.53 L690.0 340.51 L690.5 340.48 L691.0 340.46 L691.5 340.43 L692.0 340.41 L692.5 340.38 L693.0 340.36 L693.5 340.33 L694.0 340.31 L694.5 340.28 L695.0 340.26 L695.5 340.23 L696.0 340.21 L696.5 340.18 L697.0 340.16 L697.5 340.14 L698.0 340.11 L698.5 340.09 L699.0 340.06 L699.5 340.04 L700.0 340.02 L700.5 339.99 L701.0 339.97 L701.5 339.95 L702.0 339.92 L702.5 339.90 L703.0 339.88 L703.5 339.85 L704.0 339.83 L704.5 339.81 L705.0 339.78 L705.5 339.76 L706.0 339.74 L706.5 339.71 L707.0 339.69 L707.5 339.67 L708.0 339.65 L708.5 339.62 L709.0 339.60 L709.5 339.58 L710.0 339.56 L710.5 339.53 L711.0 339.51 L711.5 339.49 L712.0 339.47 L712.5 339.45 L713.0 339.42 L713.5 339.40 L714.0 339.38 L714.5 339.36 L715.0 339.33 L715.5 339.31 L716.0 339.29 L716.5 339.27 L717.0 339.24 L717.5 339.22 L718.0 339.20 L718.5 339.18 L719.0 339.16 L719.5 339.13 L720.0 339.11 L720.5 339.09 L721.0 339.07 L721.5 339.04 L722.0 339.02 L722.5 339.00 L723.0 338.98 L723.5 338.95 L724.0 338.93 L724.5 338.91 L725.0 338.88 L725.5 338.86 L726.0 338.84 L726.5 338.82 L727.0 338.79 L727.5 338.77 L728.0 338.75 L728.5 338.72 L729.0 338.70 L729.5 338.67 L730.0 338.65 L730.5 338.63 L731.0 338.60 L731.5 338.58 L732.0 338.55 L732.5 338.53 L733.0 338.51 L733.5 338.48 L734.0 338.46 L734.5 338.43 L735.0 338.41 L735.5 338.38 L736.0 338.36 L736.5 338.33 L737.0 338.31 L737.5 338.28 L738.0 338.25 L738.5 338.23 L739.0 338.20 L739.5 338.18 L740.0 338.15 L740.5 338.12 L741.0 338.10 L741.5 338.07 L742.0 338.04 L742.5 338.01 L743.0 337.99 L743.5 337.96 L744.0 337.93 L744.5 337.90 L745.0 337.88 L745.5 337.85 L746.0 337.82 L746.5 337.79 L747.0 337.76 L747.5 337.73 L748.0 337.70 L748.5 337.67 L749.0 337.64 L749.5 337.61 L750.0 337.58 L750.5 337.55 L751.0 337.52 L751.5 337.49 L752.0 337.46 L752.5 337.43 L753.0 337.40 L753.5 337.37 L754.0 337.33 L754.5 337.30 L755.0 337.27 L755.5 337.24 L756.0 337.21 L756.5 337.17 L757.0 337.14 L757.5 337.11 L758.0 337.07 L758.5 337.04 L759.0 337.01 L759.5 336.97 L760.0 336.94 L760.5 336.90 L761.0 336.87 L761.5 336.83 L762.0 336.80 L762.5 336.76 L763.0 336.72 L763.5 336.69 L764.0 336.65 L764.5 336.61 L765.0 336.58 L765.5 336.54 L766.0 336.50 L766.5 336.46 L767.0 336.42 L767.5 336.39 L768.0 336.35 L768.5 336.31 L769.0 336.27 L769.5 336.23 L770.0 336.19 L770.5 336.14 L771.0 336.10 L771.5 336.06 L772.0 336.02 L772.5 335.98 L773.0 335.93 L773.5 335.89 L774.0 335.85 L774.5 335.80 L775.0 335.76 L775.5 335.71 L776.0 335.66 L776.5 335.61 L777.0 335.55 L777.5 335.49 L778.0 335.43 L778.5 335.36 L779.0 335.29 L779.5 335.22 L780.0 335.15 L780.5 335.07 L781.0 335.00 L781.5 334.92 L782.0 334.85 L782.5 334.77 L783.0 334.70 L783.5 334.62 L784.0 334.54 L784.5 334.47 L785.0 334.40 L785.5 334.32 L786.0 334.25 L786.5 334.18 L787.0 334.12 L787.5 334.06 L788.0 333.99 L788.5 333.94 L789.0 333.88 L789.5 333.83 L790.0 333.79 L790.5 333.75 L791.0 333.71 L791.5 333.68 L792.0 333.65 L792.5 333.63 L793.0 333.61 L793.5 333.60 L794.0 333.60 L794.5 333.60 L795.0 333.61 L795.5 333.62 L796.0 333.63 L796.5 333.64 L797.0 333.66 L797.5 333.68 L798.0 333.70 L798.5 333.73 L799.0 333.76 L799.5 333.79 L800.0 333.82 L800.5 333.86 L801.0 333.90 L801.5 333.94 L802.0 333.98 L802.5 334.03 L803.0 334.08 L803.5 334.13 L804.0 334.18 L804.5 334.23 L805.0 334.29 L805.5 334.34 L806.0 334.40 L806.5 334.48 L807.0 334.61 L807.5 334.77 L808.0 334.96 L808.5 335.17 L809.0 335.39 L809.5 335.60 L810.0 335.81 L810.5 336.01 L811.0 336.17 L811.5 336.31 L812.0 336.40 L812.5 336.44 L813.0 336.39 L813.5 336.20 L814.0 335.91 L814.5 335.53 L815.0 335.11 L815.5 334.66 L816.0 334.23 L816.5 333.84 L817.0 333.53 L817.5 333.32 L818.0 333.24 L818.5 333.24 L819.0 333.25 L819.5 333.26 L820.0 333.28 L820.5 333.30 L821.0 333.32 L821.5 333.35 L822.0 333.38 L822.5 333.41 L823.0 333.44 L823.5 333.46 L824.0 333.49 L824.5 333.52 L825.0 333.55 L825.5 333.57 L826.0 333.59 L826.5 333.61 L827.0 333.62 L827.5 333.63 L828.0 333.63 L828.5 333.60 L829.0 333.51 L829.5 333.38 L830.0 333.20 L830.5 332.99 L831.0 332.75 L831.5 332.50 L832.0 332.23 L832.5 331.95 L833.0 331.68 L833.5 331.41 L834.0 331.17 L834.5 330.94 L835.0 330.75 L835.5 330.57 L836.0 330.40 L836.5 330.22 L837.0 330.04 L837.5 329.86 L838.0 329.67 L838.5 329.49 L839.0 329.31 L839.5 329.13 L840.0 328.96 L840.5 328.78 L841.0 328.61 L841.5 328.43 L842.0 328.27 L842.5 328.10 L843.0 327.94 L843.5 327.79 L844.0 327.63 L844.5 327.49 L845.0 327.35 L845.5 327.21 L846.0 327.08 L846.5 326.96 L847.0 326.85 L847.5 326.74 L848.0 326.64 L848.5 326.55 L849.0 326.47 L849.5 326.40 L850.0 326.34 L850.5 326.28 L851.0 326.23 L851.5 326.17 L852.0 326.12 L852.5 326.06 L853.0 326.01 L853.5 325.96 L854.0 325.91 L854.5 325.85 L855.0 325.80 L855.5 325.75 L856.0 325.70 L856.5 325.66 L857.0 325.61 L857.5 325.56 L858.0 325.52 L858.5 325.47 L859.0 325.43 L859.5 325.39 L860.0 325.35 L860.5 325.31 L861.0 325.27 L861.5 325.23 L862.0 325.19 L862.5 325.15 L863.0 325.12 L863.5 325.09 L864.0 325.05 L864.5 325.02 L865.0 324.99 L865.5 324.96 L866.0 324.93 L866.5 324.91 L867.0 324.88 L867.5 324.86 L868.0 324.84 L868.5 324.82 L869.0 324.80 L869.5 324.78 L870.0 324.76 L870.5 324.75 L871.0 324.73 L871.5 324.72 L872.0 324.71 L872.5 324.70 L873.0 324.69 L873.5 324.69 L874.0 324.68 L874.5 324.68 L875.0 324.68 L875.5 324.68 L876.0 324.68 L876.5 324.69 L877.0 324.69 L877.5 324.70 L878.0 324.71 L878.5 324.72 L879.0 324.73 L879.5 324.75 L880.0 324.76 L880.5 324.78 L881.0 324.80 L881.5 324.81 L882.0 324.83 L882.5 324.86 L883.0 324.88 L883.5 324.90 L884.0 324.93 L884.5 324.95 L885.0 324.98 L885.5 325.01 L886.0 325.04 L886.5 325.07 L887.0 325.10 L887.5 325.13 L888.0 325.16 L888.5 325.19 L889.0 325.22 L889.5 325.26 L890.0 325.29 L890.5 325.33 L891.0 325.36 L891.5 325.40 L892.0 325.44 L892.5 325.47 L893.0 325.51 L893.5 325.55 L894.0 325.58 L894.5 325.62 L895.0 325.66 L895.5 325.70 L896.0 325.76 L896.5 325.82 L897.0 325.89 L897.5 325.97 L898.0 326.05 L898.5 326.14 L899.0 326.24 L899.5 326.33 L900.0 326.44 L900.5 326.54 L901.0 326.64 L901.5 326.75 L902.0 326.85 L902.5 326.96 L903.0 327.06 L903.5 327.16 L904.0 327.25 L904.5 327.34 L905.0 327.42 L905.5 327.50 L906.0 327.57 L906.5 327.63 L907.0 327.68 L907.5 327.72 L908.0 327.75 L908.5 327.77 L909.0 327.78 L909.5 327.77 L910.0 327.74 L910.5 327.69 L911.0 327.63 L911.5 327.54 L912.0 326.86 L912.5 325.35 L913.0 323.48 L913.5 321.71 L914.0 320.15 L914.5 318.58 L915.0 317.00 L915.5 315.39 L916.0 313.76 L916.5 312.10 L917.0 310.41 L917.5 308.69 L918.0 306.93 L918.5 305.14 L919.0 303.30 L919.5 301.41 L920.0 299.47 L920.5 297.27 L921.0 294.83 L921.5 292.29 L922.0 289.81 L922.5 287.53 L923.0 285.59 L923.5 284.12 L924.0 282.84 L924.5 281.58 L925.0 280.38 L925.5 279.26 L926.0 278.26 L926.5 277.40 L927.0 276.72 L927.5 276.25 L928.0 276.01 L928.5 276.02 L929.0 276.16 L929.5 276.39 L930.0 276.66 L930.5 276.91 L931.0 277.09 L931.5 277.17 L932.0 275.15 L932.5 270.26 L933.0 264.26 L933.5 256.08 L934.0 245.74 L934.5 236.02 L935.0 226.29 L935.5 216.52 L936.0 206.93 L936.5 197.37 L937.0 187.30 L937.5 177.21 L938.0 167.69 L938.5 159.36 L939.0 152.42 L939.5 146.09 L940.0 140.26 L940.5 134.85 L941.0 129.76 L941.5 124.89 L942.0 120.11 L942.5 115.12 L943.0 109.72 L943.5 104.36 L944.0 99.49 L944.5 95.58 L945.0 93.40 L945.5 93.60 L946.0 95.89 L946.5 99.75 L947.0 104.67 L947.5 110.14 L948.0 115.77 L948.5 121.74 L949.0 129.54 L949.5 138.24 L950.0 146.66 L950.5 153.53 L951.0 159.15 L951.5 164.54 L952.0 169.67 L952.5 174.52 L953.0 179.10 L953.5 183.40 L954.0 187.46 L954.5 191.38 L955.0 195.19 L955.5 198.92 L956.0 202.60 L956.5 206.29 L957.0 209.96 L957.5 213.54 L958.0 216.94 L958.5 220.19 L959.0 223.17 L959.5 225.80 L960.0 227.99 L960.5 229.95 L961.0 231.86 L961.5 233.66 L962.0 235.26 L962.5 236.59 L963.0 237.57 L963.5 238.12 L964.0 238.15 L964.5 237.37 L965.0 235.90 L965.5 233.92 L966.0 231.59 L966.5 229.09 L967.0 226.61 L967.5 224.32 L968.0 222.40 L968.5 220.61 L969.0 218.66 L969.5 216.64 L970.0 214.67 L970.5 212.83 L971.0 211.22 L971.5 209.95 L972.0 209.12 L972.5 208.82 L973.0 209.26 L973.5 210.46 L974.0 212.20 L974.5 214.29 L975.0 216.53 L975.5 218.71 L976.0 220.64 L976.5 222.43 L977.0 224.30 L977.5 226.24 L978.0 228.21 L978.5 230.20 L979.0 232.16 L979.5 234.09 L980.0 235.94 L980.5 237.71 L981.0 239.35 L981.5 240.84 L982.0 242.16 L982.5 243.36 L983.0 244.49 L983.5 245.58 L984.0 246.61 L984.5 247.59 L985.0 248.53 L985.5 249.43 L986.0 250.28 L986.5 251.11 L987.0 251.90 L987.5 252.66 L988.0 253.39 L988.5 254.10 L989.0 254.74 L989.5 255.33 L990.0 255.88 L990.5 256.39 L991.0 256.88 L991.5 257.36 L992.0 257.83 L992.5 258.31 L993.0 258.80 L993.5 259.32 L994.0 259.88 L994.5 260.48 L995.0 261.14 L995.5 261.87 L996.0 262.67 L996.5 263.62 L997.0 264.73 L997.5 265.97 L998.0 267.31 L998.5 268.72 L999.0 270.17 L999.5 271.63 L1000.0 273.08 L1000.5 274.52 L1001.0 276.00 L1001.5 277.51 L1002.0 279.06 L1002.5 280.63 L1003.0 282.24 L1003.5 283.89 L1004.0 285.56 L1004.5 287.27 L1005.0 289.01 L1005.5 290.79 L1006.0 292.60" stroke="#e412e4" stroke-width="2.7" fill="none" stroke-linejoin="round"/>
<path d="M597.0 345.05 L597.5 345.02 L598.0 345.00 L598.5 344.98 L599.0 344.96 L599.5 344.94 L600.0 344.92 L600.5 344.89 L601.0 344.87 L601.5 344.85 L602.0 344.83 L602.5 344.81 L603.0 344.79 L603.5 344.77 L604.0 344.74 L604.5 344.72 L605.0 344.70 L605.5 344.68 L606.0 344.66 L606.5 344.63 L607.0 344.61 L607.5 344.59 L608.0 344.57 L608.5 344.55 L609.0 344.53 L609.5 344.50 L610.0 344.48 L610.5 344.46 L611.0 344.44 L611.5 344.42 L612.0 344.39 L612.5 344.37 L613.0 344.35 L613.5 344.33 L614.0 344.31 L614.5 344.28 L615.0 344.26 L615.5 344.24 L616.0 344.22 L616.5 344.19 L617.0 344.17 L617.5 344.15 L618.0 344.13 L618.5 344.11 L619.0 344.08 L619.5 344.06 L620.0 344.04 L620.5 344.02 L621.0 343.99 L621.5 343.97 L622.0 343.95 L622.5 343.93 L623.0 343.90 L623.5 343.88 L624.0 343.86 L624.5 343.84 L625.0 343.81 L625.5 343.79 L626.0 343.77 L626.5 343.75 L627.0 343.72 L627.5 343.70 L628.0 343.68 L628.5 343.65 L629.0 343.63 L629.5 343.61 L630.0 343.59 L630.5 343.56 L631.0 343.54 L631.5 343.52 L632.0 343.50 L632.5 343.47 L633.0 343.45 L633.5 343.43 L634.0 343.40 L634.5 343.38 L635.0 343.36 L635.5 343.33 L636.0 343.31 L636.5 343.29 L637.0 343.27 L637.5 343.24 L638.0 343.22 L638.5 343.20 L639.0 343.17 L639.5 343.15 L640.0 343.13 L640.5 343.10 L641.0 343.08 L641.5 343.06 L642.0 343.03 L642.5 343.01 L643.0 342.99 L643.5 342.96 L644.0 342.94 L644.5 342.92 L645.0 342.89 L645.5 342.87 L646.0 342.85 L646.5 342.82 L647.0 342.80 L647.5 342.78 L648.0 342.75 L648.5 342.73 L649.0 342.71 L649.5 342.68 L650.0 342.66 L650.5 342.63 L651.0 342.61 L651.5 342.59 L652.0 342.56 L652.5 342.54 L653.0 342.51 L653.5 342.49 L654.0 342.47 L654.5 342.44 L655.0 342.42 L655.5 342.39 L656.0 342.37 L656.5 342.34 L657.0 342.32 L657.5 342.30 L658.0 342.27 L658.5 342.25 L659.0 342.22 L659.5 342.20 L660.0 342.17 L660.5 342.15 L661.0 342.12 L661.5 342.10 L662.0 342.07 L662.5 342.05 L663.0 342.02 L663.5 342.00 L664.0 341.97 L664.5 341.95 L665.0 341.93 L665.5 341.90 L666.0 341.88 L666.5 341.85 L667.0 341.83 L667.5 341.80 L668.0 341.78 L668.5 341.75 L669.0 341.73 L669.5 341.70 L670.0 341.68 L670.5 341.65 L671.0 341.63 L671.5 341.60 L672.0 341.58 L672.5 341.55 L673.0 341.52 L673.5 341.50 L674.0 341.47 L674.5 341.45 L675.0 341.42 L675.5 341.40 L676.0 341.37 L676.5 341.35 L677.0 341.32 L677.5 341.30 L678.0 341.27 L678.5 341.25 L679.0 341.22 L679.5 341.20 L680.0 341.17 L680.5 341.15 L681.0 341.12 L681.5 341.10 L682.0 341.07 L682.5 341.05 L683.0 341.02 L683.5 341.00 L684.0 340.97 L684.5 340.95 L685.0 340.93 L685.5 340.90 L686.0 340.88 L686.5 340.85 L687.0 340.83 L687.5 340.80 L688.0 340.78 L688.5 340.75 L689.0 340.73 L689.5 340.70 L690.0 340.68 L690.5 340.65 L691.0 340.63 L691.5 340.61 L692.0 340.58 L692.5 340.56 L693.0 340.53 L693.5 340.51 L694.0 340.48 L694.5 340.46 L695.0 340.44 L695.5 340.41 L696.0 340.39 L696.5 340.36 L697.0 340.34 L697.5 340.32 L698.0 340.29 L698.5 340.27 L699.0 340.25 L699.5 340.22 L700.0 340.20 L700.5 340.18 L701.0 340.15 L701.5 340.13 L702.0 340.11 L702.5 340.08 L703.0 340.06 L703.5 340.04 L704.0 340.01 L704.5 339.99 L705.0 339.97 L705.5 339.95 L706.0 339.92 L706.5 339.90 L707.0 339.88 L707.5 339.86 L708.0 339.83 L708.5 339.81 L709.0 339.79 L709.5 339.77 L710.0 339.74 L710.5 339.72 L711.0 339.70 L711.5 339.68 L712.0 339.66 L712.5 339.63 L713.0 339.61 L713.5 339.59 L714.0 339.57 L714.5 339.54 L715.0 339.52 L715.5 339.50 L716.0 339.48 L716.5 339.45 L717.0 339.43 L717.5 339.41 L718.0 339.39 L718.5 339.37 L719.0 339.34 L719.5 339.32 L720.0 339.30 L720.5 339.28 L721.0 339.25 L721.5 339.23 L722.0 339.21 L722.5 339.18 L723.0 339.16 L723.5 339.14 L724.0 339.12 L724.5 339.09 L725.0 339.07 L725.5 339.05 L726.0 339.02 L726.5 339.00 L727.0 338.98 L727.5 338.95 L728.0 338.93 L728.5 338.91 L729.0 338.88 L729.5 338.86 L730.0 338.83 L730.5 338.81 L731.0 338.79 L731.5 338.76 L732.0 338.74 L732.5 338.71 L733.0 338.69 L733.5 338.66 L734.0 338.64 L734.5 338.61 L735.0 338.59 L735.5 338.56 L736.0 338.54 L736.5 338.51 L737.0 338.49 L737.5 338.46 L738.0 338.44 L738.5 338.41 L739.0 338.38 L739.5 338.36 L740.0 338.33 L740.5 338.30 L741.0 338.28 L741.5 338.25 L742.0 338.22 L742.5 338.20 L743.0 338.17 L743.5 338.14 L744.0 338.11 L744.5 338.08 L745.0 338.06 L745.5 338.03 L746.0 338.00 L746.5 337.97 L747.0 337.94 L747.5 337.91 L748.0 337.88 L748.5 337.85 L749.0 337.82 L749.5 337.79 L750.0 337.76 L750.5 337.73 L751.0 337.70 L751.5 337.67 L752.0 337.64 L752.5 337.61 L753.0 337.58 L753.5 337.55 L754.0 337.51 L754.5 337.48 L755.0 337.45 L755.5 337.42 L756.0 337.38 L756.5 337.35 L757.0 337.32 L757.5 337.29 L758.0 337.25 L758.5 337.22 L759.0 337.18 L759.5 337.15 L760.0 337.12 L760.5 337.08 L761.0 337.05 L761.5 337.01 L762.0 336.97 L762.5 336.94 L763.0 336.90 L763.5 336.87 L764.0 336.83 L764.5 336.79 L765.0 336.75 L765.5 336.72 L766.0 336.68 L766.5 336.64 L767.0 336.60 L767.5 336.56 L768.0 336.52 L768.5 336.49 L769.0 336.45 L769.5 336.41 L770.0 336.36 L770.5 336.32 L771.0 336.28 L771.5 336.24 L772.0 336.20 L772.5 336.16 L773.0 336.11 L773.5 336.07 L774.0 336.03 L774.5 335.98 L775.0 335.94 L775.5 335.89 L776.0 335.84 L776.5 335.79 L777.0 335.73 L777.5 335.67 L778.0 335.61 L778.5 335.54 L779.0 335.47 L779.5 335.40 L780.0 335.33 L780.5 335.26 L781.0 335.19 L781.5 335.11 L782.0 335.04 L782.5 334.96 L783.0 334.88 L783.5 334.81 L784.0 334.73 L784.5 334.66 L785.0 334.59 L785.5 334.52 L786.0 334.45 L786.5 334.38 L787.0 334.31 L787.5 334.25 L788.0 334.19 L788.5 334.13 L789.0 334.08 L789.5 334.03 L790.0 333.99 L790.5 333.94 L791.0 333.91 L791.5 333.88 L792.0 333.85 L792.5 333.83 L793.0 333.81 L793.5 333.80 L794.0 333.80 L794.5 333.80 L795.0 333.81 L795.5 333.82 L796.0 333.83 L796.5 333.84 L797.0 333.86 L797.5 333.88 L798.0 333.90 L798.5 333.93 L799.0 333.96 L799.5 333.99 L800.0 334.02 L800.5 334.06 L801.0 334.10 L801.5 334.14 L802.0 334.18 L802.5 334.23 L803.0 334.28 L803.5 334.33 L804.0 334.38 L804.5 334.43 L805.0 334.49 L805.5 334.54 L806.0 334.60 L806.5 334.68 L807.0 334.81 L807.5 334.98 L808.0 335.17 L808.5 335.38 L809.0 335.59 L809.5 335.81 L810.0 336.03 L810.5 336.22 L811.0 336.39 L811.5 336.53 L812.0 336.62 L812.5 336.66 L813.0 336.61 L813.5 336.42 L814.0 336.13 L814.5 335.75 L815.0 335.33 L815.5 334.88 L816.0 334.45 L816.5 334.06 L817.0 333.75 L817.5 333.54 L818.0 333.46 L818.5 333.46 L819.0 333.47 L819.5 333.48 L820.0 333.50 L820.5 333.52 L821.0 333.54 L821.5 333.57 L822.0 333.60 L822.5 333.62 L823.0 333.65 L823.5 333.68 L824.0 333.71 L824.5 333.74 L825.0 333.76 L825.5 333.78 L826.0 333.80 L826.5 333.82 L827.0 333.83 L827.5 333.84 L828.0 333.84 L828.5 333.81 L829.0 333.73 L829.5 333.59 L830.0 333.42 L830.5 333.21 L831.0 332.97 L831.5 332.71 L832.0 332.44 L832.5 332.17 L833.0 331.90 L833.5 331.64 L834.0 331.39 L834.5 331.17 L835.0 330.98 L835.5 330.80 L836.0 330.62 L836.5 330.45 L837.0 330.27 L837.5 330.09 L838.0 329.91 L838.5 329.73 L839.0 329.55 L839.5 329.37 L840.0 329.20 L840.5 329.03 L841.0 328.85 L841.5 328.68 L842.0 328.52 L842.5 328.36 L843.0 328.20 L843.5 328.04 L844.0 327.89 L844.5 327.75 L845.0 327.61 L845.5 327.48 L846.0 327.35 L846.5 327.23 L847.0 327.12 L847.5 327.01 L848.0 326.91 L848.5 326.82 L849.0 326.74 L849.5 326.67 L850.0 326.61 L850.5 326.55 L851.0 326.50 L851.5 326.44 L852.0 326.38 L852.5 326.33 L853.0 326.28 L853.5 326.22 L854.0 326.17 L854.5 326.12 L855.0 326.07 L855.5 326.02 L856.0 325.97 L856.5 325.92 L857.0 325.87 L857.5 325.82 L858.0 325.78 L858.5 325.73 L859.0 325.69 L859.5 325.64 L860.0 325.60 L860.5 325.56 L861.0 325.52 L861.5 325.48 L862.0 325.44 L862.5 325.41 L863.0 325.37 L863.5 325.34 L864.0 325.30 L864.5 325.27 L865.0 325.24 L865.5 325.21 L866.0 325.18 L866.5 325.15 L867.0 325.13 L867.5 325.10 L868.0 325.08 L868.5 325.06 L869.0 325.04 L869.5 325.02 L870.0 325.00 L870.5 324.99 L871.0 324.97 L871.5 324.96 L872.0 324.95 L872.5 324.94 L873.0 324.93 L873.5 324.93 L874.0 324.92 L874.5 324.92 L875.0 324.92 L875.5 324.92 L876.0 324.92 L876.5 324.93 L877.0 324.93 L877.5 324.94 L878.0 324.95 L878.5 324.96 L879.0 324.97 L879.5 324.99 L880.0 325.00 L880.5 325.02 L881.0 325.03 L881.5 325.05 L882.0 325.07 L882.5 325.09 L883.0 325.12 L883.5 325.14 L884.0 325.16 L884.5 325.19 L885.0 325.22 L885.5 325.24 L886.0 325.27 L886.5 325.30 L887.0 325.33 L887.5 325.36 L888.0 325.39 L888.5 325.43 L889.0 325.46 L889.5 325.49 L890.0 325.53 L890.5 325.56 L891.0 325.60 L891.5 325.63 L892.0 325.67 L892.5 325.70 L893.0 325.74 L893.5 325.78 L894.0 325.82 L894.5 325.85 L895.0 325.89 L895.5 325.93 L896.0 325.99 L896.5 326.05 L897.0 326.12 L897.5 326.19 L898.0 326.28 L898.5 326.36 L899.0 326.46 L899.5 326.55 L900.0 326.65 L900.5 326.75 L901.0 326.86 L901.5 326.96 L902.0 327.06 L902.5 327.16 L903.0 327.26 L903.5 327.36 L904.0 327.45 L904.5 327.54 L905.0 327.62 L905.5 327.69 L906.0 327.76 L906.5 327.82 L907.0 327.87 L907.5 327.91 L908.0 327.94 L908.5 327.96 L909.0 327.97 L909.5 327.96 L910.0 327.93 L910.5 327.88 L911.0 327.80 L911.5 327.71 L912.0 327.02 L912.5 325.50 L913.0 323.61 L913.5 321.83 L914.0 320.27 L914.5 318.70 L915.0 317.11 L915.5 315.50 L916.0 313.87 L916.5 312.21 L917.0 310.53 L917.5 308.81 L918.0 307.06 L918.5 305.27 L919.0 303.43 L919.5 301.55 L920.0 299.61 L920.5 297.41 L921.0 294.98 L921.5 292.45 L922.0 289.97 L922.5 287.70 L923.0 285.76 L923.5 284.30 L924.0 283.02 L924.5 281.76 L925.0 280.56 L925.5 279.45 L926.0 278.45 L926.5 277.59 L927.0 276.91 L927.5 276.44 L928.0 276.21 L928.5 276.22 L929.0 276.37 L929.5 276.60 L930.0 276.86 L930.5 277.10 L931.0 277.29 L931.5 277.36 L932.0 275.35 L932.5 270.53 L933.0 264.69 L933.5 257.09 L934.0 247.60 L934.5 238.45 L935.0 228.99 L935.5 219.47 L936.0 210.46 L936.5 201.95 L937.0 193.29 L937.5 184.71 L938.0 176.51 L938.5 169.10 L939.0 162.67 L939.5 156.68 L940.0 151.08 L940.5 145.85 L941.0 140.95 L941.5 136.29 L942.0 131.74 L942.5 127.10 L943.0 122.21 L943.5 117.43 L944.0 112.94 L944.5 109.10 L945.0 106.88 L945.5 107.07 L946.0 109.20 L946.5 112.72 L947.0 117.08 L947.5 121.79 L948.0 126.61 L948.5 131.73 L949.0 138.20 L949.5 145.37 L950.0 152.38 L950.5 158.22 L951.0 163.35 L951.5 168.47 L952.0 173.51 L952.5 178.35 L953.0 182.95 L953.5 187.22 L954.0 191.20 L954.5 195.06 L955.0 198.81 L955.5 202.48 L956.0 206.07 L956.5 209.63 L957.0 213.13 L957.5 216.50 L958.0 219.68 L958.5 222.81 L959.0 225.72 L959.5 228.35 L960.0 230.61 L960.5 232.66 L961.0 234.64 L961.5 236.48 L962.0 238.11 L962.5 239.45 L963.0 240.43 L963.5 240.98 L964.0 241.00 L964.5 240.22 L965.0 238.76 L965.5 236.78 L966.0 234.47 L966.5 231.99 L967.0 229.54 L967.5 227.28 L968.0 225.40 L968.5 223.66 L969.0 221.76 L969.5 219.81 L970.0 217.90 L970.5 216.12 L971.0 214.58 L971.5 213.35 L972.0 212.54 L972.5 212.24 L973.0 212.66 L973.5 213.82 L974.0 215.52 L974.5 217.57 L975.0 219.75 L975.5 221.89 L976.0 223.76 L976.5 225.50 L977.0 227.33 L977.5 229.21 L978.0 231.13 L978.5 233.05 L979.0 234.96 L979.5 236.83 L980.0 238.63 L980.5 240.33 L981.0 241.91 L981.5 243.35 L982.0 244.61 L982.5 245.74 L983.0 246.82 L983.5 247.85 L984.0 248.82 L984.5 249.75 L985.0 250.63 L985.5 251.47 L986.0 252.28 L986.5 253.05 L987.0 253.80 L987.5 254.52 L988.0 255.22 L988.5 255.60 L989.0 255.93 L989.5 256.21 L990.0 256.45 L990.5 256.67 L991.0 256.86 L991.5 257.05 L992.0 257.23 L992.5 257.42 L993.0 257.63 L993.5 257.87 L994.0 258.15 L994.5 258.49 L995.0 258.89 L995.5 259.36 L996.0 259.93 L996.5 260.57 L997.0 261.42 L997.5 262.44 L998.0 263.60 L998.5 264.87 L999.0 266.20 L999.5 267.58 L1000.0 268.94 L1000.5 270.31 L1001.0 271.73 L1001.5 273.20 L1002.0 274.71 L1002.5 276.27 L1003.0 277.88 L1003.5 279.54 L1004.0 281.24 L1004.5 282.99 L1005.0 284.78 L1005.5 286.62 L1006.0 288.50" stroke="#f08214" stroke-width="2.7" fill="none" stroke-linejoin="round"/>
<line x1="944.8" y1="37.6" x2="944.8" y2="330" stroke="#3aa3cf" stroke-width="2" stroke-dasharray="8 4.35"/>
<text x="597.00" y="368.30" text-anchor="middle" class="tl">4000</text>
<text x="655.34" y="368.30" text-anchor="middle" class="tl">3500</text>
<text x="713.69" y="368.30" text-anchor="middle" class="tl">3000</text>
<text x="772.03" y="368.30" text-anchor="middle" class="tl">2500</text>
<text x="830.37" y="368.30" text-anchor="middle" class="tl">2000</text>
<text x="888.71" y="368.30" text-anchor="middle" class="tl">1500</text>
<text x="947.06" y="368.30" text-anchor="middle" class="tl">1000</text>
<text x="1005.40" y="368.30" text-anchor="middle" class="tl">500</text>
<text x="589.50" y="352.20" text-anchor="end" class="tl">0.0</text>
<text x="589.50" y="289.00" text-anchor="end" class="tl">0.2</text>
<text x="589.50" y="225.80" text-anchor="end" class="tl">0.4</text>
<text x="589.50" y="162.60" text-anchor="end" class="tl">0.6</text>
<text x="589.50" y="99.40" text-anchor="end" class="tl">0.8</text>
<text x="589.50" y="36.20" text-anchor="end" class="tl">1.0</text>
<line x1="614.5" y1="48.60" x2="650.3" y2="48.60" stroke="#e20606" stroke-width="3.2"/>
<text x="655" y="53.40" class="lg">0s</text>
<line x1="614.5" y1="68.10" x2="650.3" y2="68.10" stroke="#12ec12" stroke-width="3.2"/>
<text x="655" y="72.90" class="lg">30s</text>
<line x1="614.5" y1="87.60" x2="650.3" y2="87.60" stroke="#0000d8" stroke-width="3.3"/>
<text x="655" y="92.40" class="lg">60s</text>
<line x1="614.5" y1="107.10" x2="650.3" y2="107.10" stroke="#00f4f4" stroke-width="4.2"/>
<text x="655" y="111.90" class="lg">90s</text>
<line x1="614.5" y1="126.80" x2="650.3" y2="126.80" stroke="#e412e4" stroke-width="3.9"/>
<text x="655" y="131.60" class="lg">120s</text>
<line x1="614.5" y1="146.30" x2="650.3" y2="146.30" stroke="#f08214" stroke-width="3.4"/>
<text x="655" y="151.10" class="lg">150s</text>
<text x="539.8" y="23.2" class="pl">(b)</text>
<text transform="translate(546,252.5) rotate(-90)" class="at" textLength="144.5" lengthAdjust="spacing">Absorbance (a.u.)</text>
<text x="718.5" y="407" class="at" letter-spacing="0.1">Wavenumber (cm<tspan dx="0.8" dy="-10.5" font-size="15.5">-</tspan><tspan dx="0.6" font-size="15.5">1</tspan><tspan dx="-0.3" dy="10.5">)</tspan></text>
</svg>
</body></html>
